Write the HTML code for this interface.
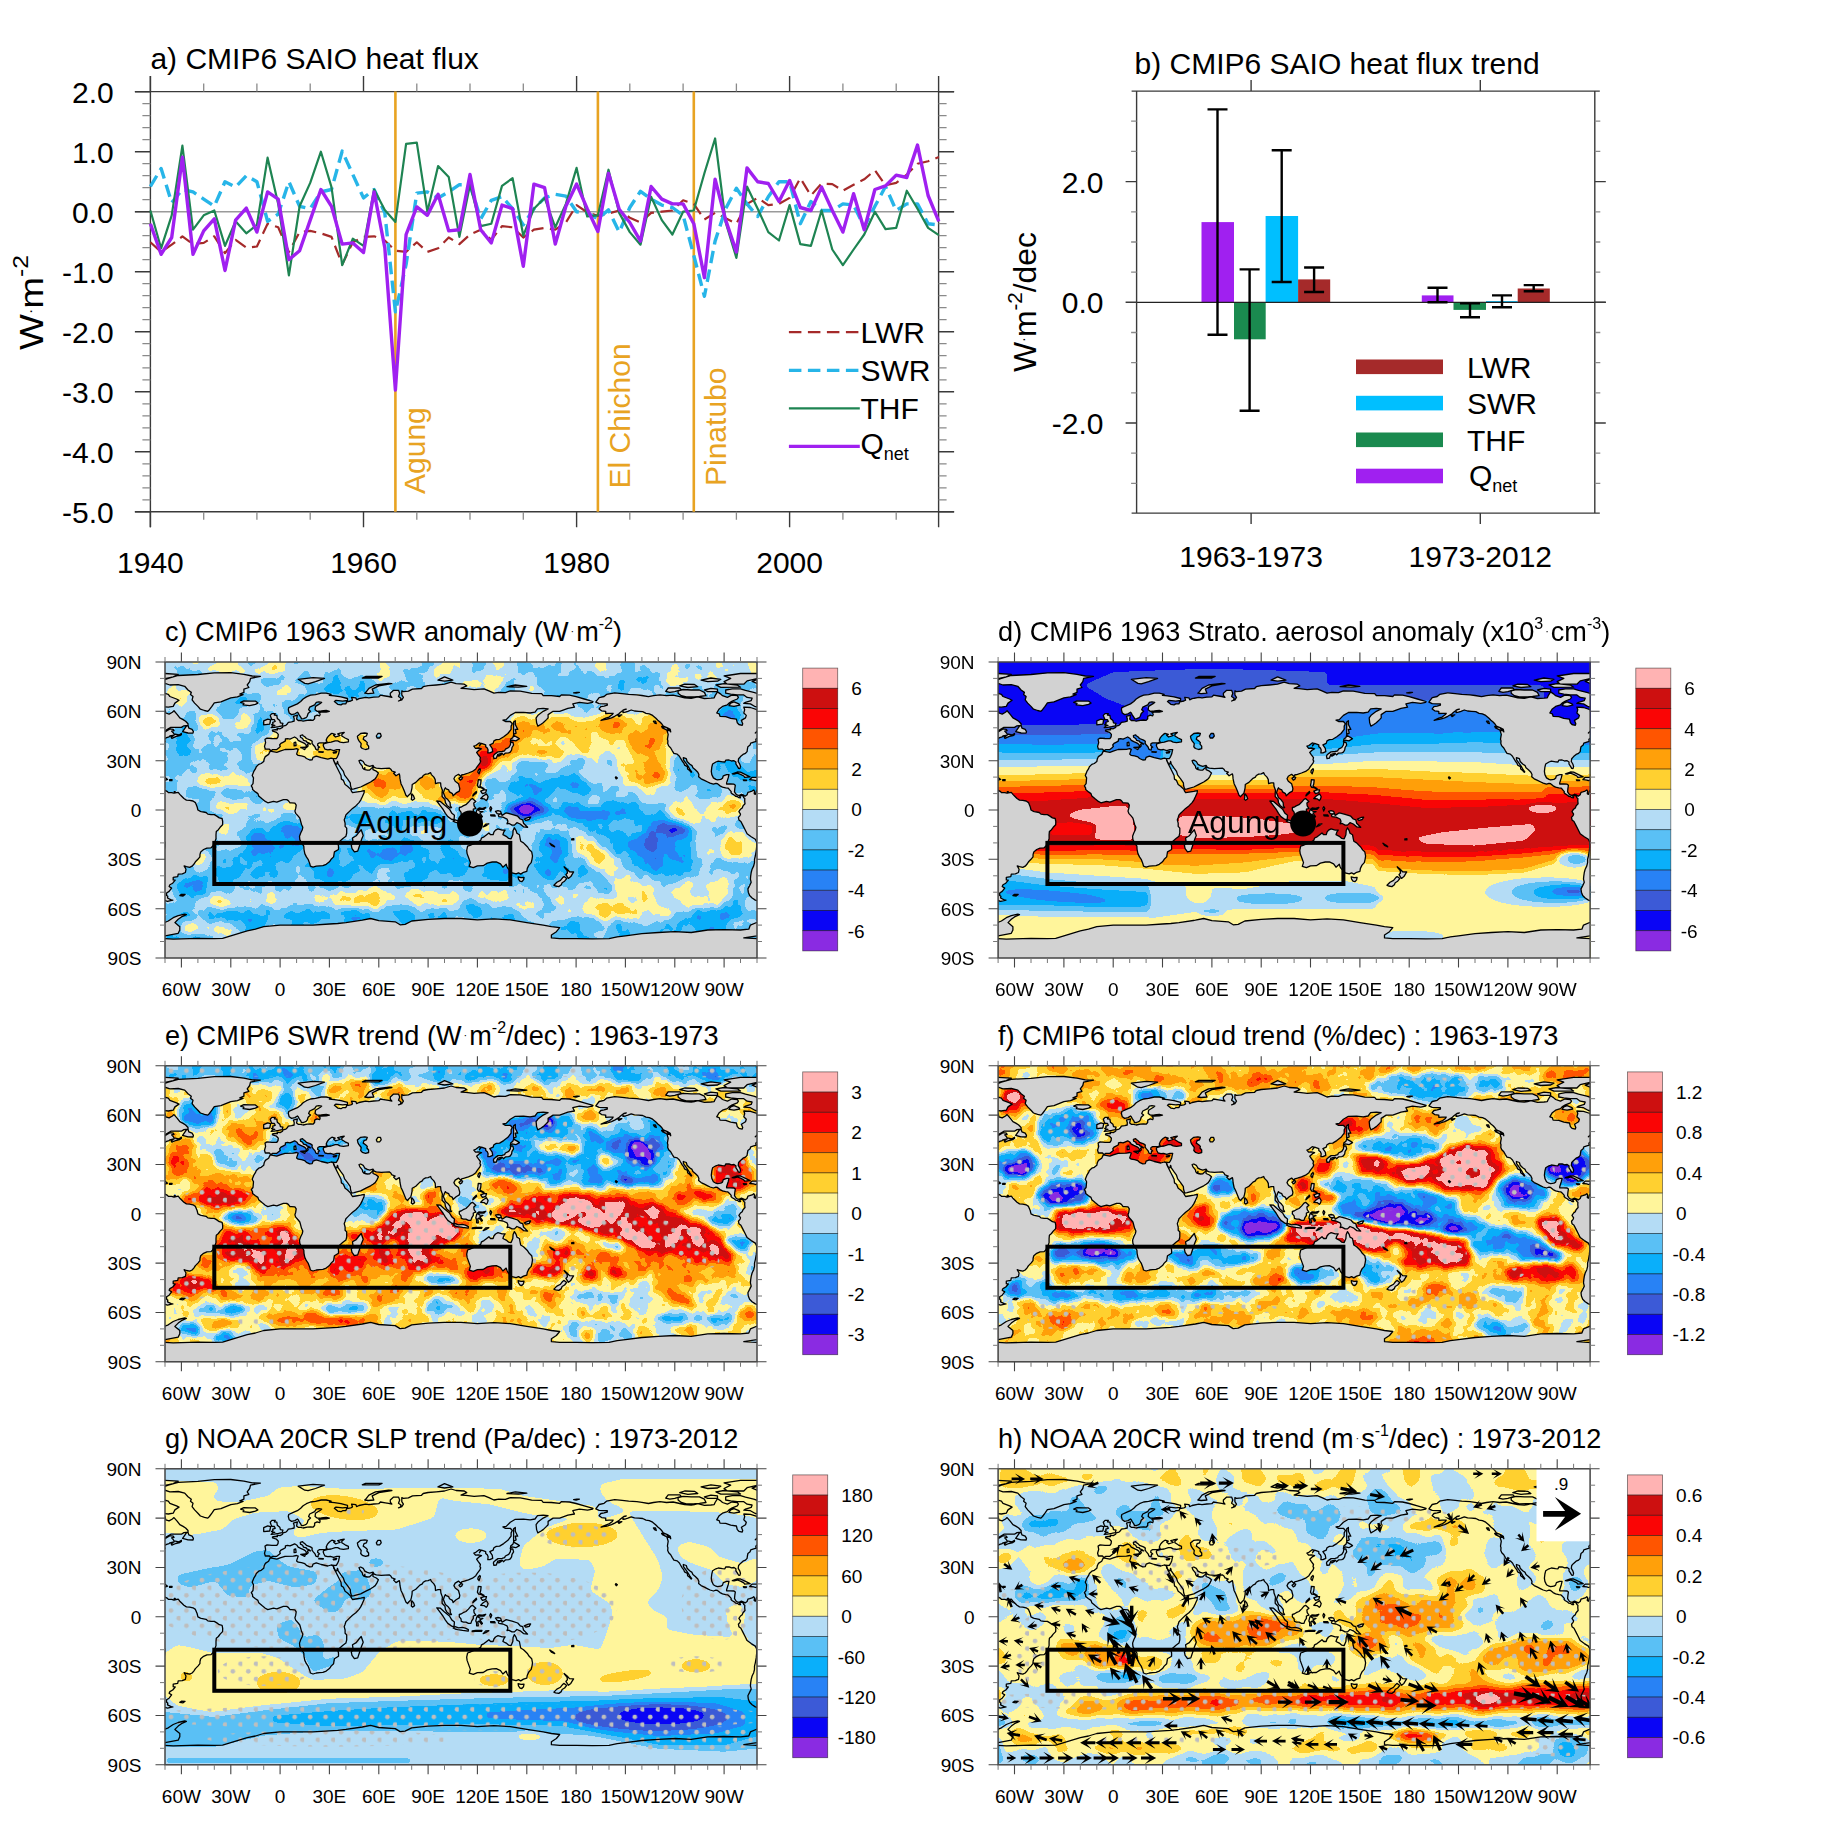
<!DOCTYPE html><html><head><meta charset="utf-8"><title>Figure</title><style>html,body{margin:0;padding:0;background:#fff}svg{display:block}svg text{font-family:"Liberation Sans",sans-serif}</style></head><body>
<svg width="1833" height="1833" viewBox="0 0 1833 1833">
<rect width="1833" height="1833" fill="#fff"/>
<defs><clipPath id="mc"><rect x="0" y="0" width="592.0" height="296.0"/></clipPath><g id="land"><path fill-rule="evenodd" d="M105.9 88.8L104.4 87.2L102.8 87.2L100.3 87.2L99.5 84.4L100.6 80.6L100.0 77.3L102.0 76.1L106.9 76.5L111.8 76.6L113.0 74.8L113.3 72.4L111.5 70.4L107.7 69.2L107.4 68.2L110.2 67.7L112.5 67.9L112.1 66.3L115.1 66.8L117.6 65.4L117.9 64.1L120.9 63.3L122.5 61.7L123.3 60.3L126.6 59.9L129.1 59.2L129.2 56.7L128.4 54.3L132.4 53.1L132.0 55.1L131.6 57.1L133.2 58.5L135.7 58.5L138.1 59.2L142.2 58.4L145.5 58.0L148.0 58.4L149.6 56.7L149.6 54.3L152.1 53.1L154.6 53.9L155.2 52.1L153.8 50.6L156.2 50.2L161.2 50.0L164.4 49.3L161.2 48.5L156.2 49.0L152.1 49.3L150.1 47.7L150.5 44.4L155.4 41.4L156.7 40.3L153.8 39.8L151.3 40.3L149.6 42.8L144.7 45.2L143.6 47.7L145.5 49.3L143.1 51.5L142.2 54.3L141.1 55.6L138.6 56.7L136.5 56.9L136.0 55.6L134.0 52.6L133.2 51.0L132.4 50.2L129.9 51.8L126.6 52.6L124.2 51.0L123.3 47.7L123.7 45.7L128.3 43.6L132.4 41.9L135.7 39.5L138.1 37.0L141.4 34.9L145.5 33.2L150.5 32.6L156.2 31.2L161.2 31.2L166.1 32.4L164.4 33.4L169.4 33.9L176.0 34.9L182.5 36.5L182.5 38.5L177.6 39.1L171.0 38.3L169.4 39.5L172.7 42.3L176.0 42.9L177.6 41.9L180.9 41.8L181.7 39.8L185.8 39.0L187.5 38.2L186.6 35.4L190.8 35.8L191.6 37.8L194.0 36.7L200.6 35.4L203.9 35.8L208.8 35.2L213.8 34.9L215.4 33.2L220.3 34.0L223.6 34.5L226.9 35.4L225.3 33.4L225.3 31.2L228.6 28.3L233.5 28.3L234.7 31.2L233.5 34.5L236.0 36.2L235.5 38.2L233.5 39.0L236.8 37.8L238.4 35.4L236.8 32.9L236.8 28.8L238.4 29.6L243.4 29.1L247.5 27.1L256.5 26.5L258.2 24.7L263.1 23.7L271.3 23.0L279.5 22.2L286.1 20.2L291.1 21.7L299.3 22.2L301.7 23.8L296.0 26.3L300.9 26.6L309.1 27.6L319.0 26.8L323.9 28.8L328.9 31.2L333.8 30.4L340.4 30.6L345.3 28.8L355.2 29.1L361.8 30.4L366.7 31.4L376.6 31.6L378.2 33.5L386.4 33.7L394.7 34.5L396.3 32.9L404.5 33.2L411.1 34.7L419.3 37.0L428.0 39.5L427.5 40.3L422.6 41.4L414.4 40.3L407.8 41.9L409.5 45.2L402.9 46.4L394.7 49.3L388.1 49.3L383.1 52.6L383.1 55.9L381.5 57.6L378.2 60.8L375.7 62.5L372.8 64.1L371.6 60.8L371.1 55.9L373.3 52.9L378.2 49.3L383.1 46.9L378.2 46.4L372.5 46.9L370.0 50.2L365.1 51.0L358.5 50.3L350.3 50.5L345.3 53.4L341.2 57.6L337.9 58.2L340.4 59.5L345.3 59.5L347.3 61.7L346.1 64.1L346.1 67.4L342.9 71.5L338.7 74.8L334.6 77.3L331.3 77.6L328.9 78.9L328.1 81.4L324.8 82.9L327.2 86.3L327.7 89.6L324.8 90.9L322.8 90.9L323.1 88.0L322.3 86.0L320.7 84.7L320.7 82.9L316.5 81.4L314.4 83.9L315.7 81.4L314.1 80.9L310.8 83.5L308.8 84.2L310.5 86.3L313.3 86.0L316.5 86.8L314.1 88.1L311.6 90.4L313.3 92.9L315.4 95.7L314.9 97.8L315.7 99.0L314.9 101.1L312.4 104.4L310.8 106.9L307.5 109.4L303.4 111.0L299.3 112.3L296.6 113.0L296.0 114.6L293.5 112.3L290.2 114.3L288.9 116.8L290.2 119.2L293.5 121.7L294.8 126.6L294.3 129.1L291.1 130.9L288.1 133.7L287.4 131.6L284.5 129.9L283.7 127.9L281.2 126.9L280.4 125.8L279.5 127.4L278.4 130.7L279.2 132.7L280.4 135.7L282.8 137.6L285.1 140.6L285.3 143.9L286.5 145.7L285.3 145.9L282.0 143.4L280.4 140.6L280.0 137.6L277.1 134.5L277.1 130.7L277.4 128.3L275.9 124.2L275.6 120.9L273.0 120.9L270.5 121.7L270.2 117.6L268.9 115.1L266.4 112.6L265.6 110.7L263.1 111.8L260.6 112.1L258.2 113.5L257.3 115.1L254.9 116.3L250.8 120.4L247.2 122.5L247.0 125.8L246.3 129.1L245.8 131.1L243.7 133.2L242.5 134.7L240.9 133.2L239.3 129.1L237.6 125.0L236.0 121.7L235.0 116.9L234.7 113.5L234.3 111.8L231.0 113.8L228.6 111.3L230.2 110.2L226.9 109.0L225.8 107.2L224.5 106.2L220.3 106.4L216.2 106.6L211.3 106.1L209.2 105.4L208.0 103.4L204.7 104.3L202.3 103.6L199.8 102.3L198.2 99.5L195.7 98.2L194.0 98.7L194.9 101.1L197.3 104.1L197.7 106.1L199.0 107.4L199.8 105.6L200.0 107.7L202.3 108.2L204.7 108.0L207.2 105.6L207.9 104.7L208.0 107.7L211.3 109.2L213.4 111.0L211.8 114.3L210.2 116.8L208.0 118.4L205.6 120.0L200.9 122.3L195.7 125.0L189.1 126.9L186.6 127.3L185.5 123.7L185.3 120.9L182.5 116.8L179.6 113.1L178.4 109.4L176.0 106.1L173.2 102.0L172.5 99.5L171.8 102.0L170.5 102.0L168.7 98.8L168.2 96.7L171.3 96.5L172.5 94.6L173.6 92.1L174.1 89.6L174.6 87.6L171.8 87.6L168.6 88.6L165.4 87.5L162.8 87.8L160.0 87.2L158.7 84.7L158.2 83.0L158.7 81.9L160.3 81.4L162.8 80.6L166.1 80.2L170.2 78.9L172.7 78.9L175.1 80.1L178.4 80.6L183.4 79.8L183.4 77.6L180.1 76.0L176.8 74.0L176.8 72.4L179.2 70.4L175.1 71.2L172.7 71.9L175.1 73.5L173.2 74.2L170.5 75.0L168.6 73.2L170.2 72.4L166.9 71.4L165.3 72.4L163.9 73.7L162.3 75.6L161.2 78.1L162.0 79.8L160.3 80.6L157.9 80.9L154.6 80.9L152.9 81.7L152.6 83.4L154.6 85.2L153.3 85.7L153.1 88.0L151.6 87.6L150.8 87.2L150.0 85.0L148.3 83.0L147.0 81.4L147.2 79.3L145.5 78.1L141.4 76.5L139.8 74.8L138.1 73.7L137.6 72.8L135.3 73.5L135.5 75.3L137.6 76.5L138.5 78.3L141.4 79.1L141.4 79.9L144.7 81.4L145.5 82.1L143.1 81.6L142.4 82.9L143.2 83.9L141.6 85.5L140.9 85.5L141.4 83.9L140.6 82.2L139.0 81.1L135.7 79.6L133.2 78.3L132.0 76.5L129.6 75.0L127.4 76.0L125.0 77.1L122.5 76.6L120.4 77.0L120.4 78.9L118.4 80.1L115.9 81.4L114.6 83.0L115.3 84.4L114.0 85.8L111.8 87.5L107.7 87.6ZM192.4 74.3L195.7 71.5L199.8 71.0L202.3 71.5L201.4 74.0L199.0 74.8L198.2 77.3L200.6 78.9L202.3 80.6L201.9 82.2L203.6 84.2L203.6 86.7L200.6 87.5L197.3 86.5L195.7 84.7L196.2 81.7L194.0 78.9L192.9 76.8ZM211.3 74.0L212.9 71.5L215.4 71.5L216.2 74.0L214.6 76.0L212.1 76.0Z"/><path d="M105.2 89.1L111.8 90.3L115.1 89.1L120.0 87.5L128.3 87.3L131.6 86.7L133.2 87.3L132.4 89.6L131.6 92.1L133.2 93.4L136.5 93.9L139.8 94.9L141.4 96.5L144.7 98.0L147.2 97.8L148.0 95.4L151.3 94.1L156.2 95.7L162.8 97.2L166.1 96.2L168.2 96.7L168.7 98.8L170.2 102.0L173.5 108.5L176.0 113.5L176.4 117.1L178.4 118.4L180.1 122.5L182.5 124.2L185.8 127.4L186.3 128.9L187.5 130.7L190.8 130.2L195.7 129.4L199.3 128.6L199.0 130.9L197.3 134.8L195.7 138.1L194.0 140.6L190.8 143.9L187.5 146.4L184.2 149.6L182.5 151.3L180.9 152.9L180.1 155.4L179.2 157.9L180.1 161.2L180.1 164.4L181.7 166.1L181.7 171.0L180.9 174.3L177.6 176.8L175.1 178.9L172.7 180.9L173.5 184.2L173.5 187.5L169.4 189.9L169.0 192.4L168.6 194.9L166.1 197.3L164.4 199.8L161.2 202.3L157.9 203.6L154.6 203.9L151.3 204.2L148.0 205.2L145.4 204.2L144.7 201.4L143.1 197.3L141.4 194.9L139.8 191.6L139.0 187.5L138.8 184.2L136.5 180.9L134.8 177.6L134.5 174.3L135.7 171.0L137.3 167.7L137.8 165.3L136.5 162.5L135.3 157.9L134.8 156.2L133.2 154.2L130.7 151.3L129.9 149.1L130.7 146.4L131.2 143.1L129.9 141.1L126.6 140.8L125.0 140.9L123.3 138.6L121.7 137.6L118.4 137.6L115.1 138.8L111.8 140.1L108.5 139.4L102.8 140.8L100.3 139.4L97.0 136.8L93.7 134.0L92.9 131.6L90.4 129.9L87.6 127.6L87.5 125.8L86.3 123.8L88.0 121.7L88.3 118.4L88.5 115.9L87.2 113.5L88.8 109.4L90.4 106.9L91.3 104.7L93.7 102.4L96.2 101.5L98.7 99.5L99.2 97.0L100.3 94.6L103.6 92.4ZM-161.2 40.1L-157.9 35.7L-152.9 34.5L-150.5 32.4L-142.2 30.8L-134.8 31.6L-128.3 32.4L-120.0 32.9L-115.1 33.5L-108.5 34.7L-103.6 33.7L-97.0 32.9L-90.4 33.7L-83.9 33.2L-77.3 34.7L-72.4 35.8L-65.8 36.3L-62.5 35.7L-59.2 34.9L-52.6 36.5L-46.0 36.2L-42.8 35.8L-41.9 33.7L-39.5 29.9L-36.2 32.1L-34.5 33.7L-29.6 35.4L-26.3 33.7L-24.7 33.2L-19.7 33.7L-18.6 35.4L-19.7 37.0L-24.7 39.0L-28.0 41.1L-29.6 42.8L-34.5 44.4L-37.8 46.9L-40.3 51.0L-37.8 51.8L-37.0 54.3L-31.2 54.6L-26.3 56.4L-20.6 57.2L-19.7 60.8L-18.1 62.5L-14.8 63.3L-14.3 61.7L-15.6 58.4L-11.5 55.9L-10.7 53.4L-13.2 51.0L-12.3 47.7L-13.2 45.2L-6.6 45.5L0.0 47.7L0.8 51.0L4.1 52.1L7.4 50.2L9.0 48.8L12.3 52.6L14.8 55.9L18.1 57.6L20.6 59.2L23.0 61.7L23.0 63.3L18.9 63.8L16.4 65.4L9.9 65.4L5.8 65.4L1.6 67.9L-1.6 71.0L0.8 69.4L4.9 66.9L8.2 67.4L9.0 68.6L6.6 69.1L8.2 70.7L9.0 72.0L14.0 73.0L16.4 71.5L16.4 72.7L14.8 73.7L10.7 74.7L6.9 76.3L6.2 75.1L9.0 73.2L4.9 74.0L4.1 74.8L1.6 75.6L-0.8 76.8L-1.3 78.1L0.0 79.4L-2.5 79.9L-6.2 81.1L-6.9 83.0L-9.0 84.7L-9.5 87.2L-9.9 89.6L-11.5 91.3L-14.0 92.4L-16.4 94.6L-18.4 96.7L-18.7 99.5L-17.3 102.0L-16.4 104.4L-17.1 106.6L-18.4 106.4L-19.7 104.1L-21.0 102.0L-21.0 100.0L-23.0 98.7L-25.5 99.0L-28.0 98.0L-31.2 98.2L-32.1 100.0L-34.5 99.8L-38.6 99.2L-41.1 100.0L-44.4 102.0L-45.2 105.2L-45.7 109.4L-45.2 112.6L-43.6 115.9L-41.1 117.4L-39.5 117.9L-36.2 117.4L-34.5 116.3L-33.7 113.8L-30.4 112.6L-28.0 112.6L-28.8 115.9L-29.6 118.4L-30.4 120.9L-30.4 122.0L-26.3 122.0L-23.0 122.2L-21.7 123.3L-22.2 126.6L-22.5 129.9L-20.6 132.7L-18.1 133.5L-15.6 132.4L-13.2 133.2L-12.0 134.3L-9.9 132.7L-9.0 130.4L-7.4 129.9L-4.9 129.1L-3.3 127.9L-2.5 129.1L-2.8 131.6L-1.6 132.4L-0.8 129.6L0.0 128.3L2.5 129.6L3.3 130.6L6.6 130.6L9.0 131.2L13.2 130.4L14.8 132.4L16.4 134.0L18.9 136.5L21.4 138.1L24.7 138.3L28.0 139.0L30.4 140.6L32.1 144.7L32.9 148.0L35.4 149.3L36.2 149.6L41.1 150.5L42.8 152.1L46.0 152.6L49.3 152.6L51.8 154.1L54.3 155.9L57.1 156.5L57.7 159.5L57.6 162.8L55.1 165.3L53.4 167.7L51.3 169.4L51.0 172.7L51.0 176.8L49.8 180.1L47.7 184.2L46.0 185.8L41.9 186.1L38.6 187.5L35.7 189.9L35.0 192.4L34.9 194.9L32.9 197.3L30.4 199.8L28.8 202.3L27.1 204.2L24.7 205.4L21.4 204.7L19.1 203.9L21.0 207.2L20.4 210.5L17.3 211.8L13.2 212.1L12.7 214.6L8.2 215.4L8.2 217.9L10.2 218.2L7.7 221.2L4.9 222.8L4.1 224.5L6.6 226.1L4.1 229.4L1.6 231.0L1.6 233.5L2.8 234.3L2.5 236.0L6.6 238.1L7.9 238.1L2.5 239.3L-1.6 238.1L-4.9 236.0L-7.4 233.5L-8.7 230.2L-9.0 226.9L-7.4 223.6L-5.8 220.3L-6.6 217.1L-6.2 213.8L-5.8 210.5L-4.9 207.2L-3.3 203.9L-2.5 200.6L-2.5 197.3L-1.6 194.0L-0.8 189.1L-0.3 184.2L-0.3 180.1L-1.6 177.3L-5.8 174.8L-9.9 171.8L-11.8 167.7L-14.0 163.6L-16.1 159.5L-18.1 157.9L-18.6 155.4L-16.9 153.6L-16.4 152.1L-18.1 149.6L-16.4 147.2L-14.8 145.9L-14.0 143.9L-12.0 141.7L-12.3 139.0L-12.2 136.5L-13.2 135.7L-14.0 134.0L-15.6 133.4L-17.3 134.5L-16.4 135.8L-18.1 135.7L-19.7 134.5L-21.4 134.3L-22.5 133.2L-24.7 131.9L-26.0 130.7L-25.8 129.6L-28.0 127.1L-29.1 126.1L-31.2 125.8L-34.5 125.1L-37.0 123.8L-39.5 121.7L-41.1 121.4L-43.6 122.2L-46.9 121.2L-49.3 120.0L-52.6 118.4L-55.9 116.8L-58.4 114.8L-58.0 112.6L-59.2 110.2L-61.7 107.7L-64.1 105.7L-65.0 103.6L-67.4 102.0L-69.9 99.5L-70.7 96.7L-73.7 95.7L-73.5 97.8L-71.5 100.6L-69.9 102.8L-68.2 105.2L-66.9 107.7L-65.3 109.8L-65.8 110.3L-67.4 108.5L-69.4 106.9L-69.6 104.7L-72.4 103.1L-73.2 101.1L-74.8 99.0L-76.5 96.2L-77.6 94.2L-79.8 92.1L-83.0 91.3L-84.7 88.8L-86.3 86.0L-88.3 83.9L-89.3 81.6L-89.1 78.9L-89.6 77.3L-88.8 72.4L-89.9 68.6L-87.2 68.6L-86.3 69.9L-86.8 67.4L-89.6 65.8L-93.7 64.1L-95.0 62.0L-97.0 60.0L-99.2 58.2L-101.1 56.2L-104.4 53.4L-107.7 51.8L-111.0 51.3L-114.3 49.7L-118.4 49.3L-122.5 49.0L-125.8 48.0L-129.1 49.3L-131.6 50.2L-134.0 50.6L-134.0 48.2L-130.7 47.2L-133.2 47.7L-136.5 50.2L-138.1 51.8L-142.2 54.3L-145.5 55.9L-149.6 57.2L-153.8 57.9L-155.9 58.4L-151.3 56.2L-148.0 55.1L-144.7 52.6L-143.9 51.3L-148.0 51.3L-151.3 51.5L-151.3 49.3L-155.4 48.8L-157.9 46.9L-156.2 44.7L-152.9 44.1L-149.6 43.2L-149.6 41.9L-152.9 41.9L-157.9 41.6ZM430.8 40.1L434.1 35.7L439.1 34.5L441.5 32.4L449.7 30.8L457.1 31.6L463.7 32.4L471.9 32.9L476.9 33.5L483.5 34.7L488.4 33.7L495.0 32.9L501.5 33.7L508.1 33.2L514.7 34.7L519.6 35.8L526.2 36.3L529.5 35.7L532.8 34.9L539.4 36.5L545.9 36.2L549.2 35.8L550.1 33.7L552.5 29.9L555.8 32.1L557.5 33.7L562.4 35.4L565.7 33.7L567.3 33.2L572.3 33.7L573.4 35.4L572.3 37.0L567.3 39.0L564.0 41.1L562.4 42.8L557.5 44.4L554.2 46.9L551.7 51.0L554.2 51.8L555.0 54.3L560.7 54.6L565.7 56.4L571.4 57.2L572.3 60.8L573.9 62.5L577.2 63.3L577.7 61.7L576.4 58.4L580.5 55.9L581.3 53.4L578.8 51.0L579.7 47.7L578.8 45.2L585.4 45.5L592.0 47.7L592.8 51.0L596.1 52.1L599.4 50.2L601.0 48.8L604.3 52.6L606.8 55.9L610.1 57.6L612.5 59.2L615.0 61.7L615.0 63.3L610.9 63.8L608.4 65.4L601.9 65.4L597.7 65.4L593.6 67.9L590.3 71.0L592.8 69.4L596.9 66.9L600.2 67.4L601.0 68.6L598.6 69.1L600.2 70.7L601.0 72.0L606.0 73.0L608.4 71.5L608.4 72.7L606.8 73.7L602.7 74.7L598.9 76.3L598.2 75.1L601.0 73.2L596.9 74.0L596.1 74.8L593.6 75.6L591.2 76.8L590.7 78.1L592.0 79.4L589.5 79.9L585.7 81.1L585.1 83.0L582.9 84.7L582.4 87.2L582.1 89.6L580.5 91.3L578.0 92.4L575.5 94.6L573.6 96.7L573.2 99.5L574.7 102.0L575.5 104.4L574.9 106.6L573.6 106.4L572.3 104.1L570.9 102.0L570.9 100.0L569.0 98.7L566.5 99.0L564.0 98.0L560.7 98.2L559.9 100.0L557.5 99.8L553.3 99.2L550.9 100.0L547.6 102.0L546.8 105.2L546.3 109.4L546.8 112.6L548.4 115.9L550.9 117.4L552.5 117.9L555.8 117.4L557.5 116.3L558.3 113.8L561.6 112.6L564.0 112.6L563.2 115.9L562.4 118.4L561.6 120.9L561.6 122.0L565.7 122.0L569.0 122.2L570.3 123.3L569.8 126.6L569.5 129.9L571.4 132.7L573.9 133.5L576.4 132.4L578.8 133.2L580.0 134.3L582.1 132.7L582.9 130.4L584.6 129.9L587.1 129.1L588.7 127.9L589.5 129.1L589.2 131.6L590.3 132.4L591.2 129.6L592.0 128.3L594.5 129.6L595.3 130.6L598.6 130.6L601.0 131.2L605.1 130.4L606.8 132.4L608.4 134.0L610.9 136.5L613.4 138.1L616.6 138.3L619.9 139.0L622.4 140.6L624.0 144.7L624.9 148.0L627.3 149.3L628.2 149.6L633.1 150.5L634.7 152.1L638.0 152.6L641.3 152.6L643.8 154.1L646.2 155.9L649.0 156.5L649.7 159.5L649.5 162.8L647.1 165.3L645.4 167.7L643.3 169.4L643.0 172.7L643.0 176.8L641.8 180.1L639.7 184.2L638.0 185.8L633.9 186.1L630.6 187.5L627.7 189.9L627.0 192.4L626.8 194.9L624.9 197.3L622.4 199.8L620.8 202.3L619.1 204.2L616.6 205.4L613.4 204.7L611.1 203.9L613.0 207.2L612.4 210.5L609.3 211.8L605.1 212.1L604.6 214.6L600.2 215.4L600.2 217.9L602.2 218.2L599.7 221.2L596.9 222.8L596.1 224.5L598.6 226.1L596.1 229.4L593.6 231.0L593.6 233.5L594.8 234.3L594.5 236.0L598.6 238.1L599.9 238.1L594.5 239.3L590.3 238.1L587.1 236.0L584.6 233.5L583.3 230.2L582.9 226.9L584.6 223.6L586.2 220.3L585.4 217.1L585.7 213.8L586.2 210.5L587.1 207.2L588.7 203.9L589.5 200.6L589.5 197.3L590.3 194.0L591.2 189.1L591.7 184.2L591.7 180.1L590.3 177.3L586.2 174.8L582.1 171.8L580.1 167.7L578.0 163.6L575.9 159.5L573.9 157.9L573.4 155.4L575.0 153.6L575.5 152.1L573.9 149.6L575.5 147.2L577.2 145.9L578.0 143.9L580.0 141.7L579.7 139.0L579.8 136.5L578.8 135.7L578.0 134.0L576.4 133.4L574.7 134.5L575.5 135.8L573.9 135.7L572.3 134.5L570.6 134.3L569.5 133.2L567.3 131.9L566.0 130.7L566.2 129.6L564.0 127.1L562.9 126.1L560.7 125.8L557.5 125.1L555.0 123.8L552.5 121.7L550.9 121.4L548.4 122.2L545.1 121.2L542.7 120.0L539.4 118.4L536.1 116.8L533.6 114.8L533.9 112.6L532.8 110.2L530.3 107.7L527.9 105.7L527.0 103.6L524.6 102.0L522.1 99.5L521.3 96.7L518.3 95.7L518.5 97.8L520.5 100.6L522.1 102.8L523.7 105.2L525.1 107.7L526.7 109.8L526.2 110.3L524.6 108.5L522.6 106.9L522.4 104.7L519.6 103.1L518.8 101.1L517.2 99.0L515.5 96.2L514.4 94.2L512.2 92.1L508.9 91.3L507.3 88.8L505.7 86.0L503.7 83.9L502.7 81.6L502.9 78.9L502.4 77.3L503.2 72.4L502.0 68.6L504.8 68.6L505.7 69.9L505.2 67.4L502.4 65.8L498.3 64.1L496.9 62.0L495.0 60.0L492.8 58.2L490.9 56.2L487.6 53.4L484.3 51.8L481.0 51.3L477.7 49.7L473.6 49.3L469.5 49.0L466.2 48.0L462.9 49.3L460.4 50.2L458.0 50.6L458.0 48.2L461.3 47.2L458.8 47.7L455.5 50.2L453.9 51.8L449.7 54.3L446.5 55.9L442.3 57.2L438.2 57.9L436.1 58.4L440.7 56.2L444.0 55.1L447.3 52.6L448.1 51.3L444.0 51.3L440.7 51.5L440.7 49.3L436.6 48.8L434.1 46.9L435.8 44.7L439.1 44.1L442.3 43.2L442.3 41.9L439.1 41.9L434.1 41.6ZM-4.9 19.4L3.3 16.4L13.2 13.5L32.9 12.5L49.3 10.9L65.8 10.7L78.9 12.3L87.2 14.0L95.4 14.3L85.5 16.4L84.7 19.7L82.2 23.0L83.9 25.5L78.9 27.1L78.9 30.4L74.8 32.1L78.1 32.6L72.4 34.9L65.8 35.8L60.8 37.8L55.9 39.8L49.3 40.8L46.9 44.4L44.4 47.7L42.8 49.3L39.5 48.5L35.4 47.2L32.9 44.4L29.6 41.1L27.1 37.8L28.0 34.5L25.5 32.4L26.3 30.4L23.0 28.0L19.7 24.3L13.2 22.7L4.9 23.0L0.0 21.4ZM587.1 19.4L595.3 16.4L605.1 13.5L624.9 12.5L641.3 10.9L657.8 10.7L670.9 12.3L679.1 14.0L687.4 14.3L677.5 16.4L676.7 19.7L674.2 23.0L675.8 25.5L670.9 27.1L670.9 30.4L666.8 32.1L670.1 32.6L664.3 34.9L657.8 35.8L652.8 37.8L647.9 39.8L641.3 40.8L638.8 44.4L636.4 47.7L634.7 49.3L631.4 48.5L627.3 47.2L624.9 44.4L621.6 41.1L619.1 37.8L619.9 34.5L617.5 32.4L618.3 30.4L615.0 28.0L611.7 24.3L605.1 22.7L596.9 23.0L592.0 21.4ZM14.0 38.3L9.9 41.1L8.2 44.4L3.3 45.2L-1.6 44.7L-6.6 41.9L-13.2 41.4L-11.5 40.3L-5.8 38.6L-4.9 36.2L-9.9 35.4L-13.2 32.9L-19.7 32.9L-26.3 32.1L-31.2 31.2L-31.2 28.0L-24.7 26.8L-16.4 26.8L-11.5 28.4L-3.3 30.4L3.3 32.4L4.9 34.5L11.5 37.0ZM606.0 38.3L601.9 41.1L600.2 44.4L595.3 45.2L590.3 44.7L585.4 41.9L578.8 41.4L580.5 40.3L586.2 38.6L587.1 36.2L582.1 35.4L578.8 32.9L572.3 32.9L565.7 32.1L560.7 31.2L560.7 28.0L567.3 26.8L575.5 26.8L580.5 28.4L588.7 30.4L595.3 32.4L596.9 34.5L603.5 37.0ZM-13.2 22.2L-29.6 22.2L-32.9 19.7L-26.3 16.4L-32.9 14.0L-16.4 11.5L0.0 11.5L13.2 12.3L8.2 14.8L-3.3 17.3L-9.9 18.9ZM578.8 22.2L562.4 22.2L559.1 19.7L565.7 16.4L559.1 14.0L575.5 11.5L592.0 11.5L605.1 12.3L600.2 14.8L588.7 17.3L582.1 18.9ZM534.4 34.5L541.0 33.7L539.4 30.4L534.4 28.0L526.2 28.0L518.0 27.5L513.1 28.8L513.1 31.2L516.3 33.7L521.3 35.0L529.5 34.9ZM504.8 30.4L500.7 29.3L503.2 26.0L514.7 26.0L516.3 27.6L509.8 29.6ZM575.5 25.2L555.8 25.3L550.9 23.0L559.1 21.7L572.3 23.0ZM532.8 24.7L522.9 25.5L514.7 23.8L519.6 22.2L529.5 22.5ZM552.5 29.6L542.7 29.6L539.4 28.0L545.9 26.3L552.5 27.1ZM552.5 19.2L542.7 19.7L536.1 18.1L545.9 16.0L555.8 17.3ZM574.7 43.2L569.0 44.4L564.0 43.6L565.7 41.1L569.0 39.8L573.9 41.9ZM17.6 69.6L23.0 71.0L28.0 71.2L28.4 69.6L27.1 67.4L23.8 66.1L23.0 63.3L21.4 64.1L19.7 66.6ZM567.3 111.8L572.3 110.0L575.5 110.2L580.5 112.6L585.1 114.8L579.7 115.3L578.8 114.0L575.5 112.3L572.3 111.2L569.0 112.1ZM-7.2 117.7L-4.9 115.3L0.0 115.4L2.6 117.4L-1.6 118.7L-3.3 118.1ZM584.7 117.7L587.1 115.3L592.0 115.4L594.6 117.4L590.3 118.7L588.7 118.1ZM578.3 117.9L581.6 118.1L581.3 118.7L578.8 118.7ZM4.6 117.7L7.1 117.7L6.9 118.6L4.6 118.6ZM75.6 40.3L78.9 38.8L85.5 39.1L90.4 39.1L92.9 41.1L90.4 42.3L84.7 43.7L78.1 42.9L78.9 41.4ZM106.1 65.6L109.4 65.3L113.5 64.6L117.2 63.8L117.9 61.3L115.4 60.8L114.8 58.4L112.3 56.4L111.8 53.4L109.4 53.1L110.2 51.6L106.9 51.6L105.2 53.4L106.1 55.9L106.9 57.6L109.4 57.7L110.2 59.5L107.7 60.3L108.0 61.7L106.6 62.8L109.8 63.5L107.7 64.1ZM98.7 62.8L104.7 62.2L105.2 60.0L105.6 57.9L102.8 57.1L98.7 58.9ZM133.2 17.3L139.8 21.4L143.1 21.9L150.5 19.7L159.5 16.4L148.0 15.6ZM199.8 31.2L203.1 31.7L208.8 31.2L207.2 27.1L213.8 23.8L226.9 21.7L223.6 21.4L210.5 23.0L203.9 26.3L201.4 29.6ZM273.0 18.1L279.5 19.2L287.8 18.1L279.5 14.8ZM342.0 24.7L353.5 25.2L361.8 24.3L350.3 23.0ZM197.3 16.0L213.8 16.0L217.1 14.5L200.6 14.5ZM411.1 31.2L414.4 30.4L411.9 30.3L408.6 30.9ZM328.9 96.5L331.3 96.2L332.2 93.7L333.8 92.1L337.1 91.3L338.4 92.9L340.4 91.1L343.7 90.8L345.3 90.1L346.6 88.0L347.0 85.5L348.6 83.0L347.8 80.1L345.7 80.6L345.3 83.0L343.7 85.5L340.4 87.2L339.6 88.8L337.1 89.5L333.0 89.8L330.5 91.6L328.9 92.9L328.4 94.2ZM332.7 92.3L336.3 91.8L336.3 92.6L333.8 94.1L332.5 93.4ZM345.3 79.8L347.0 78.1L350.8 78.9L354.4 76.8L352.7 75.6L348.6 73.3L347.8 75.6L345.8 77.0ZM348.6 72.4L351.1 71.2L350.3 67.4L352.7 67.4L350.3 62.5L350.3 58.7L348.6 60.0L348.6 65.8ZM312.8 110.2L314.1 111.8L315.4 107.7L314.9 106.6L313.3 108.2ZM293.9 116.4L295.2 118.1L296.8 117.1L297.6 115.4L296.0 114.9ZM246.3 132.2L246.7 134.8L246.3 137.3L247.5 138.3L249.6 136.8L248.6 134.0L247.0 132.0ZM313.3 117.6L316.1 117.9L315.7 121.7L314.9 124.2L319.0 126.6L319.0 127.4L315.7 125.5L313.6 125.3L312.4 123.3L312.9 120.9ZM315.7 136.5L318.2 134.0L321.5 131.9L323.1 134.8L322.3 137.3L321.2 138.5L319.0 136.8ZM315.7 129.1L317.4 131.6L320.7 130.7L321.5 127.8L319.0 127.8ZM307.8 134.0L311.6 130.7L311.3 129.4L308.3 132.4ZM271.8 139.0L275.4 139.4L279.5 143.1L284.5 147.2L286.9 151.3L289.4 153.3L289.1 157.5L286.9 157.5L282.8 154.6L280.4 151.3L277.9 147.2L275.4 143.9ZM288.1 159.2L290.2 157.9L293.5 159.0L297.3 158.5L300.4 159.3L303.4 160.8L303.2 162.3L297.6 161.6L292.7 160.8L290.1 160.2ZM294.3 145.5L296.0 145.2L298.1 143.9L300.9 142.7L303.4 140.3L305.9 137.3L307.5 136.5L310.8 139.4L308.8 141.1L309.1 143.9L310.8 146.4L308.3 147.2L308.3 149.6L306.7 152.1L305.9 154.6L303.4 154.6L300.9 153.3L298.5 153.4L296.3 152.6L296.0 150.1L294.3 148.0ZM311.6 157.0L313.3 157.0L312.9 152.9L314.1 152.4L316.5 155.4L317.4 154.6L314.9 151.0L317.9 149.6L314.9 149.3L312.8 148.0L314.1 147.2L319.0 147.3L320.7 145.5L317.4 146.4L314.1 146.0L312.4 147.2L311.6 148.8L310.8 152.1L311.6 153.8ZM330.5 149.3L333.0 148.7L335.5 149.3L337.1 153.4L341.2 150.8L347.0 152.3L352.7 154.2L355.2 157.0L357.7 157.9L358.5 161.2L362.6 165.3L358.5 164.8L355.2 162.0L351.9 160.7L349.4 163.1L347.0 163.1L343.7 161.3L342.0 161.8L342.9 159.2L342.0 157.0L337.9 155.2L333.8 154.6L333.3 152.9L335.5 151.8L332.2 151.6ZM318.2 164.9L320.7 162.1L323.9 161.8L320.7 163.9ZM307.2 162.0L310.8 161.6L317.0 161.5L316.5 162.6L310.8 162.6L307.2 162.8ZM324.8 146.4L325.6 144.7L326.7 146.4L325.6 149.1ZM325.6 152.9L329.7 152.9L330.2 154.1L325.9 153.9ZM359.3 157.0L363.4 155.4L365.6 155.1L364.2 157.5L360.9 158.4ZM302.6 184.2L301.7 188.3L302.1 191.6L304.2 197.3L305.4 200.6L304.2 204.4L308.3 205.6L312.4 203.9L318.2 203.7L322.3 201.1L327.2 200.0L331.3 199.8L335.5 201.8L337.9 205.2L341.2 202.3L342.0 204.7L342.9 206.4L345.0 208.5L347.0 210.8L351.1 211.8L353.5 210.8L355.7 212.1L358.5 210.3L361.8 209.3L362.3 206.4L363.9 203.1L366.2 200.6L367.0 197.3L367.5 194.0L366.7 189.9L364.2 187.5L362.6 185.0L360.1 182.5L358.5 180.9L355.7 179.2L355.2 176.8L354.4 172.7L351.9 171.3L351.1 168.6L349.4 165.8L348.1 168.6L347.8 172.7L346.1 176.8L343.7 176.4L341.2 174.3L337.9 172.7L338.7 170.2L340.1 168.1L337.1 168.1L333.0 166.9L330.5 168.2L328.9 170.2L328.1 172.7L325.6 172.7L323.9 171.0L320.7 173.5L319.0 174.8L316.5 176.0L315.7 178.4L312.4 180.6L308.3 181.9L305.0 183.4ZM353.1 214.9L356.0 215.6L359.0 215.3L358.5 217.9L356.8 219.7L354.9 219.2L353.5 217.1ZM399.1 204.7L402.1 207.2L404.5 209.8L408.6 210.0L407.0 212.6L405.8 214.6L403.4 216.4L402.5 215.1L400.9 212.6L402.4 211.0L402.1 208.5L399.6 205.6ZM399.1 214.6L401.7 216.6L399.6 219.2L397.1 220.7L396.3 222.8L393.8 224.6L390.5 224.0L388.9 223.3L391.9 220.3L395.5 218.4L397.9 215.4ZM196.2 167.7L198.2 173.5L196.5 177.6L194.9 182.5L192.7 189.1L189.4 189.9L187.0 186.6L186.3 183.4L188.1 180.6L187.5 176.0L191.2 173.8L194.0 170.2ZM384.8 181.2L388.9 183.8L389.7 184.8L386.4 183.4ZM406.7 176.8L408.8 176.6L408.8 177.9L406.7 177.9ZM450.9 114.8L452.4 115.9L451.2 116.9L450.4 115.6ZM16.4 232.4L20.1 232.5L18.1 234.0L14.8 233.5ZM129.1 80.6L130.7 80.2L131.1 83.5L129.1 83.9ZM135.7 85.5L140.6 85.2L139.8 87.6ZM153.8 89.6L158.4 89.9L157.9 90.4L153.8 90.1ZM168.2 90.4L171.8 89.5L171.0 90.9L168.6 91.1ZM9.9 130.1L10.2 129.7L9.2 129.7ZM496.6 64.5L501.5 65.4L504.0 68.2L501.5 67.9L497.4 65.8ZM488.4 59.2L490.5 59.2L491.3 61.7L489.5 60.8ZM455.5 53.6L456.8 52.8L453.0 53.4L453.9 54.6ZM-82.2 269.7L-65.8 270.5L-49.3 268.0L-32.9 267.7L-16.4 268.0L-8.2 267.2L-6.6 263.1L3.3 259.0L8.2 255.7L13.2 253.7L19.7 252.1L21.4 252.6L16.4 254.9L13.2 257.3L9.9 260.6L14.8 264.7L14.8 268.0L13.2 271.3L0.0 273.8L-13.2 275.9L8.2 277.1L32.9 276.3L49.3 276.6L57.6 276.3L65.8 273.8L74.0 271.3L82.2 268.9L90.4 267.2L98.7 264.7L115.1 263.1L131.6 263.1L148.0 263.1L164.4 262.0L172.7 261.5L180.9 260.6L197.3 258.2L205.6 256.5L213.8 258.7L230.2 259.8L235.1 262.8L240.1 262.3L246.7 259.0L263.1 257.3L279.5 256.5L296.0 256.5L312.4 257.8L328.9 256.9L345.3 257.8L361.8 260.6L378.2 263.1L386.4 264.7L394.7 265.7L391.4 269.7L386.4 273.0L386.4 275.9L394.7 276.6L411.1 276.6L427.5 276.9L444.0 276.6L452.2 274.9L460.4 273.8L476.9 271.7L493.3 270.5L509.8 269.7L526.2 270.5L542.7 268.0L559.1 267.7L575.5 268.0L583.8 267.2L585.4 263.1L595.3 259.0L600.2 255.7L605.1 253.7L611.7 252.1L613.4 252.6L608.4 254.9L605.1 257.3L601.9 260.6L606.8 264.7L606.8 268.0L605.1 271.3L592.0 273.8L578.8 275.9L600.2 277.1L624.9 276.3L641.3 276.6L649.5 276.3L657.8 273.8L666.0 271.3L674.2 268.9L674.2 304.2L-82.2 304.2Z"/></g>
<filter id="fd" filterUnits="userSpaceOnUse" x="-50" y="-50" width="692.0" height="396.0" color-interpolation-filters="sRGB"><feGaussianBlur in="SourceGraphic" stdDeviation="2.2" result="b"/><feComponentTransfer in="b"><feFuncR type="discrete" tableValues="0.541 0.039 0.235 0.157 0.039 0.353 0.706 1.000 1.000 1.000 1.000 0.980 0.804 1.000"/><feFuncG type="discrete" tableValues="0.169 0.020 0.353 0.510 0.686 0.753 0.863 0.961 0.816 0.627 0.333 0.020 0.063 0.702"/><feFuncB type="discrete" tableValues="0.886 0.961 0.843 0.961 0.980 0.961 0.961 0.608 0.188 0.039 0.000 0.020 0.063 0.702"/></feComponentTransfer></filter><filter id="fe" filterUnits="userSpaceOnUse" x="-50" y="-50" width="692.0" height="396.0" color-interpolation-filters="sRGB"><feGaussianBlur in="SourceGraphic" stdDeviation="3.5" result="b"/><feTurbulence type="fractalNoise" baseFrequency="0.045" numOctaves="3" seed="7" result="n"/><feColorMatrix in="n" type="matrix" values="1 0 0 0 0 1 0 0 0 0 1 0 0 0 0 0 0 0 0 1" result="ng"/><feComposite in="b" in2="ng" operator="arithmetic" k1="0" k2="1" k3="0.45" k4="-0.225" result="f"/><feComponentTransfer in="f"><feFuncR type="discrete" tableValues="0.541 0.039 0.235 0.157 0.039 0.353 0.706 1.000 1.000 1.000 1.000 0.980 0.804 1.000"/><feFuncG type="discrete" tableValues="0.169 0.020 0.353 0.510 0.686 0.753 0.863 0.961 0.816 0.627 0.333 0.020 0.063 0.702"/><feFuncB type="discrete" tableValues="0.886 0.961 0.843 0.961 0.980 0.961 0.961 0.608 0.188 0.039 0.000 0.020 0.063 0.702"/></feComponentTransfer></filter><filter id="ff" filterUnits="userSpaceOnUse" x="-50" y="-50" width="692.0" height="396.0" color-interpolation-filters="sRGB"><feGaussianBlur in="SourceGraphic" stdDeviation="3.5" result="b"/><feTurbulence type="fractalNoise" baseFrequency="0.045" numOctaves="3" seed="11" result="n"/><feColorMatrix in="n" type="matrix" values="1 0 0 0 0 1 0 0 0 0 1 0 0 0 0 0 0 0 0 1" result="ng"/><feComposite in="b" in2="ng" operator="arithmetic" k1="0" k2="1" k3="0.42" k4="-0.21" result="f"/><feComponentTransfer in="f"><feFuncR type="discrete" tableValues="0.541 0.039 0.235 0.157 0.039 0.353 0.706 1.000 1.000 1.000 1.000 0.980 0.804 1.000"/><feFuncG type="discrete" tableValues="0.169 0.020 0.353 0.510 0.686 0.753 0.863 0.961 0.816 0.627 0.333 0.020 0.063 0.702"/><feFuncB type="discrete" tableValues="0.886 0.961 0.843 0.961 0.980 0.961 0.961 0.608 0.188 0.039 0.000 0.020 0.063 0.702"/></feComponentTransfer></filter><filter id="fg" filterUnits="userSpaceOnUse" x="-50" y="-50" width="692.0" height="396.0" color-interpolation-filters="sRGB"><feGaussianBlur in="SourceGraphic" stdDeviation="2.5" result="b"/><feComponentTransfer in="b"><feFuncR type="discrete" tableValues="0.541 0.039 0.235 0.157 0.039 0.353 0.706 1.000 1.000 1.000 1.000 0.980 0.804 1.000"/><feFuncG type="discrete" tableValues="0.169 0.020 0.353 0.510 0.686 0.753 0.863 0.961 0.816 0.627 0.333 0.020 0.063 0.702"/><feFuncB type="discrete" tableValues="0.886 0.961 0.843 0.961 0.980 0.961 0.961 0.608 0.188 0.039 0.000 0.020 0.063 0.702"/></feComponentTransfer></filter><filter id="fh" filterUnits="userSpaceOnUse" x="-50" y="-50" width="692.0" height="396.0" color-interpolation-filters="sRGB"><feGaussianBlur in="SourceGraphic" stdDeviation="3.5" result="b"/><feTurbulence type="fractalNoise" baseFrequency="0.03" numOctaves="2" seed="5" result="n"/><feColorMatrix in="n" type="matrix" values="1 0 0 0 0 1 0 0 0 0 1 0 0 0 0 0 0 0 0 1" result="ng"/><feComposite in="b" in2="ng" operator="arithmetic" k1="0" k2="1" k3="0.26" k4="-0.13" result="f"/><feComponentTransfer in="f"><feFuncR type="discrete" tableValues="0.541 0.039 0.235 0.157 0.039 0.353 0.706 1.000 1.000 1.000 1.000 0.980 0.804 1.000"/><feFuncG type="discrete" tableValues="0.169 0.020 0.353 0.510 0.686 0.753 0.863 0.961 0.816 0.627 0.333 0.020 0.063 0.702"/><feFuncB type="discrete" tableValues="0.886 0.961 0.843 0.961 0.980 0.961 0.961 0.608 0.188 0.039 0.000 0.020 0.063 0.702"/></feComponentTransfer></filter><filter id="fc" filterUnits="userSpaceOnUse" x="-50" y="-50" width="692.0" height="396.0" color-interpolation-filters="sRGB"><feGaussianBlur in="SourceGraphic" stdDeviation="4" result="b"/><feTurbulence type="fractalNoise" baseFrequency="0.04" numOctaves="3" seed="3" result="n"/><feColorMatrix in="n" type="matrix" values="1 0 0 0 0 1 0 0 0 0 1 0 0 0 0 0 0 0 0 1" result="ng"/><feComposite in="b" in2="ng" operator="arithmetic" k1="0" k2="1" k3="0.3" k4="-0.15" result="f"/><feComponentTransfer in="f"><feFuncR type="discrete" tableValues="0.541 0.039 0.235 0.157 0.039 0.353 0.706 1.000 1.000 1.000 1.000 0.980 0.804 1.000"/><feFuncG type="discrete" tableValues="0.169 0.020 0.353 0.510 0.686 0.753 0.863 0.961 0.816 0.627 0.333 0.020 0.063 0.702"/><feFuncB type="discrete" tableValues="0.886 0.961 0.843 0.961 0.980 0.961 0.961 0.608 0.188 0.039 0.000 0.020 0.063 0.702"/></feComponentTransfer></filter><pattern id="dots" patternUnits="userSpaceOnUse" width="15.46" height="15.2"><circle cx="6" cy="5" r="2.35" fill="#BEBEBE"/><circle cx="13.73" cy="12.6" r="2.35" fill="#BEBEBE"/></pattern><clipPath id="ste"><ellipse cx="52.6" cy="132.4" rx="36.2" ry="9.9"/><ellipse cx="95.4" cy="182.5" rx="44.4" ry="21.4"/><ellipse cx="28.0" cy="222.0" rx="21.4" ry="11.5"/><ellipse cx="619.9" cy="222.0" rx="21.4" ry="11.5"/><ellipse cx="246.7" cy="167.7" rx="52.6" ry="23.0"/><ellipse cx="238.4" cy="194.0" rx="36.2" ry="13.2"/><ellipse cx="180.9" cy="200.6" rx="16.4" ry="13.2"/><ellipse cx="427.5" cy="152.9" rx="98.7" ry="14.8" transform="rotate(12 427.5 152.9)"/><ellipse cx="518.0" cy="177.6" rx="41.1" ry="14.8" transform="rotate(30 518.0 177.6)"/><ellipse cx="478.5" cy="87.2" rx="21.4" ry="16.4"/><ellipse cx="356.8" cy="102.0" rx="29.6" ry="9.9"/><ellipse cx="386.4" cy="62.5" rx="23.0" ry="13.2"/><ellipse cx="82.2" cy="3.3" rx="115.1" ry="7.4"/><ellipse cx="674.2" cy="3.3" rx="115.1" ry="7.4"/><ellipse cx="361.8" cy="6.6" rx="98.7" ry="4.9"/><ellipse cx="-46.0" cy="6.6" rx="65.8" ry="4.9"/><ellipse cx="545.9" cy="6.6" rx="65.8" ry="4.9"/><ellipse cx="-24.7" cy="108.5" rx="19.7" ry="18.1"/><ellipse cx="567.3" cy="108.5" rx="19.7" ry="18.1"/><ellipse cx="394.7" cy="197.3" rx="36.2" ry="14.8"/><ellipse cx="98.7" cy="256.5" rx="32.9" ry="4.9"/><ellipse cx="164.4" cy="225.3" rx="98.7" ry="4.9"/></clipPath><clipPath id="stf"><ellipse cx="70.7" cy="62.5" rx="26.3" ry="14.8"/><ellipse cx="19.7" cy="102.0" rx="19.7" ry="8.2"/><ellipse cx="611.7" cy="102.0" rx="19.7" ry="8.2"/><ellipse cx="65.8" cy="126.6" rx="24.7" ry="9.9" transform="rotate(-22 65.8 126.6)"/><ellipse cx="95.4" cy="155.4" rx="39.5" ry="9.0"/><ellipse cx="100.3" cy="186.6" rx="13.2" ry="4.9"/><ellipse cx="118.4" cy="39.5" rx="9.9" ry="6.6"/><ellipse cx="200.6" cy="149.6" rx="6.6" ry="6.6"/><ellipse cx="399.6" cy="152.1" rx="32.9" ry="8.2"/><ellipse cx="521.3" cy="125.0" rx="14.8" ry="8.2"/><ellipse cx="545.9" cy="185.8" rx="14.8" ry="6.6" transform="rotate(22 545.9 185.8)"/><ellipse cx="467.0" cy="100.3" rx="26.3" ry="21.4"/><ellipse cx="419.3" cy="108.5" rx="13.2" ry="4.9"/><ellipse cx="320.7" cy="166.1" rx="28.0" ry="9.9"/><ellipse cx="373.3" cy="174.3" rx="19.7" ry="9.9"/><ellipse cx="440.7" cy="187.5" rx="28.0" ry="11.5"/><ellipse cx="559.1" cy="166.1" rx="16.4" ry="14.8" transform="rotate(40 559.1 166.1)"/><ellipse cx="-19.7" cy="100.3" rx="18.1" ry="14.8"/><ellipse cx="572.3" cy="100.3" rx="18.1" ry="14.8"/><ellipse cx="419.3" cy="276.3" rx="32.9" ry="8.2"/><ellipse cx="444.0" cy="233.5" rx="49.3" ry="11.5"/><ellipse cx="57.6" cy="249.9" rx="29.6" ry="13.2"/><ellipse cx="230.2" cy="243.4" rx="57.6" ry="4.9"/><ellipse cx="435.8" cy="16.4" rx="41.1" ry="4.9"/><ellipse cx="518.0" cy="207.2" rx="8.2" ry="4.9"/><ellipse cx="263.1" cy="213.8" rx="9.9" ry="4.9"/><ellipse cx="164.4" cy="23.0" rx="6.6" ry="3.3"/></clipPath><clipPath id="stg"><ellipse cx="164.4" cy="138.1" rx="177.6" ry="44.4"/><ellipse cx="756.4" cy="138.1" rx="177.6" ry="44.4"/><ellipse cx="361.8" cy="139.8" rx="90.4" ry="36.2"/><ellipse cx="-36.2" cy="134.8" rx="39.5" ry="36.2"/><ellipse cx="555.8" cy="134.8" rx="39.5" ry="36.2"/><ellipse cx="-296.0" cy="248.3" rx="328.9" ry="13.2"/><ellipse cx="296.0" cy="248.3" rx="328.9" ry="13.2"/><ellipse cx="888.0" cy="248.3" rx="328.9" ry="13.2"/><ellipse cx="98.7" cy="202.3" rx="46.0" ry="14.8"/><ellipse cx="411.1" cy="67.4" rx="36.2" ry="11.5"/><ellipse cx="328.9" cy="210.5" rx="19.7" ry="8.2"/><ellipse cx="378.2" cy="203.9" rx="16.4" ry="11.5"/><ellipse cx="531.1" cy="195.7" rx="32.9" ry="8.2"/><ellipse cx="189.1" cy="42.8" rx="9.9" ry="4.9"/><ellipse cx="164.4" cy="269.7" rx="123.3" ry="8.2"/><ellipse cx="-65.8" cy="269.7" rx="74.0" ry="13.2"/><ellipse cx="526.2" cy="269.7" rx="74.0" ry="13.2"/></clipPath><clipPath id="sth"><ellipse cx="254.9" cy="161.2" rx="52.6" ry="16.4"/><ellipse cx="407.8" cy="146.4" rx="59.2" ry="21.4"/><ellipse cx="-52.6" cy="187.5" rx="52.6" ry="18.1"/><ellipse cx="539.4" cy="187.5" rx="52.6" ry="18.1"/><ellipse cx="-296.0" cy="231.9" rx="345.3" ry="10.7"/><ellipse cx="296.0" cy="231.9" rx="345.3" ry="10.7"/><ellipse cx="888.0" cy="231.9" rx="345.3" ry="10.7"/><ellipse cx="370.0" cy="176.0" rx="21.4" ry="11.5"/><ellipse cx="106.9" cy="187.5" rx="29.6" ry="11.5"/><ellipse cx="381.5" cy="83.9" rx="29.6" ry="13.2"/><ellipse cx="172.7" cy="102.0" rx="49.3" ry="23.0"/><ellipse cx="74.0" cy="95.4" rx="19.7" ry="9.9"/><ellipse cx="41.1" cy="126.6" rx="41.1" ry="8.2"/><ellipse cx="633.1" cy="126.6" rx="41.1" ry="8.2"/><ellipse cx="32.9" cy="180.9" rx="16.4" ry="32.9"/><ellipse cx="624.9" cy="180.9" rx="16.4" ry="32.9"/><ellipse cx="148.0" cy="62.5" rx="24.7" ry="13.2"/><ellipse cx="421.0" cy="268.0" rx="26.3" ry="4.9"/><ellipse cx="361.8" cy="46.0" rx="90.4" ry="8.2"/><ellipse cx="444.0" cy="57.6" rx="23.0" ry="4.9"/><ellipse cx="-32.9" cy="276.3" rx="32.9" ry="11.5"/><ellipse cx="559.1" cy="276.3" rx="32.9" ry="11.5"/><ellipse cx="238.4" cy="88.8" rx="49.3" ry="9.9"/><ellipse cx="164.4" cy="271.3" rx="65.8" ry="4.9"/></clipPath>
</defs>
<text x="150.4" y="68.8" font-size="30" font-family="Liberation Sans, sans-serif">a) CMIP6 SAIO heat flux</text>
<line x1="134.9" y1="211.7" x2="954.1" y2="211.7" stroke="#9a9a9a" stroke-width="1.6"/>
<path d="M134.9 91.6H954.1M134.9 511.7H954.1M150.4 76.1V527.2M938.6 76.1V527.2" stroke="#3a3a3a" stroke-width="1.4" fill="none"/>
<text x="113.8" y="102.6" font-size="30" text-anchor="end" font-family="Liberation Sans, sans-serif">2.0</text>
<text x="113.8" y="162.6" font-size="30" text-anchor="end" font-family="Liberation Sans, sans-serif">1.0</text>
<text x="113.8" y="222.6" font-size="30" text-anchor="end" font-family="Liberation Sans, sans-serif">0.0</text>
<text x="113.8" y="282.6" font-size="30" text-anchor="end" font-family="Liberation Sans, sans-serif">-1.0</text>
<text x="113.8" y="342.6" font-size="30" text-anchor="end" font-family="Liberation Sans, sans-serif">-2.0</text>
<text x="113.8" y="402.7" font-size="30" text-anchor="end" font-family="Liberation Sans, sans-serif">-3.0</text>
<text x="113.8" y="462.7" font-size="30" text-anchor="end" font-family="Liberation Sans, sans-serif">-4.0</text>
<text x="113.8" y="522.7" font-size="30" text-anchor="end" font-family="Liberation Sans, sans-serif">-5.0</text>
<text x="150.4" y="573" font-size="30" text-anchor="middle" font-family="Liberation Sans, sans-serif">1940</text>
<text x="363.5" y="573" font-size="30" text-anchor="middle" font-family="Liberation Sans, sans-serif">1960</text>
<text x="576.6" y="573" font-size="30" text-anchor="middle" font-family="Liberation Sans, sans-serif">1980</text>
<text x="789.6" y="573" font-size="30" text-anchor="middle" font-family="Liberation Sans, sans-serif">2000</text>
<path d="M134.9 91.7H150.4M938.6 91.7H954.1M134.9 151.7H150.4M938.6 151.7H954.1M134.9 211.7H150.4M938.6 211.7H954.1M134.9 271.7H150.4M938.6 271.7H954.1M134.9 331.7H150.4M938.6 331.7H954.1M134.9 391.8H150.4M938.6 391.8H954.1M134.9 451.8H150.4M938.6 451.8H954.1M134.9 511.8H150.4M938.6 511.8H954.1M150.4 76.1V91.6M150.4 511.7V527.2M363.5 76.1V91.6M363.5 511.7V527.2M576.6 76.1V91.6M576.6 511.7V527.2M789.6 76.1V91.6M789.6 511.7V527.2" stroke="#3a3a3a" stroke-width="1.4" fill="none"/>
<path d="M142.4 103.7H150.4M938.6 103.7H946.6M142.4 115.7H150.4M938.6 115.7H946.6M142.4 127.7H150.4M938.6 127.7H946.6M142.4 139.7H150.4M938.6 139.7H946.6M142.4 163.7H150.4M938.6 163.7H946.6M142.4 175.7H150.4M938.6 175.7H946.6M142.4 187.7H150.4M938.6 187.7H946.6M142.4 199.7H150.4M938.6 199.7H946.6M142.4 223.7H150.4M938.6 223.7H946.6M142.4 235.7H150.4M938.6 235.7H946.6M142.4 247.7H150.4M938.6 247.7H946.6M142.4 259.7H150.4M938.6 259.7H946.6M142.4 283.7H150.4M938.6 283.7H946.6M142.4 295.7H150.4M938.6 295.7H946.6M142.4 307.7H150.4M938.6 307.7H946.6M142.4 319.7H150.4M938.6 319.7H946.6M142.4 343.7H150.4M938.6 343.7H946.6M142.4 355.7H150.4M938.6 355.7H946.6M142.4 367.8H150.4M938.6 367.8H946.6M142.4 379.8H150.4M938.6 379.8H946.6M142.4 403.8H150.4M938.6 403.8H946.6M142.4 415.8H150.4M938.6 415.8H946.6M142.4 427.8H150.4M938.6 427.8H946.6M142.4 439.8H150.4M938.6 439.8H946.6M142.4 463.8H150.4M938.6 463.8H946.6M142.4 475.8H150.4M938.6 475.8H946.6M142.4 487.8H150.4M938.6 487.8H946.6M142.4 499.8H150.4M938.6 499.8H946.6M203.7 83.6V91.6M203.7 511.7V519.7M256.9 83.6V91.6M256.9 511.7V519.7M310.2 83.6V91.6M310.2 511.7V519.7M416.8 83.6V91.6M416.8 511.7V519.7M470.0 83.6V91.6M470.0 511.7V519.7M523.3 83.6V91.6M523.3 511.7V519.7M629.8 83.6V91.6M629.8 511.7V519.7M683.1 83.6V91.6M683.1 511.7V519.7M736.4 83.6V91.6M736.4 511.7V519.7M842.9 83.6V91.6M842.9 511.7V519.7M896.2 83.6V91.6M896.2 511.7V519.7" stroke="#8a8a8a" stroke-width="1.3" fill="none"/>
<text transform="translate(42.5,350) rotate(-90)" font-size="34" font-family="Liberation Sans, sans-serif" textLength="95" lengthAdjust="spacingAndGlyphs">W<tspan font-size="14" dy="-8">·</tspan><tspan dy="8">m</tspan><tspan font-size="22" dy="-15">-2</tspan></text>
<line x1="395.4" y1="91.6" x2="395.4" y2="511.7" stroke="#E8A322" stroke-width="2.6"/>
<text transform="translate(424.5,494) rotate(-90)" font-size="30" fill="#E8A322" font-family="Liberation Sans, sans-serif">Agung</text>
<line x1="597.9" y1="91.6" x2="597.9" y2="511.7" stroke="#E8A322" stroke-width="2.6"/>
<text transform="translate(630,488.5) rotate(-90)" font-size="30" fill="#E8A322" font-family="Liberation Sans, sans-serif">El Chichon</text>
<line x1="693.8" y1="91.6" x2="693.8" y2="511.7" stroke="#E8A322" stroke-width="2.6"/>
<text transform="translate(725.6,486) rotate(-90)" font-size="30" fill="#E8A322" font-family="Liberation Sans, sans-serif">Pinatubo</text>
<path d="M150.4 242.3L161.1 251.9L171.7 244.7L182.4 236.3L193.0 244.1L203.7 242.9L214.3 236.3L225.0 253.1L235.6 239.9L246.3 247.7L256.9 246.5L267.6 223.7L278.2 227.3L288.9 251.9L299.6 232.1L310.2 230.9L320.9 233.3L331.5 236.9L342.2 264.5L352.8 242.3L363.5 236.9L374.1 236.3L384.8 240.5L395.4 250.7L406.1 251.9L416.8 242.3L427.4 251.9L438.1 248.3L448.7 237.5L459.4 244.1L470.0 234.5L480.7 229.7L491.3 239.9L502.0 226.1L512.6 227.3L523.3 237.5L533.9 229.7L544.6 227.9L555.3 229.7L565.9 222.5L576.6 205.1L587.2 212.3L597.9 215.9L608.5 213.5L619.2 210.5L629.8 217.7L640.5 222.5L651.1 212.9L661.8 211.7L672.4 210.5L683.1 200.3L693.8 203.9L704.4 219.5L715.1 212.9L725.7 218.3L736.4 223.7L747.0 203.9L757.7 197.9L768.3 205.1L779.0 203.9L789.6 197.9L800.3 178.1L810.9 195.5L821.6 183.5L832.3 184.1L842.9 190.7L853.6 184.7L864.2 179.3L874.9 170.3L885.5 185.3L896.2 182.9L906.8 174.5L917.5 163.7L928.1 161.3L938.8 157.1" stroke="#A52A2A" stroke-width="2.2" fill="none" stroke-dasharray="12.5 6.5" stroke-linejoin="round"/>
<path d="M150.4 186.5L161.1 168.5L171.7 202.7L182.4 189.5L193.0 191.9L203.7 199.1L214.3 206.3L225.0 181.7L235.6 187.1L246.3 175.7L256.9 181.7L267.6 221.3L278.2 214.1L288.9 181.7L299.6 206.3L310.2 208.7L320.9 191.9L331.5 189.5L342.2 151.1L352.8 174.5L363.5 197.9L374.1 189.5L384.8 212.9L395.4 311.9L406.1 264.5L416.8 193.1L427.4 191.9L438.1 197.9L448.7 191.9L459.4 184.7L470.0 184.7L480.7 218.9L491.3 200.3L502.0 196.7L512.6 208.7L523.3 224.9L533.9 208.7L544.6 197.9L555.3 194.3L565.9 196.1L576.6 211.7L587.2 212.9L597.9 218.9L608.5 209.9L619.2 232.1L629.8 207.5L640.5 191.3L651.1 199.1L661.8 205.1L672.4 207.5L683.1 215.3L693.8 255.5L704.4 296.3L715.1 241.1L725.7 208.7L736.4 188.3L747.0 203.9L757.7 216.5L768.3 196.7L779.0 181.7L789.6 181.7L800.3 223.7L810.9 201.5L821.6 210.5L832.3 210.5L842.9 203.9L853.6 205.1L864.2 226.7L874.9 206.3L885.5 186.5L896.2 210.5L906.8 203.9L917.5 203.9L928.1 223.7L938.8 224.9" stroke="#27B5E8" stroke-width="3.4" fill="none" stroke-dasharray="12.5 6.5" stroke-linejoin="round"/>
<path d="M150.4 210.5L161.1 248.3L171.7 215.3L182.4 145.7L193.0 229.7L203.7 215.3L214.3 210.5L225.0 245.9L235.6 221.3L246.3 233.3L256.9 224.9L267.6 157.7L278.2 203.9L288.9 275.3L299.6 206.3L310.2 182.9L320.9 151.7L331.5 187.1L342.2 265.1L352.8 238.7L363.5 245.9L374.1 189.5L384.8 209.9L395.4 221.9L406.1 143.9L416.8 142.7L427.4 211.7L438.1 166.1L448.7 176.9L459.4 236.9L470.0 184.7L480.7 226.1L491.3 223.7L502.0 185.9L512.6 178.1L523.3 235.7L533.9 208.7L544.6 197.9L555.3 227.3L565.9 203.9L576.6 167.9L587.2 216.5L597.9 215.3L608.5 169.7L619.2 212.9L629.8 232.1L640.5 244.7L651.1 196.7L661.8 220.1L672.4 234.5L683.1 211.7L693.8 210.5L704.4 173.3L715.1 138.5L725.7 222.5L736.4 257.9L747.0 186.5L757.7 208.7L768.3 232.1L779.0 240.5L789.6 205.1L800.3 244.1L810.9 245.9L821.6 210.5L832.3 249.5L842.9 265.1L853.6 249.5L864.2 234.5L874.9 211.7L885.5 229.1L896.2 227.9L906.8 190.7L917.5 208.7L928.1 227.9L938.8 235.1" stroke="#1E8452" stroke-width="2.2" fill="none" stroke-linejoin="round"/>
<path d="M150.4 223.7L161.1 254.3L171.7 237.5L182.4 157.1L193.0 254.3L203.7 230.9L214.3 218.9L225.0 270.5L235.6 220.1L246.3 208.1L256.9 232.1L267.6 191.9L278.2 199.1L288.9 259.7L299.6 250.7L310.2 220.1L320.9 189.5L331.5 206.3L342.2 244.1L352.8 242.9L363.5 252.5L374.1 191.9L384.8 247.7L395.4 390.0L406.1 234.5L416.8 206.9L427.4 215.3L438.1 194.3L448.7 230.9L459.4 229.7L470.0 174.5L480.7 229.7L491.3 242.9L502.0 205.1L512.6 208.7L523.3 266.3L533.9 184.1L544.6 187.7L555.3 244.1L565.9 206.3L576.6 184.1L587.2 208.7L597.9 231.5L608.5 173.3L619.2 209.3L629.8 222.5L640.5 241.1L651.1 186.5L661.8 199.1L672.4 203.9L683.1 203.9L693.8 223.7L704.4 277.7L715.1 179.3L725.7 220.1L736.4 251.9L747.0 167.9L757.7 181.7L768.3 183.5L779.0 201.5L789.6 180.5L800.3 207.5L810.9 210.5L821.6 187.1L832.3 210.5L842.9 232.1L853.6 193.7L864.2 229.7L874.9 189.5L885.5 185.9L896.2 175.1L906.8 177.5L917.5 145.1L928.1 195.5L938.8 221.3" stroke="#A020F0" stroke-width="3.4" fill="none" stroke-linejoin="round"/>
<line x1="788.9" y1="332.2" x2="859.8" y2="332.2" stroke="#A52A2A" stroke-width="2.2" stroke-dasharray="12.5 6.5"/>
<line x1="788.9" y1="370.4" x2="859.8" y2="370.4" stroke="#27B5E8" stroke-width="3.4" stroke-dasharray="12.5 6.5"/>
<line x1="788.9" y1="408.3" x2="859.8" y2="408.3" stroke="#1E8452" stroke-width="2.2"/>
<line x1="788.9" y1="446.4" x2="859.8" y2="446.4" stroke="#A020F0" stroke-width="3.4"/>
<text x="860.5" y="343.1" font-size="30" font-family="Liberation Sans, sans-serif">LWR</text>
<text x="860.5" y="381.1" font-size="30" font-family="Liberation Sans, sans-serif">SWR</text>
<text x="860.5" y="419" font-size="30" font-family="Liberation Sans, sans-serif">THF</text>
<text x="860.5" y="454.4" font-size="30" font-family="Liberation Sans, sans-serif">Q<tspan font-size="18" dy="6">net</tspan></text>
<text x="1134.5" y="73.5" font-size="30" font-family="Liberation Sans, sans-serif">b) CMIP6 SAIO heat flux trend</text>
<rect x="1201.5" y="222.1" width="32.5" height="80.2" fill="#A020F0"/>
<rect x="1234.0" y="302.3" width="31.7" height="37.0" fill="#1A8A4F"/>
<rect x="1265.6" y="216.0" width="32.5" height="86.3" fill="#00BFFF"/>
<rect x="1298.1" y="279.4" width="32.1" height="22.9" fill="#A52A2A"/>
<rect x="1421.8" y="295.4" width="31.7" height="6.9" fill="#A020F0"/>
<rect x="1453.5" y="302.3" width="32.5" height="7.6" fill="#1A8A4F"/>
<rect x="1486.0" y="301.1" width="31.7" height="1.2" fill="#00BFFF"/>
<rect x="1517.7" y="288.5" width="32.1" height="13.8" fill="#A52A2A"/>
<line x1="1136.6" y1="302.3" x2="1605.8" y2="302.3" stroke="#222" stroke-width="1.2"/>
<path d="M1217.5 109.4V334.7M1207.5 109.4H1227.5M1207.5 334.7H1227.5M1249.6 269.4V410.7M1239.6 269.4H1259.6M1239.6 410.7H1259.6M1281.7 150.3V282.0M1271.7 150.3H1291.7M1271.7 282.0H1291.7M1314.1 267.5V292.0M1304.1 267.5H1324.1M1304.1 292.0H1324.1M1437.5 287.8V302.3M1427.5 287.8H1447.5M1427.5 302.3H1447.5M1470.0 303.4V317.2M1460.0 303.4H1480.0M1460.0 317.2H1480.0M1502.0 295.4V307.2M1492.0 295.4H1512.0M1492.0 307.2H1512.0M1533.7 285.1V291.2M1523.7 285.1H1543.7M1523.7 291.2H1543.7" stroke="#000" stroke-width="2.4" fill="none"/>
<path d="M1131.6 91.1H1599.8M1131.6 513.1H1599.8M1136.6 91.1V513.1M1594.8 91.1V513.1" stroke="#3a3a3a" stroke-width="1.4" fill="none"/>
<text x="1103.5" y="433.9" font-size="30" text-anchor="end" font-family="Liberation Sans, sans-serif">-2.0</text>
<text x="1103.5" y="313.2" font-size="30" text-anchor="end" font-family="Liberation Sans, sans-serif">0.0</text>
<text x="1103.5" y="192.5" font-size="30" text-anchor="end" font-family="Liberation Sans, sans-serif">2.0</text>
<text x="1251.1" y="566.5" font-size="30" text-anchor="middle" font-family="Liberation Sans, sans-serif">1963-1973</text>
<text x="1480.3" y="566.5" font-size="30" text-anchor="middle" font-family="Liberation Sans, sans-serif">1973-2012</text>
<path d="M1125.6 423.0H1136.6M1594.8 423.0H1605.8M1125.6 302.3H1136.6M1594.8 302.3H1605.8M1125.6 181.6H1136.6M1594.8 181.6H1605.8M1251.1 80.1V91.1M1251.1 513.1V524.1M1480.3 80.1V91.1M1480.3 513.1V524.1" stroke="#3a3a3a" stroke-width="1.4" fill="none"/>
<path d="M1131.1 483.4H1136.6M1594.8 483.4H1600.3M1131.1 453.2H1136.6M1594.8 453.2H1600.3M1131.1 392.8H1136.6M1594.8 392.8H1600.3M1131.1 362.7H1136.6M1594.8 362.7H1600.3M1131.1 332.5H1136.6M1594.8 332.5H1600.3M1131.1 272.1H1136.6M1594.8 272.1H1600.3M1131.1 242.0H1136.6M1594.8 242.0H1600.3M1131.1 211.8H1136.6M1594.8 211.8H1600.3M1131.1 151.4H1136.6M1594.8 151.4H1600.3M1131.1 121.2H1136.6M1594.8 121.2H1600.3" stroke="#8a8a8a" stroke-width="1.3" fill="none"/>
<text transform="translate(1036,372) rotate(-90)" font-size="31" font-family="Liberation Sans, sans-serif" textLength="140" lengthAdjust="spacingAndGlyphs">W<tspan font-size="14" dy="-8">·</tspan><tspan dy="8">m</tspan><tspan font-size="20" dy="-14">-2</tspan><tspan dy="14">/dec</tspan></text>
<rect x="1356" y="359.5" width="87" height="14.6" fill="#A52A2A"/>
<text x="1467" y="377.8" font-size="30" font-family="Liberation Sans, sans-serif">LWR</text>
<rect x="1356" y="395.8" width="87" height="14.6" fill="#00BFFF"/>
<text x="1467" y="414.1" font-size="30" font-family="Liberation Sans, sans-serif">SWR</text>
<rect x="1356" y="432.5" width="87" height="14.6" fill="#1A8A4F"/>
<text x="1467" y="450.8" font-size="30" font-family="Liberation Sans, sans-serif">THF</text>
<rect x="1356" y="468.7" width="87" height="14.6" fill="#A020F0"/>
<text x="1469" y="485.5" font-size="30" font-family="Liberation Sans, sans-serif">Q<tspan font-size="18" dy="6">net</tspan></text>
<g transform="translate(165.0,662.0)" clip-path="url(#mc)"><g filter="url(#fc)"><rect x="-60" y="-60" width="712.0" height="416.0" fill="#6d6d6d"/><rect x="-65.8" y="-65.8" width="723.5" height="78.9" fill="#767676"/><ellipse cx="82.2" cy="7.4" rx="46.0" ry="4.1" fill="#898989"/><ellipse cx="8.2" cy="34.5" rx="6.6" ry="4.9" fill="#898989"/><ellipse cx="600.2" cy="34.5" rx="6.6" ry="4.9" fill="#898989"/><ellipse cx="42.8" cy="58.4" rx="9.9" ry="6.6" fill="#8e8e8e"/><ellipse cx="42.8" cy="58.4" rx="4.1" ry="2.5" fill="#9d9d9d"/><ellipse cx="80.6" cy="58.4" rx="9.9" ry="5.8" fill="#8a8a8a"/><ellipse cx="123.3" cy="28.8" rx="21.4" ry="5.8" fill="#8a8a8a"/><ellipse cx="16.4" cy="78.9" rx="16.4" ry="9.9" fill="#5b5b5b"/><ellipse cx="608.4" cy="78.9" rx="16.4" ry="9.9" fill="#5b5b5b"/><ellipse cx="41.1" cy="93.7" rx="19.7" ry="6.6" fill="#5d5d5d"/><ellipse cx="85.5" cy="36.2" rx="13.2" ry="8.2" fill="#525252"/><ellipse cx="78.9" cy="38.6" rx="4.9" ry="3.3" fill="#373737"/><ellipse cx="180.9" cy="24.7" rx="32.9" ry="8.2" fill="#575757"/><ellipse cx="123.3" cy="42.8" rx="13.2" ry="6.6" fill="#5f5f5f"/><ellipse cx="97.0" cy="90.4" rx="6.6" ry="11.5" fill="#898989"/><ellipse cx="57.6" cy="119.2" rx="29.6" ry="7.4" fill="#8c8c8c"/><ellipse cx="49.3" cy="120.0" rx="6.6" ry="2.5" fill="#9d9d9d"/><ellipse cx="88.8" cy="143.9" rx="41.1" ry="5.8" fill="#8c8c8c"/><ellipse cx="74.0" cy="142.2" rx="8.2" ry="2.0" fill="#9d9d9d"/><ellipse cx="95.4" cy="145.5" rx="8.2" ry="2.0" fill="#9d9d9d"/><ellipse cx="128.3" cy="143.1" rx="6.6" ry="3.3" fill="#9d9d9d"/><path d="M106.9 98.7L174.3 98.7L174.3 72.4L106.9 72.4Z" fill="#8e8e8e"/><path d="M159.5 81.4L184.2 81.4L184.2 70.7L159.5 70.7Z" fill="#9d9d9d"/><path d="M190.8 88.8L205.6 88.8L205.6 70.7L190.8 70.7Z" fill="#a2a2a2"/><path d="M167.7 98.7L172.7 98.7L187.5 128.3L182.5 128.3Z" fill="#a8a8a8"/><ellipse cx="200.6" cy="103.6" rx="6.6" ry="4.9" fill="#9b9b9b"/><ellipse cx="217.1" cy="131.6" rx="29.6" ry="8.2" fill="#979797"/><ellipse cx="218.7" cy="116.8" rx="26.3" ry="11.5" fill="#afafaf"/><ellipse cx="223.6" cy="109.4" rx="6.6" ry="3.3" fill="#d1d1d1"/><ellipse cx="263.1" cy="133.2" rx="14.8" ry="6.6" fill="#9b9b9b"/><ellipse cx="261.5" cy="120.0" rx="13.2" ry="9.9" fill="#b3b3b3"/><ellipse cx="263.1" cy="113.5" rx="6.6" ry="3.3" fill="#d1d1d1"/><ellipse cx="281.2" cy="133.2" rx="6.6" ry="8.2" fill="#adadad"/><ellipse cx="299.3" cy="126.6" rx="13.2" ry="14.8" fill="#bfbfbf"/><ellipse cx="305.9" cy="116.8" rx="9.9" ry="6.6" fill="#d1d1d1"/><path d="M345.3 52.6L444.0 49.3L506.5 55.9L509.8 92.1L506.5 121.7L463.7 125.0L452.2 98.7L411.1 95.4L361.8 93.7L337.1 98.7Z" fill="#999999"/><ellipse cx="419.3" cy="51.0" rx="23.0" ry="6.6" fill="#717171"/><ellipse cx="361.8" cy="65.8" rx="21.4" ry="9.9" fill="#afafaf"/><ellipse cx="452.2" cy="65.8" rx="21.4" ry="6.6" fill="#adadad"/><ellipse cx="481.8" cy="78.9" rx="18.1" ry="14.8" fill="#adadad"/><ellipse cx="481.8" cy="117.6" rx="19.7" ry="5.8" fill="#adadad"/><ellipse cx="370.0" cy="88.0" rx="11.5" ry="3.3" fill="#adadad"/><ellipse cx="440.7" cy="102.0" rx="11.5" ry="13.2" fill="#6a6a6a"/><ellipse cx="381.5" cy="82.2" rx="23.0" ry="4.9" fill="#757575"/><path d="M307.5 111.8L320.7 111.8L337.1 93.7L348.6 82.2L345.3 72.4L325.6 78.9L309.1 82.2L305.9 98.7Z" fill="#d7d7d7"/><ellipse cx="317.4" cy="93.7" rx="6.6" ry="11.5" fill="#e4e4e4"/><ellipse cx="348.6" cy="90.4" rx="13.2" ry="6.6" fill="#bababa"/><ellipse cx="378.2" cy="125.8" rx="54.3" ry="7.4" fill="#505050"/><ellipse cx="361.8" cy="126.6" rx="24.7" ry="3.3" fill="#404040"/><ellipse cx="419.3" cy="151.3" rx="82.2" ry="8.2" fill="#4c4c4c"/><ellipse cx="440.7" cy="152.9" rx="59.2" ry="5.8" fill="#404040"/><ellipse cx="361.8" cy="148.0" rx="21.4" ry="7.4" fill="#2e2e2e"/><ellipse cx="361.8" cy="147.5" rx="16.4" ry="5.4" fill="#090909"/><ellipse cx="490.0" cy="180.9" rx="52.6" ry="31.2" fill="#525252" transform="rotate(20 490.0 180.9)"/><ellipse cx="480.2" cy="184.2" rx="19.7" ry="11.5" fill="#404040"/><ellipse cx="496.6" cy="197.3" rx="19.7" ry="8.2" fill="#4c4c4c"/><ellipse cx="504.8" cy="167.7" rx="18.1" ry="8.2" fill="#2e2e2e"/><ellipse cx="507.3" cy="166.9" rx="8.2" ry="3.3" fill="#1b1b1b"/><ellipse cx="539.4" cy="149.6" rx="37.8" ry="13.2" fill="#898989"/><ellipse cx="559.1" cy="143.9" rx="18.1" ry="4.9" fill="#9b9b9b"/><ellipse cx="570.6" cy="144.7" rx="6.6" ry="4.1" fill="#b3b3b3"/><ellipse cx="570.6" cy="180.9" rx="14.8" ry="16.4" fill="#898989"/><ellipse cx="-21.4" cy="180.9" rx="14.8" ry="16.4" fill="#898989"/><ellipse cx="567.3" cy="176.0" rx="4.9" ry="4.9" fill="#9b9b9b"/><ellipse cx="394.7" cy="194.0" rx="29.6" ry="23.0" fill="#5b5b5b"/><ellipse cx="450.6" cy="212.1" rx="54.3" ry="10.7" fill="#8c8c8c" transform="rotate(39 450.6 212.1)"/><ellipse cx="452.2" cy="248.3" rx="59.2" ry="9.0" fill="#8a8a8a"/><ellipse cx="448.9" cy="252.4" rx="23.0" ry="4.1" fill="#9d9d9d"/><ellipse cx="536.1" cy="231.9" rx="28.0" ry="14.8" fill="#8a8a8a"/><ellipse cx="559.1" cy="251.6" rx="32.9" ry="4.9" fill="#454545"/><ellipse cx="-32.9" cy="251.6" rx="32.9" ry="4.9" fill="#454545"/><rect x="-65.8" y="256.5" width="723.5" height="105.2" fill="#5f5f5f"/><ellipse cx="233.5" cy="140.6" rx="49.3" ry="4.6" fill="#898989"/><ellipse cx="230.2" cy="156.2" rx="52.6" ry="9.0" fill="#525252"/><ellipse cx="197.3" cy="200.6" rx="156.2" ry="19.7" fill="#5b5b5b"/><ellipse cx="218.7" cy="192.4" rx="31.2" ry="9.0" fill="#454545"/><ellipse cx="115.1" cy="177.6" rx="32.9" ry="18.1" fill="#4c4c4c"/><ellipse cx="111.8" cy="176.0" rx="13.2" ry="8.2" fill="#3e3e3e"/><ellipse cx="320.7" cy="210.5" rx="29.6" ry="9.9" fill="#505050"/><ellipse cx="36.2" cy="200.6" rx="9.9" ry="9.9" fill="#898989"/><ellipse cx="28.0" cy="225.3" rx="19.7" ry="8.2" fill="#454545"/><ellipse cx="223.6" cy="236.8" rx="82.2" ry="9.9" fill="#8a8a8a"/><ellipse cx="180.9" cy="240.1" rx="16.4" ry="4.1" fill="#9d9d9d"/><ellipse cx="230.2" cy="238.4" rx="9.9" ry="3.3" fill="#9d9d9d"/><ellipse cx="284.5" cy="238.4" rx="9.9" ry="3.3" fill="#9d9d9d"/><ellipse cx="325.6" cy="233.5" rx="23.0" ry="6.6" fill="#8a8a8a"/><ellipse cx="57.6" cy="240.1" rx="11.5" ry="4.9" fill="#898989"/><ellipse cx="180.9" cy="251.6" rx="180.9" ry="5.8" fill="#575757"/><ellipse cx="772.9" cy="251.6" rx="180.9" ry="5.8" fill="#575757"/><ellipse cx="49.3" cy="266.4" rx="32.9" ry="6.6" fill="#8e8e8e"/><ellipse cx="57.6" cy="268.9" rx="13.2" ry="2.5" fill="#9d9d9d"/><ellipse cx="562.4" cy="111.8" rx="23.0" ry="14.8" fill="#5b5b5b"/><ellipse cx="-29.6" cy="111.8" rx="23.0" ry="14.8" fill="#5b5b5b"/><ellipse cx="567.3" cy="51.0" rx="13.2" ry="8.2" fill="#575757"/><ellipse cx="312.4" cy="19.7" rx="26.3" ry="8.2" fill="#898989"/><ellipse cx="435.8" cy="24.7" rx="49.3" ry="6.6" fill="#626262"/><ellipse cx="518.0" cy="16.4" rx="23.0" ry="6.6" fill="#898989"/></g></g>
<g transform="translate(165.0,662.0)" clip-path="url(#mc)"><use href="#land" fill="#D2D2D2" stroke="#000" stroke-width="1.3" stroke-linejoin="round"/></g>
<rect x="165.0" y="662.0" width="592.0" height="296.0" fill="none" stroke="#444" stroke-width="1.5"/>
<path d="M181.4 652.5V662.0M181.4 958.0V967.5M230.8 652.5V662.0M230.8 958.0V967.5M280.1 652.5V662.0M280.1 958.0V967.5M329.4 652.5V662.0M329.4 958.0V967.5M378.8 652.5V662.0M378.8 958.0V967.5M428.1 652.5V662.0M428.1 958.0V967.5M477.4 652.5V662.0M477.4 958.0V967.5M526.8 652.5V662.0M526.8 958.0V967.5M576.1 652.5V662.0M576.1 958.0V967.5M625.4 652.5V662.0M625.4 958.0V967.5M674.8 652.5V662.0M674.8 958.0V967.5M724.1 652.5V662.0M724.1 958.0V967.5M155.5 958.0H165.0M757.0 958.0H766.5M155.5 908.7H165.0M757.0 908.7H766.5M155.5 859.3H165.0M757.0 859.3H766.5M155.5 810.0H165.0M757.0 810.0H766.5M155.5 760.7H165.0M757.0 760.7H766.5M155.5 711.3H165.0M757.0 711.3H766.5M155.5 662.0H165.0M757.0 662.0H766.5" stroke="#444" stroke-width="1.1" fill="none"/>
<path d="M165.0 657.0V662.0M165.0 958.0V963.0M197.9 657.0V662.0M197.9 958.0V963.0M214.3 657.0V662.0M214.3 958.0V963.0M247.2 657.0V662.0M247.2 958.0V963.0M263.7 657.0V662.0M263.7 958.0V963.0M296.6 657.0V662.0M296.6 958.0V963.0M313.0 657.0V662.0M313.0 958.0V963.0M345.9 657.0V662.0M345.9 958.0V963.0M362.3 657.0V662.0M362.3 958.0V963.0M395.2 657.0V662.0M395.2 958.0V963.0M411.7 657.0V662.0M411.7 958.0V963.0M444.5 657.0V662.0M444.5 958.0V963.0M461.0 657.0V662.0M461.0 958.0V963.0M493.9 657.0V662.0M493.9 958.0V963.0M510.3 657.0V662.0M510.3 958.0V963.0M543.2 657.0V662.0M543.2 958.0V963.0M559.7 657.0V662.0M559.7 958.0V963.0M592.5 657.0V662.0M592.5 958.0V963.0M609.0 657.0V662.0M609.0 958.0V963.0M641.9 657.0V662.0M641.9 958.0V963.0M658.3 657.0V662.0M658.3 958.0V963.0M691.2 657.0V662.0M691.2 958.0V963.0M707.7 657.0V662.0M707.7 958.0V963.0M740.5 657.0V662.0M740.5 958.0V963.0M757.0 657.0V662.0M757.0 958.0V963.0M160.0 941.5H165.0M757.0 941.5H762.0M160.0 925.1H165.0M757.0 925.1H762.0M160.0 892.2H165.0M757.0 892.2H762.0M160.0 875.8H165.0M757.0 875.8H762.0M160.0 842.9H165.0M757.0 842.9H762.0M160.0 826.4H165.0M757.0 826.4H762.0M160.0 793.6H165.0M757.0 793.6H762.0M160.0 777.1H165.0M757.0 777.1H762.0M160.0 744.2H165.0M757.0 744.2H762.0M160.0 727.8H165.0M757.0 727.8H762.0M160.0 694.9H165.0M757.0 694.9H762.0M160.0 678.4H165.0M757.0 678.4H762.0" stroke="#777" stroke-width="1" fill="none"/>
<text x="181.4" y="995.8" font-size="19" text-anchor="middle" font-family="Liberation Sans, sans-serif">60W</text>
<text x="230.8" y="995.8" font-size="19" text-anchor="middle" font-family="Liberation Sans, sans-serif">30W</text>
<text x="280.1" y="995.8" font-size="19" text-anchor="middle" font-family="Liberation Sans, sans-serif">0</text>
<text x="329.4" y="995.8" font-size="19" text-anchor="middle" font-family="Liberation Sans, sans-serif">30E</text>
<text x="378.8" y="995.8" font-size="19" text-anchor="middle" font-family="Liberation Sans, sans-serif">60E</text>
<text x="428.1" y="995.8" font-size="19" text-anchor="middle" font-family="Liberation Sans, sans-serif">90E</text>
<text x="477.4" y="995.8" font-size="19" text-anchor="middle" font-family="Liberation Sans, sans-serif">120E</text>
<text x="526.8" y="995.8" font-size="19" text-anchor="middle" font-family="Liberation Sans, sans-serif">150E</text>
<text x="576.1" y="995.8" font-size="19" text-anchor="middle" font-family="Liberation Sans, sans-serif">180</text>
<text x="625.4" y="995.8" font-size="19" text-anchor="middle" font-family="Liberation Sans, sans-serif">150W</text>
<text x="674.8" y="995.8" font-size="19" text-anchor="middle" font-family="Liberation Sans, sans-serif">120W</text>
<text x="724.1" y="995.8" font-size="19" text-anchor="middle" font-family="Liberation Sans, sans-serif">90W</text>
<text x="141.4" y="668.8" font-size="19" text-anchor="end" font-family="Liberation Sans, sans-serif">90N</text>
<text x="141.4" y="718.1" font-size="19" text-anchor="end" font-family="Liberation Sans, sans-serif">60N</text>
<text x="141.4" y="767.5" font-size="19" text-anchor="end" font-family="Liberation Sans, sans-serif">30N</text>
<text x="141.4" y="816.8" font-size="19" text-anchor="end" font-family="Liberation Sans, sans-serif">0</text>
<text x="141.4" y="866.1" font-size="19" text-anchor="end" font-family="Liberation Sans, sans-serif">30S</text>
<text x="141.4" y="915.5" font-size="19" text-anchor="end" font-family="Liberation Sans, sans-serif">60S</text>
<text x="141.4" y="964.8" font-size="19" text-anchor="end" font-family="Liberation Sans, sans-serif">90S</text>
<text x="165.0" y="640.8" font-size="27.1" font-family="Liberation Sans, sans-serif">c) CMIP6 1963 SWR anomaly (W<tspan font-size="11" dy="-6" dx="2">·</tspan><tspan dy="6" dx="2">m</tspan><tspan font-size="16" dy="-12">-2</tspan><tspan dy="12">)</tspan></text>
<rect x="802.7" y="668.10" width="35" height="20.20" fill="#FFB3B3" stroke="#000" stroke-opacity="0.55" stroke-width="0.8"/>
<rect x="802.7" y="688.30" width="35" height="20.20" fill="#CD1010" stroke="#000" stroke-opacity="0.55" stroke-width="0.8"/>
<rect x="802.7" y="708.50" width="35" height="20.20" fill="#FA0505" stroke="#000" stroke-opacity="0.55" stroke-width="0.8"/>
<rect x="802.7" y="728.70" width="35" height="20.20" fill="#FF5500" stroke="#000" stroke-opacity="0.55" stroke-width="0.8"/>
<rect x="802.7" y="748.90" width="35" height="20.20" fill="#FFA00A" stroke="#000" stroke-opacity="0.55" stroke-width="0.8"/>
<rect x="802.7" y="769.10" width="35" height="20.20" fill="#FFD030" stroke="#000" stroke-opacity="0.55" stroke-width="0.8"/>
<rect x="802.7" y="789.30" width="35" height="20.20" fill="#FFF59B" stroke="#000" stroke-opacity="0.55" stroke-width="0.8"/>
<rect x="802.7" y="809.50" width="35" height="20.20" fill="#B4DCF5" stroke="#000" stroke-opacity="0.55" stroke-width="0.8"/>
<rect x="802.7" y="829.70" width="35" height="20.20" fill="#5AC0F5" stroke="#000" stroke-opacity="0.55" stroke-width="0.8"/>
<rect x="802.7" y="849.90" width="35" height="20.20" fill="#0AAFFA" stroke="#000" stroke-opacity="0.55" stroke-width="0.8"/>
<rect x="802.7" y="870.10" width="35" height="20.20" fill="#2882F5" stroke="#000" stroke-opacity="0.55" stroke-width="0.8"/>
<rect x="802.7" y="890.30" width="35" height="20.20" fill="#3C5AD7" stroke="#000" stroke-opacity="0.55" stroke-width="0.8"/>
<rect x="802.7" y="910.50" width="35" height="20.20" fill="#0A05F5" stroke="#000" stroke-opacity="0.55" stroke-width="0.8"/>
<rect x="802.7" y="930.70" width="35" height="20.20" fill="#8A2BE2" stroke="#000" stroke-opacity="0.55" stroke-width="0.8"/>
<text x="851.2" y="695.1" font-size="19" font-family="Liberation Sans, sans-serif">6</text>
<text x="851.2" y="735.5" font-size="19" font-family="Liberation Sans, sans-serif">4</text>
<text x="851.2" y="775.9" font-size="19" font-family="Liberation Sans, sans-serif">2</text>
<text x="851.2" y="816.3" font-size="19" font-family="Liberation Sans, sans-serif">0</text>
<text x="847.7" y="856.7" font-size="19" font-family="Liberation Sans, sans-serif">-2</text>
<text x="847.7" y="897.1" font-size="19" font-family="Liberation Sans, sans-serif">-4</text>
<text x="847.7" y="937.5" font-size="19" font-family="Liberation Sans, sans-serif">-6</text>
<rect x="214.3" y="842.9" width="296.0" height="41.1" fill="none" stroke="#000" stroke-width="4"/>
<circle cx="470.0" cy="823.6" r="13" fill="#000"/>
<text x="354.8" y="832.6" font-size="32" font-family="Liberation Sans, sans-serif">Agung</text>
<g transform="translate(998.1,662.0)" clip-path="url(#mc)"><g filter="url(#fd)"><rect x="-60" y="-60" width="712.0" height="416.0" fill="#898989"/><path d="M-65.8 -65.8L279.5 -65.8L328.9 -65.8L378.2 -65.8L427.5 -65.8L476.9 -65.8L526.2 -65.8L575.5 -65.8L657.8 -65.8L657.8 23.0L575.5 23.0L526.2 23.0L476.9 23.0L427.5 23.0L378.2 23.0L328.9 23.0L279.5 23.0L-65.8 23.0Z" fill="#1b1b1b"/><path d="M-65.8 23.0L279.5 23.0L328.9 23.0L378.2 23.0L427.5 23.0L476.9 23.0L526.2 23.0L575.5 23.0L657.8 23.0L657.8 39.5L575.5 39.5L526.2 39.5L476.9 39.5L427.5 39.5L378.2 39.5L328.9 39.5L279.5 39.5L-65.8 39.5Z" fill="#2e2e2e"/><path d="M-65.8 39.5L279.5 39.5L328.9 39.5L378.2 39.5L427.5 39.5L476.9 39.5L526.2 39.5L575.5 39.5L657.8 39.5L657.8 70.7L575.5 70.7L526.2 70.7L476.9 70.7L427.5 72.4L378.2 72.4L328.9 78.9L279.5 78.9L-65.8 78.9Z" fill="#404040"/><path d="M-65.8 78.9L279.5 78.9L328.9 78.9L378.2 72.4L427.5 72.4L476.9 70.7L526.2 70.7L575.5 70.7L657.8 70.7L657.8 82.2L575.5 82.2L526.2 82.2L476.9 80.6L427.5 82.2L378.2 82.2L328.9 87.2L279.5 87.2L-65.8 87.2Z" fill="#525252"/><path d="M-65.8 87.2L279.5 87.2L328.9 87.2L378.2 82.2L427.5 82.2L476.9 80.6L526.2 82.2L575.5 82.2L657.8 82.2L657.8 93.7L575.5 93.7L526.2 92.1L476.9 90.4L427.5 90.4L378.2 90.4L328.9 93.7L279.5 93.7L-65.8 93.7Z" fill="#646464"/><path d="M-65.8 93.7L279.5 93.7L328.9 93.7L378.2 90.4L427.5 90.4L476.9 90.4L526.2 92.1L575.5 93.7L657.8 93.7L657.8 105.2L575.5 105.2L526.2 103.6L476.9 100.3L427.5 99.5L378.2 98.7L328.9 102.0L279.5 102.0L-65.8 102.0Z" fill="#767676"/><path d="M-65.8 102.0L279.5 102.0L328.9 102.0L378.2 98.7L427.5 99.5L476.9 100.3L526.2 103.6L575.5 105.2L657.8 105.2L657.8 115.1L575.5 115.1L526.2 113.5L476.9 111.0L427.5 109.4L378.2 106.9L328.9 108.5L279.5 108.5L-65.8 108.5Z" fill="#898989"/><path d="M-65.8 108.5L279.5 108.5L328.9 108.5L378.2 106.9L427.5 109.4L476.9 111.0L526.2 113.5L575.5 115.1L657.8 115.1L657.8 123.3L575.5 123.3L526.2 121.7L476.9 120.0L427.5 117.6L378.2 115.1L328.9 115.1L279.5 115.1L-65.8 115.1Z" fill="#9b9b9b"/><path d="M-65.8 115.1L279.5 115.1L328.9 115.1L378.2 115.1L427.5 117.6L476.9 120.0L526.2 121.7L575.5 123.3L657.8 123.3L657.8 129.9L575.5 129.9L526.2 129.9L476.9 129.9L427.5 129.1L378.2 125.0L328.9 123.3L279.5 123.3L-65.8 123.3Z" fill="#adadad"/><path d="M-65.8 123.3L279.5 123.3L328.9 123.3L378.2 125.0L427.5 129.1L476.9 129.9L526.2 129.9L575.5 129.9L657.8 129.9L657.8 134.8L575.5 134.8L526.2 136.5L476.9 137.3L427.5 137.3L378.2 132.4L328.9 129.9L279.5 129.9L-65.8 129.9Z" fill="#bfbfbf"/><path d="M-65.8 129.9L279.5 129.9L328.9 129.9L378.2 132.4L427.5 137.3L476.9 137.3L526.2 136.5L575.5 134.8L657.8 134.8L657.8 139.8L575.5 139.8L526.2 142.2L476.9 144.7L427.5 145.5L378.2 140.6L328.9 136.5L279.5 136.5L-65.8 136.5Z" fill="#d1d1d1"/><path d="M-65.8 136.5L279.5 136.5L328.9 136.5L378.2 140.6L427.5 145.5L476.9 144.7L526.2 142.2L575.5 139.8L657.8 139.8L657.8 184.2L575.5 184.2L526.2 187.5L476.9 190.8L427.5 190.8L378.2 189.1L328.9 184.2L279.5 184.2L-65.8 184.2Z" fill="#e4e4e4"/><path d="M-65.8 184.2L279.5 184.2L328.9 184.2L378.2 189.1L427.5 190.8L476.9 190.8L526.2 187.5L575.5 184.2L657.8 184.2L657.8 187.5L575.5 187.5L526.2 192.4L476.9 195.7L427.5 195.7L378.2 194.0L328.9 189.1L279.5 189.1L-65.8 189.1Z" fill="#d1d1d1"/><path d="M-65.8 189.1L279.5 189.1L328.9 189.1L378.2 194.0L427.5 195.7L476.9 195.7L526.2 192.4L575.5 187.5L657.8 187.5L657.8 189.9L575.5 189.9L526.2 195.7L476.9 199.8L427.5 200.6L378.2 199.0L328.9 193.2L279.5 193.2L-65.8 193.2Z" fill="#bfbfbf"/><path d="M-65.8 193.2L279.5 193.2L328.9 193.2L378.2 199.0L427.5 200.6L476.9 199.8L526.2 195.7L575.5 189.9L657.8 189.9L657.8 192.4L575.5 192.4L526.2 207.2L476.9 209.7L427.5 208.8L378.2 205.6L328.9 197.3L279.5 197.3L-65.8 197.3Z" fill="#adadad"/><path d="M-65.8 197.3L279.5 197.3L328.9 197.3L378.2 205.6L427.5 208.8L476.9 209.7L526.2 207.2L575.5 192.4L657.8 192.4L657.8 195.7L575.5 195.7L526.2 210.5L476.9 212.9L427.5 212.1L378.2 208.8L328.9 202.3L279.5 202.3L-65.8 202.3Z" fill="#9b9b9b"/><path d="M-65.8 202.3L279.5 202.3L328.9 202.3L378.2 208.8L427.5 212.1L476.9 212.9L526.2 210.5L575.5 195.7L657.8 195.7L657.8 361.8L575.5 361.8L526.2 361.8L476.9 361.8L427.5 361.8L378.2 361.8L328.9 361.8L279.5 361.8L-65.8 361.8Z" fill="#898989"/><ellipse cx="545.9" cy="230.2" rx="59.2" ry="14.8" fill="#767676"/><ellipse cx="-46.0" cy="230.2" rx="59.2" ry="14.8" fill="#767676"/><ellipse cx="555.8" cy="230.2" rx="42.8" ry="10.7" fill="#646464"/><ellipse cx="-36.2" cy="230.2" rx="42.8" ry="10.7" fill="#646464"/><ellipse cx="565.7" cy="230.2" rx="31.2" ry="7.4" fill="#525252"/><ellipse cx="-26.3" cy="230.2" rx="31.2" ry="7.4" fill="#525252"/><ellipse cx="572.3" cy="229.4" rx="19.7" ry="4.9" fill="#404040"/><ellipse cx="-19.7" cy="229.4" rx="19.7" ry="4.9" fill="#404040"/><ellipse cx="575.5" cy="229.4" rx="9.9" ry="2.6" fill="#2e2e2e"/><ellipse cx="575.5" cy="197.3" rx="16.4" ry="8.2" fill="#767676"/><ellipse cx="-16.4" cy="197.3" rx="16.4" ry="8.2" fill="#767676"/><ellipse cx="578.8" cy="197.3" rx="9.9" ry="4.9" fill="#646464"/><ellipse cx="-13.2" cy="197.3" rx="9.9" ry="4.9" fill="#646464"/><path d="M545.9 -65.8L567.3 -65.8L592.0 -65.8L624.9 -65.8L657.8 -65.8L657.8 62.5L624.9 62.5L592.0 63.3L567.3 62.5L545.9 62.5Z" fill="#1b1b1b"/><path d="M545.9 62.5L567.3 62.5L592.0 63.3L624.9 62.5L657.8 62.5L657.8 72.4L624.9 72.4L592.0 73.2L567.3 73.2L545.9 73.2Z" fill="#2e2e2e"/><path d="M545.9 73.2L567.3 73.2L592.0 73.2L624.9 72.4L657.8 72.4L657.8 82.2L624.9 82.2L592.0 83.0L567.3 82.2L545.9 82.2Z" fill="#404040"/><path d="M545.9 82.2L567.3 82.2L592.0 83.0L624.9 82.2L657.8 82.2L657.8 90.4L624.9 90.4L592.0 91.3L567.3 90.4L545.9 90.4Z" fill="#525252"/><path d="M545.9 90.4L567.3 90.4L592.0 91.3L624.9 90.4L657.8 90.4L657.8 97.0L624.9 97.0L592.0 97.8L567.3 97.8L545.9 97.8Z" fill="#646464"/><path d="M545.9 97.8L567.3 97.8L592.0 97.8L624.9 97.0L657.8 97.0L657.8 103.6L624.9 103.6L592.0 104.4L567.3 105.2L545.9 105.2Z" fill="#767676"/><path d="M545.9 105.2L567.3 105.2L592.0 104.4L624.9 103.6L657.8 103.6L657.8 111.0L624.9 111.0L592.0 112.6L567.3 113.5L545.9 113.5Z" fill="#898989"/><path d="M545.9 113.5L567.3 113.5L592.0 112.6L624.9 111.0L657.8 111.0L657.8 116.8L624.9 116.8L592.0 118.4L567.3 119.2L545.9 119.2Z" fill="#9b9b9b"/><path d="M545.9 119.2L567.3 119.2L592.0 118.4L624.9 116.8L657.8 116.8L657.8 121.7L624.9 121.7L592.0 124.0L567.3 125.0L545.9 125.0Z" fill="#adadad"/><path d="M545.9 125.0L567.3 125.0L592.0 124.0L624.9 121.7L657.8 121.7L657.8 128.3L624.9 128.3L592.0 130.6L567.3 131.6L545.9 131.6Z" fill="#bfbfbf"/><path d="M545.9 131.6L567.3 131.6L592.0 130.6L624.9 128.3L657.8 128.3L657.8 134.8L624.9 134.8L592.0 134.8L567.3 134.8L545.9 134.8Z" fill="#d1d1d1"/><path d="M-49.3 -65.8L0.0 -65.8L49.3 -65.8L98.7 -65.8L151.3 -65.8L151.3 62.5L98.7 62.5L49.3 63.3L0.0 62.5L-49.3 62.5Z" fill="#1b1b1b"/><path d="M-49.3 62.5L0.0 62.5L49.3 63.3L98.7 62.5L151.3 62.5L151.3 72.4L98.7 72.4L49.3 73.2L0.0 73.2L-49.3 73.2Z" fill="#2e2e2e"/><path d="M-49.3 73.2L0.0 73.2L49.3 73.2L98.7 72.4L151.3 72.4L151.3 82.2L98.7 82.2L49.3 83.0L0.0 82.2L-49.3 82.2Z" fill="#404040"/><path d="M-49.3 82.2L0.0 82.2L49.3 83.0L98.7 82.2L151.3 82.2L151.3 90.4L98.7 90.4L49.3 91.3L0.0 90.4L-49.3 90.4Z" fill="#525252"/><path d="M-49.3 90.4L0.0 90.4L49.3 91.3L98.7 90.4L151.3 90.4L151.3 97.0L98.7 97.0L49.3 97.8L0.0 97.8L-49.3 97.8Z" fill="#646464"/><path d="M-49.3 97.8L0.0 97.8L49.3 97.8L98.7 97.0L151.3 97.0L151.3 103.6L98.7 103.6L49.3 104.4L0.0 105.2L-49.3 105.2Z" fill="#767676"/><path d="M-49.3 105.2L0.0 105.2L49.3 104.4L98.7 103.6L151.3 103.6L151.3 111.0L98.7 111.0L49.3 112.6L0.0 113.5L-49.3 113.5Z" fill="#898989"/><path d="M-49.3 113.5L0.0 113.5L49.3 112.6L98.7 111.0L151.3 111.0L151.3 116.8L98.7 116.8L49.3 118.4L0.0 119.2L-49.3 119.2Z" fill="#9b9b9b"/><path d="M-49.3 119.2L0.0 119.2L49.3 118.4L98.7 116.8L151.3 116.8L151.3 121.7L98.7 121.7L49.3 124.0L0.0 125.0L-49.3 125.0Z" fill="#adadad"/><path d="M-49.3 125.0L0.0 125.0L49.3 124.0L98.7 121.7L151.3 121.7L151.3 128.3L98.7 128.3L49.3 130.6L0.0 131.6L-49.3 131.6Z" fill="#bfbfbf"/><path d="M-49.3 131.6L0.0 131.6L49.3 130.6L98.7 128.3L151.3 128.3L151.3 134.8L98.7 134.8L49.3 138.8L0.0 139.8L-49.3 139.8Z" fill="#d1d1d1"/><path d="M-49.3 139.8L0.0 139.8L49.3 138.8L98.7 134.8L151.3 134.8L151.3 183.4L98.7 183.4L49.3 184.7L0.0 182.5L-49.3 182.5Z" fill="#e4e4e4"/><path d="M-49.3 182.5L0.0 182.5L49.3 184.7L98.7 183.4L151.3 183.4L151.3 189.1L98.7 188.3L49.3 189.6L0.0 187.5L-49.3 187.5Z" fill="#d1d1d1"/><path d="M-49.3 187.5L0.0 187.5L49.3 189.6L98.7 188.3L151.3 189.1L151.3 194.0L98.7 192.4L49.3 192.9L0.0 190.8L-49.3 190.8Z" fill="#bfbfbf"/><path d="M-49.3 190.8L0.0 190.8L49.3 192.9L98.7 192.4L151.3 194.0L151.3 200.6L98.7 197.3L49.3 196.8L0.0 194.0L-49.3 194.0Z" fill="#adadad"/><path d="M-49.3 194.0L0.0 194.0L49.3 196.8L98.7 197.3L151.3 200.6L151.3 207.2L98.7 203.1L49.3 202.3L0.0 197.3L-49.3 197.3Z" fill="#9b9b9b"/><path d="M-49.3 197.3L0.0 197.3L49.3 202.3L98.7 203.1L151.3 207.2L151.3 217.1L98.7 213.8L49.3 210.5L0.0 203.9L-49.3 203.9Z" fill="#898989"/><path d="M-49.3 203.9L0.0 203.9L49.3 210.5L98.7 213.8L151.3 217.1L151.3 223.6L98.7 221.2L49.3 217.1L0.0 210.5L-49.3 210.5Z" fill="#767676"/><path d="M-49.3 210.5L0.0 210.5L49.3 217.1L98.7 221.2L151.3 223.6L151.3 230.2L98.7 226.9L49.3 223.6L0.0 217.1L-49.3 217.1Z" fill="#646464"/><path d="M-49.3 217.1L0.0 217.1L49.3 223.6L98.7 226.9L151.3 230.2L151.3 245.0L98.7 245.0L49.3 243.4L0.0 243.4L-49.3 243.4Z" fill="#525252"/><path d="M-49.3 243.4L0.0 243.4L49.3 243.4L98.7 245.0L151.3 245.0L151.3 249.9L98.7 249.9L49.3 249.1L0.0 248.3L-49.3 248.3Z" fill="#646464"/><path d="M-49.3 248.3L0.0 248.3L49.3 249.1L98.7 249.9L151.3 249.9L151.3 254.9L98.7 254.9L49.3 254.9L0.0 253.2L-49.3 253.2Z" fill="#767676"/><path d="M-49.3 253.2L0.0 253.2L49.3 254.9L98.7 254.9L151.3 254.9L151.3 361.8L98.7 361.8L49.3 361.8L0.0 361.8L-49.3 361.8Z" fill="#898989"/><ellipse cx="57.6" cy="234.3" rx="52.6" ry="5.4" fill="#404040" transform="rotate(5 57.6 234.3)"/><ellipse cx="649.5" cy="234.3" rx="52.6" ry="5.4" fill="#404040" transform="rotate(5 649.5 234.3)"/><ellipse cx="164.4" cy="240.1" rx="23.0" ry="6.9" fill="#646464"/><ellipse cx="154.6" cy="239.3" rx="13.2" ry="4.3" fill="#525252"/><path d="M52.6 161.2L74.0 160.3L95.4 162.8L93.7 173.5L52.6 173.5Z" fill="#d1d1d1"/><path d="M67.4 153.4L82.2 147.8L111.8 144.5L128.3 143.7L134.3 155.1L136.0 168.2L134.3 178.1L95.4 177.3L98.7 163.3L78.9 157.5Z" fill="#f6f6f6"/><path d="M85.5 23.0L115.1 9.9L213.8 6.6L328.9 9.9L328.9 39.5L164.4 42.8L131.6 46.0L106.9 36.2Z" fill="#2e2e2e"/><path d="M110.2 98.7L180.9 98.7L180.9 81.4L164.4 80.6L161.2 70.7L110.2 70.7Z" fill="#404040"/><path d="M159.5 81.4L207.2 88.8L207.2 69.1L159.5 69.1Z" fill="#525252"/><path d="M164.4 82.2L197.3 82.2L246.7 82.2L279.5 82.2L279.5 108.5L246.7 108.5L197.3 108.5L164.4 108.5Z" fill="#6a6a6a"/><path d="M164.4 108.5L197.3 108.5L246.7 108.5L279.5 108.5L279.5 113.5L246.7 113.5L197.3 113.5L164.4 113.5Z" fill="#767676"/><path d="M164.4 113.5L197.3 113.5L246.7 113.5L279.5 113.5L279.5 118.4L246.7 118.4L197.3 118.4L164.4 118.4Z" fill="#898989"/><path d="M164.4 118.4L197.3 118.4L246.7 118.4L279.5 118.4L279.5 123.3L246.7 123.3L197.3 123.3L164.4 123.3Z" fill="#9b9b9b"/><path d="M164.4 123.3L197.3 123.3L246.7 123.3L279.5 123.3L279.5 127.4L246.7 127.4L197.3 127.4L164.4 127.4Z" fill="#adadad"/><path d="M164.4 127.4L197.3 127.4L246.7 127.4L279.5 127.4L279.5 130.7L246.7 130.7L197.3 130.7L164.4 130.7Z" fill="#bfbfbf"/><path d="M164.4 130.7L197.3 130.7L246.7 130.7L279.5 130.7L279.5 136.5L246.7 136.5L197.3 136.5L164.4 136.5Z" fill="#d1d1d1"/><path d="M164.4 136.5L197.3 136.5L246.7 136.5L279.5 136.5L279.5 148.0L246.7 148.0L197.3 148.0L164.4 148.0Z" fill="#e4e4e4"/><path d="M151.3 148.0L197.3 148.0L246.7 148.0L296.0 148.0L345.3 148.0L378.2 148.0L378.2 184.2L345.3 180.9L296.0 180.9L246.7 182.5L197.3 182.5L151.3 182.5Z" fill="#e4e4e4"/><path d="M151.3 182.5L197.3 182.5L246.7 182.5L296.0 180.9L345.3 180.9L378.2 184.2L378.2 189.1L345.3 185.8L296.0 185.8L246.7 188.3L197.3 187.5L151.3 187.5Z" fill="#d1d1d1"/><path d="M151.3 187.5L197.3 187.5L246.7 188.3L296.0 185.8L345.3 185.8L378.2 189.1L378.2 193.2L345.3 189.1L296.0 189.9L246.7 191.6L197.3 191.6L151.3 192.4Z" fill="#bfbfbf"/><path d="M151.3 192.4L197.3 191.6L246.7 191.6L296.0 189.9L345.3 189.1L378.2 193.2L378.2 197.3L345.3 194.0L296.0 194.0L246.7 200.6L197.3 203.9L151.3 202.3Z" fill="#adadad"/><path d="M151.3 202.3L197.3 203.9L246.7 200.6L296.0 194.0L345.3 194.0L378.2 197.3L378.2 202.3L345.3 199.0L296.0 199.0L246.7 210.5L197.3 212.1L151.3 207.2Z" fill="#9b9b9b"/><path d="M151.3 207.2L197.3 212.1L246.7 210.5L296.0 199.0L345.3 199.0L378.2 202.3L378.2 225.3L345.3 218.7L296.0 218.7L246.7 226.9L197.3 225.3L151.3 218.7Z" fill="#898989"/><path d="M151.3 218.7L197.3 225.3L246.7 226.9L296.0 218.7L345.3 218.7L378.2 225.3L378.2 246.7L345.3 246.7L296.0 246.7L246.7 246.7L197.3 249.9L151.3 256.5Z" fill="#767676"/><path d="M151.3 256.5L197.3 249.9L246.7 246.7L296.0 246.7L345.3 246.7L378.2 246.7L378.2 361.8L345.3 361.8L296.0 361.8L246.7 361.8L197.3 361.8L151.3 361.8Z" fill="#898989"/><ellipse cx="200.6" cy="230.2" rx="13.2" ry="11.5" fill="#898989"/><ellipse cx="271.3" cy="236.8" rx="34.5" ry="5.3" fill="#646464"/><ellipse cx="355.2" cy="236.0" rx="29.6" ry="5.3" fill="#646464"/><ellipse cx="213.8" cy="249.9" rx="13.2" ry="2.5" fill="#646464"/><path d="M180.9 154.6L213.8 153.8L254.9 156.2L299.3 162.8L299.3 170.2L279.5 172.7L246.7 175.1L197.3 176.0L179.2 172.7Z" fill="#f6f6f6"/><path d="M416.0 176.0L444.0 170.2L493.3 165.3L534.4 162.0L537.7 168.6L526.2 178.4L476.9 183.4L427.5 181.7Z" fill="#f6f6f6"/><ellipse cx="544.3" cy="146.2" rx="14.8" ry="4.9" fill="#f6f6f6"/><ellipse cx="411.1" cy="274.6" rx="36.2" ry="5.8" fill="#767676"/></g></g>
<g transform="translate(998.1,662.0)" clip-path="url(#mc)"><use href="#land" fill="#D2D2D2" stroke="#000" stroke-width="1.3" stroke-linejoin="round"/></g>
<rect x="998.1" y="662.0" width="592.0" height="296.0" fill="none" stroke="#444" stroke-width="1.5"/>
<path d="M1014.5 652.5V662.0M1014.5 958.0V967.5M1063.9 652.5V662.0M1063.9 958.0V967.5M1113.2 652.5V662.0M1113.2 958.0V967.5M1162.5 652.5V662.0M1162.5 958.0V967.5M1211.9 652.5V662.0M1211.9 958.0V967.5M1261.2 652.5V662.0M1261.2 958.0V967.5M1310.5 652.5V662.0M1310.5 958.0V967.5M1359.9 652.5V662.0M1359.9 958.0V967.5M1409.2 652.5V662.0M1409.2 958.0V967.5M1458.5 652.5V662.0M1458.5 958.0V967.5M1507.9 652.5V662.0M1507.9 958.0V967.5M1557.2 652.5V662.0M1557.2 958.0V967.5M988.6 958.0H998.1M1590.1 958.0H1599.6M988.6 908.7H998.1M1590.1 908.7H1599.6M988.6 859.3H998.1M1590.1 859.3H1599.6M988.6 810.0H998.1M1590.1 810.0H1599.6M988.6 760.7H998.1M1590.1 760.7H1599.6M988.6 711.3H998.1M1590.1 711.3H1599.6M988.6 662.0H998.1M1590.1 662.0H1599.6" stroke="#444" stroke-width="1.1" fill="none"/>
<path d="M998.1 657.0V662.0M998.1 958.0V963.0M1031.0 657.0V662.0M1031.0 958.0V963.0M1047.4 657.0V662.0M1047.4 958.0V963.0M1080.3 657.0V662.0M1080.3 958.0V963.0M1096.8 657.0V662.0M1096.8 958.0V963.0M1129.7 657.0V662.0M1129.7 958.0V963.0M1146.1 657.0V662.0M1146.1 958.0V963.0M1179.0 657.0V662.0M1179.0 958.0V963.0M1195.4 657.0V662.0M1195.4 958.0V963.0M1228.3 657.0V662.0M1228.3 958.0V963.0M1244.8 657.0V662.0M1244.8 958.0V963.0M1277.6 657.0V662.0M1277.6 958.0V963.0M1294.1 657.0V662.0M1294.1 958.0V963.0M1327.0 657.0V662.0M1327.0 958.0V963.0M1343.4 657.0V662.0M1343.4 958.0V963.0M1376.3 657.0V662.0M1376.3 958.0V963.0M1392.8 657.0V662.0M1392.8 958.0V963.0M1425.6 657.0V662.0M1425.6 958.0V963.0M1442.1 657.0V662.0M1442.1 958.0V963.0M1475.0 657.0V662.0M1475.0 958.0V963.0M1491.4 657.0V662.0M1491.4 958.0V963.0M1524.3 657.0V662.0M1524.3 958.0V963.0M1540.8 657.0V662.0M1540.8 958.0V963.0M1573.6 657.0V662.0M1573.6 958.0V963.0M1590.1 657.0V662.0M1590.1 958.0V963.0M993.1 941.5H998.1M1590.1 941.5H1595.1M993.1 925.1H998.1M1590.1 925.1H1595.1M993.1 892.2H998.1M1590.1 892.2H1595.1M993.1 875.8H998.1M1590.1 875.8H1595.1M993.1 842.9H998.1M1590.1 842.9H1595.1M993.1 826.4H998.1M1590.1 826.4H1595.1M993.1 793.6H998.1M1590.1 793.6H1595.1M993.1 777.1H998.1M1590.1 777.1H1595.1M993.1 744.2H998.1M1590.1 744.2H1595.1M993.1 727.8H998.1M1590.1 727.8H1595.1M993.1 694.9H998.1M1590.1 694.9H1595.1M993.1 678.4H998.1M1590.1 678.4H1595.1" stroke="#777" stroke-width="1" fill="none"/>
<text x="1014.5" y="995.8" font-size="19" text-anchor="middle" font-family="Liberation Sans, sans-serif">60W</text>
<text x="1063.9" y="995.8" font-size="19" text-anchor="middle" font-family="Liberation Sans, sans-serif">30W</text>
<text x="1113.2" y="995.8" font-size="19" text-anchor="middle" font-family="Liberation Sans, sans-serif">0</text>
<text x="1162.5" y="995.8" font-size="19" text-anchor="middle" font-family="Liberation Sans, sans-serif">30E</text>
<text x="1211.9" y="995.8" font-size="19" text-anchor="middle" font-family="Liberation Sans, sans-serif">60E</text>
<text x="1261.2" y="995.8" font-size="19" text-anchor="middle" font-family="Liberation Sans, sans-serif">90E</text>
<text x="1310.5" y="995.8" font-size="19" text-anchor="middle" font-family="Liberation Sans, sans-serif">120E</text>
<text x="1359.9" y="995.8" font-size="19" text-anchor="middle" font-family="Liberation Sans, sans-serif">150E</text>
<text x="1409.2" y="995.8" font-size="19" text-anchor="middle" font-family="Liberation Sans, sans-serif">180</text>
<text x="1458.5" y="995.8" font-size="19" text-anchor="middle" font-family="Liberation Sans, sans-serif">150W</text>
<text x="1507.9" y="995.8" font-size="19" text-anchor="middle" font-family="Liberation Sans, sans-serif">120W</text>
<text x="1557.2" y="995.8" font-size="19" text-anchor="middle" font-family="Liberation Sans, sans-serif">90W</text>
<text x="974.5" y="668.8" font-size="19" text-anchor="end" font-family="Liberation Sans, sans-serif">90N</text>
<text x="974.5" y="718.1" font-size="19" text-anchor="end" font-family="Liberation Sans, sans-serif">60N</text>
<text x="974.5" y="767.5" font-size="19" text-anchor="end" font-family="Liberation Sans, sans-serif">30N</text>
<text x="974.5" y="816.8" font-size="19" text-anchor="end" font-family="Liberation Sans, sans-serif">0</text>
<text x="974.5" y="866.1" font-size="19" text-anchor="end" font-family="Liberation Sans, sans-serif">30S</text>
<text x="974.5" y="915.5" font-size="19" text-anchor="end" font-family="Liberation Sans, sans-serif">60S</text>
<text x="974.5" y="964.8" font-size="19" text-anchor="end" font-family="Liberation Sans, sans-serif">90S</text>
<text x="998.1" y="640.8" font-size="27.1" font-family="Liberation Sans, sans-serif">d) CMIP6 1963 Strato. aerosol anomaly (x10<tspan font-size="16" dy="-12">3</tspan><tspan font-size="11" dy="6" dx="2">·</tspan><tspan dy="6" dx="2">cm</tspan><tspan font-size="16" dy="-12">-3</tspan><tspan dy="12">)</tspan></text>
<rect x="1635.8" y="668.10" width="35" height="20.20" fill="#FFB3B3" stroke="#000" stroke-opacity="0.55" stroke-width="0.8"/>
<rect x="1635.8" y="688.30" width="35" height="20.20" fill="#CD1010" stroke="#000" stroke-opacity="0.55" stroke-width="0.8"/>
<rect x="1635.8" y="708.50" width="35" height="20.20" fill="#FA0505" stroke="#000" stroke-opacity="0.55" stroke-width="0.8"/>
<rect x="1635.8" y="728.70" width="35" height="20.20" fill="#FF5500" stroke="#000" stroke-opacity="0.55" stroke-width="0.8"/>
<rect x="1635.8" y="748.90" width="35" height="20.20" fill="#FFA00A" stroke="#000" stroke-opacity="0.55" stroke-width="0.8"/>
<rect x="1635.8" y="769.10" width="35" height="20.20" fill="#FFD030" stroke="#000" stroke-opacity="0.55" stroke-width="0.8"/>
<rect x="1635.8" y="789.30" width="35" height="20.20" fill="#FFF59B" stroke="#000" stroke-opacity="0.55" stroke-width="0.8"/>
<rect x="1635.8" y="809.50" width="35" height="20.20" fill="#B4DCF5" stroke="#000" stroke-opacity="0.55" stroke-width="0.8"/>
<rect x="1635.8" y="829.70" width="35" height="20.20" fill="#5AC0F5" stroke="#000" stroke-opacity="0.55" stroke-width="0.8"/>
<rect x="1635.8" y="849.90" width="35" height="20.20" fill="#0AAFFA" stroke="#000" stroke-opacity="0.55" stroke-width="0.8"/>
<rect x="1635.8" y="870.10" width="35" height="20.20" fill="#2882F5" stroke="#000" stroke-opacity="0.55" stroke-width="0.8"/>
<rect x="1635.8" y="890.30" width="35" height="20.20" fill="#3C5AD7" stroke="#000" stroke-opacity="0.55" stroke-width="0.8"/>
<rect x="1635.8" y="910.50" width="35" height="20.20" fill="#0A05F5" stroke="#000" stroke-opacity="0.55" stroke-width="0.8"/>
<rect x="1635.8" y="930.70" width="35" height="20.20" fill="#8A2BE2" stroke="#000" stroke-opacity="0.55" stroke-width="0.8"/>
<text x="1684.3" y="695.1" font-size="19" font-family="Liberation Sans, sans-serif">6</text>
<text x="1684.3" y="735.5" font-size="19" font-family="Liberation Sans, sans-serif">4</text>
<text x="1684.3" y="775.9" font-size="19" font-family="Liberation Sans, sans-serif">2</text>
<text x="1684.3" y="816.3" font-size="19" font-family="Liberation Sans, sans-serif">0</text>
<text x="1680.8" y="856.7" font-size="19" font-family="Liberation Sans, sans-serif">-2</text>
<text x="1680.8" y="897.1" font-size="19" font-family="Liberation Sans, sans-serif">-4</text>
<text x="1680.8" y="937.5" font-size="19" font-family="Liberation Sans, sans-serif">-6</text>
<rect x="1047.4" y="842.9" width="296.0" height="41.1" fill="none" stroke="#000" stroke-width="4"/>
<circle cx="1303.1" cy="823.6" r="13" fill="#000"/>
<text x="1187.9" y="832.6" font-size="32" font-family="Liberation Sans, sans-serif">Agung</text>
<g transform="translate(165.0,1065.8)" clip-path="url(#mc)"><g filter="url(#fe)"><rect x="-60" y="-60" width="712.0" height="416.0" fill="#8e8e8e"/><rect x="-65.8" y="-65.8" width="723.5" height="82.2" fill="#5f5f5f"/><ellipse cx="189.1" cy="199.0" rx="164.4" ry="21.4" fill="#ababab"/><ellipse cx="164.4" cy="197.3" rx="131.6" ry="14.8" fill="#bababa"/><ellipse cx="361.8" cy="9.9" rx="41.1" ry="5.8" fill="#525252"/><ellipse cx="534.4" cy="9.9" rx="46.0" ry="4.9" fill="#525252"/><ellipse cx="65.8" cy="6.6" rx="65.8" ry="4.9" fill="#565656"/><ellipse cx="657.8" cy="6.6" rx="65.8" ry="4.9" fill="#565656"/><ellipse cx="32.9" cy="44.4" rx="21.4" ry="16.4" fill="#525252"/><ellipse cx="624.9" cy="44.4" rx="21.4" ry="16.4" fill="#525252"/><ellipse cx="44.4" cy="55.9" rx="6.6" ry="4.9" fill="#282828"/><ellipse cx="80.6" cy="65.8" rx="19.7" ry="11.5" fill="#afafaf"/><ellipse cx="79.8" cy="67.4" rx="6.6" ry="4.9" fill="#c1c1c1"/><ellipse cx="121.7" cy="36.2" rx="8.2" ry="13.2" fill="#505050"/><ellipse cx="95.4" cy="31.2" rx="8.2" ry="4.9" fill="#a4a4a4"/><ellipse cx="189.1" cy="24.7" rx="24.7" ry="9.9" fill="#a4a4a4"/><ellipse cx="197.3" cy="15.6" rx="6.6" ry="2.5" fill="#c8c8c8"/><ellipse cx="148.0" cy="19.7" rx="14.8" ry="4.9" fill="#575757"/><ellipse cx="148.0" cy="53.4" rx="6.6" ry="6.6" fill="#adadad"/><path d="M106.9 98.7L174.3 98.7L174.3 72.4L106.9 72.4Z" fill="#424242"/><path d="M159.5 81.4L184.2 81.4L184.2 70.7L159.5 70.7Z" fill="#424242"/><path d="M190.8 88.8L205.6 88.8L205.6 70.7L190.8 70.7Z" fill="#575757"/><path d="M167.7 98.7L172.7 98.7L187.5 128.3L182.5 128.3Z" fill="#717171"/><ellipse cx="200.6" cy="103.6" rx="6.6" ry="4.9" fill="#6d6d6d"/><ellipse cx="64.1" cy="88.8" rx="13.2" ry="13.2" fill="#6f6f6f"/><ellipse cx="41.1" cy="106.9" rx="6.6" ry="4.9" fill="#6f6f6f"/><ellipse cx="93.7" cy="90.4" rx="4.9" ry="6.6" fill="#646464"/><ellipse cx="16.4" cy="93.7" rx="14.8" ry="16.4" fill="#b6b6b6"/><ellipse cx="608.4" cy="93.7" rx="14.8" ry="16.4" fill="#b6b6b6"/><ellipse cx="41.1" cy="111.8" rx="41.1" ry="9.9" fill="#a8a8a8"/><ellipse cx="633.1" cy="111.8" rx="41.1" ry="9.9" fill="#a8a8a8"/><ellipse cx="52.6" cy="132.4" rx="39.5" ry="11.5" fill="#bdbdbd"/><ellipse cx="52.6" cy="132.4" rx="32.9" ry="8.2" fill="#d3d3d3"/><ellipse cx="52.6" cy="132.4" rx="23.0" ry="5.3" fill="#e2e2e2"/><ellipse cx="57.6" cy="131.6" rx="8.2" ry="2.0" fill="#f4f4f4"/><ellipse cx="77.3" cy="152.9" rx="19.7" ry="7.4" fill="#575757"/><ellipse cx="75.6" cy="153.8" rx="9.9" ry="3.3" fill="#3e3e3e"/><ellipse cx="110.2" cy="149.6" rx="16.4" ry="6.6" fill="#858585"/><ellipse cx="95.4" cy="182.5" rx="47.7" ry="23.0" fill="#c5c5c5"/><ellipse cx="95.4" cy="182.5" rx="42.8" ry="19.7" fill="#d9d9d9"/><ellipse cx="98.7" cy="189.1" rx="11.5" ry="4.9" fill="#f4f4f4"/><ellipse cx="120.0" cy="167.7" rx="4.9" ry="3.3" fill="#f8f8f8"/><ellipse cx="74.0" cy="167.7" rx="16.4" ry="4.9" fill="#e2e2e2"/><ellipse cx="74.0" cy="203.9" rx="11.5" ry="7.4" fill="#7a7a7a"/><ellipse cx="36.2" cy="209.7" rx="4.1" ry="4.9" fill="#767676"/><ellipse cx="28.0" cy="222.0" rx="24.7" ry="13.2" fill="#c8c8c8"/><ellipse cx="619.9" cy="222.0" rx="24.7" ry="13.2" fill="#c8c8c8"/><ellipse cx="28.0" cy="222.0" rx="19.7" ry="9.9" fill="#dbdbdb"/><ellipse cx="619.9" cy="222.0" rx="19.7" ry="9.9" fill="#dbdbdb"/><ellipse cx="59.2" cy="244.2" rx="29.6" ry="5.8" fill="#525252"/><ellipse cx="67.4" cy="245.0" rx="9.9" ry="2.5" fill="#333333"/><ellipse cx="52.6" cy="258.2" rx="16.4" ry="4.9" fill="#adadad"/><ellipse cx="23.0" cy="264.7" rx="13.2" ry="7.4" fill="#575757"/><ellipse cx="65.8" cy="270.5" rx="23.0" ry="5.8" fill="#575757"/><ellipse cx="151.3" cy="253.2" rx="65.8" ry="6.6" fill="#bababa"/><ellipse cx="164.4" cy="254.9" rx="24.7" ry="2.5" fill="#d1d1d1"/><ellipse cx="213.8" cy="228.6" rx="180.9" ry="7.4" fill="#a4a4a4"/><ellipse cx="180.9" cy="244.2" rx="26.3" ry="5.8" fill="#5f5f5f"/><ellipse cx="274.6" cy="240.9" rx="16.4" ry="9.9" fill="#5f5f5f"/><ellipse cx="226.9" cy="243.4" rx="19.7" ry="4.9" fill="#858585"/><ellipse cx="238.4" cy="192.4" rx="31.2" ry="11.5" fill="#c8c8c8"/><ellipse cx="238.4" cy="192.4" rx="26.3" ry="8.2" fill="#dbdbdb"/><ellipse cx="180.9" cy="199.0" rx="18.1" ry="13.2" fill="#d1d1d1"/><ellipse cx="299.3" cy="200.6" rx="16.4" ry="9.9" fill="#c1c1c1"/><ellipse cx="273.0" cy="212.1" rx="24.7" ry="4.9" fill="#7a7a7a"/><ellipse cx="205.6" cy="169.4" rx="24.7" ry="8.2" fill="#d3d3d3"/><ellipse cx="254.9" cy="162.8" rx="41.1" ry="21.4" fill="#dedede"/><ellipse cx="259.8" cy="162.8" rx="32.9" ry="17.3" fill="#f8f8f8"/><ellipse cx="203.9" cy="141.4" rx="18.1" ry="13.2" fill="#626262"/><ellipse cx="194.0" cy="144.7" rx="8.2" ry="6.6" fill="#525252"/><ellipse cx="218.7" cy="120.0" rx="14.8" ry="9.9" fill="#a0a0a0"/><ellipse cx="261.5" cy="118.4" rx="9.9" ry="6.6" fill="#575757"/><ellipse cx="266.4" cy="133.2" rx="8.2" ry="8.2" fill="#bfbfbf"/><ellipse cx="271.3" cy="139.8" rx="4.9" ry="3.3" fill="#d7d7d7"/><ellipse cx="300.9" cy="125.0" rx="9.9" ry="11.5" fill="#717171"/><ellipse cx="296.0" cy="157.9" rx="13.2" ry="4.1" fill="#d3d3d3"/><path d="M325.6 49.3L444.0 46.0L509.8 52.6L509.8 98.7L496.6 118.4L444.0 123.3L378.2 115.1L320.7 111.8L312.4 90.4Z" fill="#545454"/><ellipse cx="328.9" cy="82.2" rx="16.4" ry="14.8" fill="#505050"/><ellipse cx="383.1" cy="55.1" rx="6.6" ry="6.6" fill="#1b1b1b"/><ellipse cx="361.8" cy="74.0" rx="16.4" ry="9.9" fill="#4c4c4c"/><ellipse cx="424.3" cy="51.0" rx="16.4" ry="4.9" fill="#a8a8a8"/><ellipse cx="448.9" cy="62.5" rx="21.4" ry="9.9" fill="#6a6a6a"/><ellipse cx="478.5" cy="87.2" rx="21.4" ry="16.4" fill="#373737"/><ellipse cx="478.5" cy="87.2" rx="16.4" ry="12.3" fill="#212121"/><ellipse cx="473.6" cy="84.7" rx="8.2" ry="5.8" fill="#070707"/><ellipse cx="458.8" cy="115.9" rx="13.2" ry="4.9" fill="#212121"/><ellipse cx="485.1" cy="111.8" rx="8.2" ry="3.3" fill="#2c2c2c"/><ellipse cx="356.8" cy="102.0" rx="28.0" ry="9.0" fill="#333333"/><ellipse cx="394.7" cy="80.6" rx="19.7" ry="6.6" fill="#959595"/><ellipse cx="407.8" cy="85.5" rx="8.2" ry="4.1" fill="#adadad"/><ellipse cx="442.3" cy="97.0" rx="9.9" ry="8.2" fill="#8a8a8a"/><ellipse cx="333.8" cy="118.4" rx="19.7" ry="8.2" fill="#adadad"/><ellipse cx="439.1" cy="26.3" rx="62.5" ry="7.4" fill="#a0a0a0"/><ellipse cx="411.1" cy="29.6" rx="13.2" ry="3.3" fill="#afafaf"/><ellipse cx="468.7" cy="131.6" rx="102.0" ry="11.5" fill="#ababab"/><ellipse cx="518.0" cy="129.9" rx="32.9" ry="6.6" fill="#c1c1c1"/><path d="M364.4 128.4L425.2 125.1L459.1 131.9L518.3 145.4L560.6 170.9L569.0 196.2L543.6 201.3L493.0 187.6L450.6 175.8L398.3 160.7L357.7 155.6L327.2 146.2Z" fill="#cccccc"/><path d="M370.0 131.6L425.2 129.1L459.1 135.7L514.7 148.8L555.8 172.7L562.4 194.0L544.3 197.3L493.3 184.2L450.6 172.7L398.3 158.7L357.7 153.8L330.5 146.2Z" fill="#e2e2e2"/><path d="M328.9 145.4L374.6 138.6L418.5 134.3L425.2 140.3L394.7 142.1L397.9 147.0L450.6 148.8L442.3 155.6L459.1 163.9L489.5 172.5L496.3 184.3L476.1 180.9L450.6 172.5L425.2 162.3L398.3 157.2L362.8 150.5Z" fill="#fafafa"/><ellipse cx="508.1" cy="171.8" rx="8.2" ry="5.8" fill="#fafafa"/><ellipse cx="540.2" cy="181.7" rx="13.2" ry="8.2" fill="#fafafa" transform="rotate(35 540.2 181.7)"/><ellipse cx="552.5" cy="153.8" rx="16.4" ry="8.2" fill="#545454"/><ellipse cx="573.1" cy="176.0" rx="13.2" ry="8.2" fill="#424242"/><ellipse cx="-18.9" cy="176.0" rx="13.2" ry="8.2" fill="#424242"/><ellipse cx="442.3" cy="183.4" rx="13.2" ry="5.8" fill="#494949"/><ellipse cx="381.5" cy="168.2" rx="9.9" ry="4.1" fill="#545454"/><ellipse cx="468.7" cy="199.0" rx="102.0" ry="13.2" fill="#adadad" transform="rotate(8 468.7 199.0)"/><ellipse cx="396.3" cy="188.3" rx="11.5" ry="7.4" fill="#e2e2e2"/><ellipse cx="381.5" cy="204.7" rx="16.4" ry="8.2" fill="#d7d7d7"/><ellipse cx="425.1" cy="207.2" rx="9.9" ry="5.8" fill="#d3d3d3"/><ellipse cx="452.2" cy="207.2" rx="9.9" ry="5.8" fill="#d7d7d7"/><ellipse cx="320.7" cy="208.8" rx="26.3" ry="8.2" fill="#cccccc"/><ellipse cx="485.1" cy="230.2" rx="82.2" ry="9.9" fill="#808080"/><ellipse cx="501.5" cy="222.0" rx="36.2" ry="7.4" fill="#afafaf" transform="rotate(35 501.5 222.0)"/><ellipse cx="531.1" cy="252.4" rx="46.0" ry="5.8" fill="#505050"/><ellipse cx="435.8" cy="263.1" rx="37.8" ry="9.9" fill="#6a6a6a"/><ellipse cx="421.0" cy="269.7" rx="9.0" ry="7.4" fill="#afafaf"/><ellipse cx="419.3" cy="281.2" rx="39.5" ry="4.9" fill="#898989"/><ellipse cx="578.8" cy="247.5" rx="9.9" ry="4.1" fill="#adadad"/><ellipse cx="-13.2" cy="247.5" rx="9.9" ry="4.1" fill="#adadad"/><ellipse cx="567.3" cy="108.5" rx="21.4" ry="19.7" fill="#cccccc"/><ellipse cx="-24.7" cy="108.5" rx="21.4" ry="19.7" fill="#cccccc"/><ellipse cx="555.8" cy="106.9" rx="8.2" ry="4.9" fill="#dedede"/><ellipse cx="567.3" cy="49.3" rx="11.5" ry="8.2" fill="#a0a0a0"/><ellipse cx="300.9" cy="189.1" rx="5.8" ry="13.2" fill="#bfbfbf"/></g><g clip-path="url(#ste)"><rect x="0" y="0" width="592.0" height="296.0" fill="url(#dots)"/></g></g>
<g transform="translate(165.0,1065.8)" clip-path="url(#mc)"><use href="#land" fill="#D2D2D2" stroke="#000" stroke-width="1.3" stroke-linejoin="round"/></g>
<rect x="165.0" y="1065.8" width="592.0" height="296.0" fill="none" stroke="#444" stroke-width="1.5"/>
<path d="M181.4 1056.3V1065.8M181.4 1361.8V1371.3M230.8 1056.3V1065.8M230.8 1361.8V1371.3M280.1 1056.3V1065.8M280.1 1361.8V1371.3M329.4 1056.3V1065.8M329.4 1361.8V1371.3M378.8 1056.3V1065.8M378.8 1361.8V1371.3M428.1 1056.3V1065.8M428.1 1361.8V1371.3M477.4 1056.3V1065.8M477.4 1361.8V1371.3M526.8 1056.3V1065.8M526.8 1361.8V1371.3M576.1 1056.3V1065.8M576.1 1361.8V1371.3M625.4 1056.3V1065.8M625.4 1361.8V1371.3M674.8 1056.3V1065.8M674.8 1361.8V1371.3M724.1 1056.3V1065.8M724.1 1361.8V1371.3M155.5 1361.8H165.0M757.0 1361.8H766.5M155.5 1312.5H165.0M757.0 1312.5H766.5M155.5 1263.1H165.0M757.0 1263.1H766.5M155.5 1213.8H165.0M757.0 1213.8H766.5M155.5 1164.5H165.0M757.0 1164.5H766.5M155.5 1115.1H165.0M757.0 1115.1H766.5M155.5 1065.8H165.0M757.0 1065.8H766.5" stroke="#444" stroke-width="1.1" fill="none"/>
<path d="M165.0 1060.8V1065.8M165.0 1361.8V1366.8M197.9 1060.8V1065.8M197.9 1361.8V1366.8M214.3 1060.8V1065.8M214.3 1361.8V1366.8M247.2 1060.8V1065.8M247.2 1361.8V1366.8M263.7 1060.8V1065.8M263.7 1361.8V1366.8M296.6 1060.8V1065.8M296.6 1361.8V1366.8M313.0 1060.8V1065.8M313.0 1361.8V1366.8M345.9 1060.8V1065.8M345.9 1361.8V1366.8M362.3 1060.8V1065.8M362.3 1361.8V1366.8M395.2 1060.8V1065.8M395.2 1361.8V1366.8M411.7 1060.8V1065.8M411.7 1361.8V1366.8M444.5 1060.8V1065.8M444.5 1361.8V1366.8M461.0 1060.8V1065.8M461.0 1361.8V1366.8M493.9 1060.8V1065.8M493.9 1361.8V1366.8M510.3 1060.8V1065.8M510.3 1361.8V1366.8M543.2 1060.8V1065.8M543.2 1361.8V1366.8M559.7 1060.8V1065.8M559.7 1361.8V1366.8M592.5 1060.8V1065.8M592.5 1361.8V1366.8M609.0 1060.8V1065.8M609.0 1361.8V1366.8M641.9 1060.8V1065.8M641.9 1361.8V1366.8M658.3 1060.8V1065.8M658.3 1361.8V1366.8M691.2 1060.8V1065.8M691.2 1361.8V1366.8M707.7 1060.8V1065.8M707.7 1361.8V1366.8M740.5 1060.8V1065.8M740.5 1361.8V1366.8M757.0 1060.8V1065.8M757.0 1361.8V1366.8M160.0 1345.3H165.0M757.0 1345.3H762.0M160.0 1328.9H165.0M757.0 1328.9H762.0M160.0 1296.0H165.0M757.0 1296.0H762.0M160.0 1279.6H165.0M757.0 1279.6H762.0M160.0 1246.7H165.0M757.0 1246.7H762.0M160.0 1230.2H165.0M757.0 1230.2H762.0M160.0 1197.4H165.0M757.0 1197.4H762.0M160.0 1180.9H165.0M757.0 1180.9H762.0M160.0 1148.0H165.0M757.0 1148.0H762.0M160.0 1131.6H165.0M757.0 1131.6H762.0M160.0 1098.7H165.0M757.0 1098.7H762.0M160.0 1082.2H165.0M757.0 1082.2H762.0" stroke="#777" stroke-width="1" fill="none"/>
<text x="181.4" y="1399.6" font-size="19" text-anchor="middle" font-family="Liberation Sans, sans-serif">60W</text>
<text x="230.8" y="1399.6" font-size="19" text-anchor="middle" font-family="Liberation Sans, sans-serif">30W</text>
<text x="280.1" y="1399.6" font-size="19" text-anchor="middle" font-family="Liberation Sans, sans-serif">0</text>
<text x="329.4" y="1399.6" font-size="19" text-anchor="middle" font-family="Liberation Sans, sans-serif">30E</text>
<text x="378.8" y="1399.6" font-size="19" text-anchor="middle" font-family="Liberation Sans, sans-serif">60E</text>
<text x="428.1" y="1399.6" font-size="19" text-anchor="middle" font-family="Liberation Sans, sans-serif">90E</text>
<text x="477.4" y="1399.6" font-size="19" text-anchor="middle" font-family="Liberation Sans, sans-serif">120E</text>
<text x="526.8" y="1399.6" font-size="19" text-anchor="middle" font-family="Liberation Sans, sans-serif">150E</text>
<text x="576.1" y="1399.6" font-size="19" text-anchor="middle" font-family="Liberation Sans, sans-serif">180</text>
<text x="625.4" y="1399.6" font-size="19" text-anchor="middle" font-family="Liberation Sans, sans-serif">150W</text>
<text x="674.8" y="1399.6" font-size="19" text-anchor="middle" font-family="Liberation Sans, sans-serif">120W</text>
<text x="724.1" y="1399.6" font-size="19" text-anchor="middle" font-family="Liberation Sans, sans-serif">90W</text>
<text x="141.4" y="1072.6" font-size="19" text-anchor="end" font-family="Liberation Sans, sans-serif">90N</text>
<text x="141.4" y="1121.9" font-size="19" text-anchor="end" font-family="Liberation Sans, sans-serif">60N</text>
<text x="141.4" y="1171.3" font-size="19" text-anchor="end" font-family="Liberation Sans, sans-serif">30N</text>
<text x="141.4" y="1220.6" font-size="19" text-anchor="end" font-family="Liberation Sans, sans-serif">0</text>
<text x="141.4" y="1269.9" font-size="19" text-anchor="end" font-family="Liberation Sans, sans-serif">30S</text>
<text x="141.4" y="1319.3" font-size="19" text-anchor="end" font-family="Liberation Sans, sans-serif">60S</text>
<text x="141.4" y="1368.6" font-size="19" text-anchor="end" font-family="Liberation Sans, sans-serif">90S</text>
<text x="165.0" y="1044.6" font-size="27.1" font-family="Liberation Sans, sans-serif">e) CMIP6 SWR trend (W<tspan font-size="11" dy="-6" dx="2">·</tspan><tspan dy="6" dx="2">m</tspan><tspan font-size="16" dy="-12">-2</tspan><tspan dy="12">/dec) : 1963-1973</tspan></text>
<rect x="802.7" y="1071.90" width="35" height="20.20" fill="#FFB3B3" stroke="#000" stroke-opacity="0.55" stroke-width="0.8"/>
<rect x="802.7" y="1092.10" width="35" height="20.20" fill="#CD1010" stroke="#000" stroke-opacity="0.55" stroke-width="0.8"/>
<rect x="802.7" y="1112.30" width="35" height="20.20" fill="#FA0505" stroke="#000" stroke-opacity="0.55" stroke-width="0.8"/>
<rect x="802.7" y="1132.50" width="35" height="20.20" fill="#FF5500" stroke="#000" stroke-opacity="0.55" stroke-width="0.8"/>
<rect x="802.7" y="1152.70" width="35" height="20.20" fill="#FFA00A" stroke="#000" stroke-opacity="0.55" stroke-width="0.8"/>
<rect x="802.7" y="1172.90" width="35" height="20.20" fill="#FFD030" stroke="#000" stroke-opacity="0.55" stroke-width="0.8"/>
<rect x="802.7" y="1193.10" width="35" height="20.20" fill="#FFF59B" stroke="#000" stroke-opacity="0.55" stroke-width="0.8"/>
<rect x="802.7" y="1213.30" width="35" height="20.20" fill="#B4DCF5" stroke="#000" stroke-opacity="0.55" stroke-width="0.8"/>
<rect x="802.7" y="1233.50" width="35" height="20.20" fill="#5AC0F5" stroke="#000" stroke-opacity="0.55" stroke-width="0.8"/>
<rect x="802.7" y="1253.70" width="35" height="20.20" fill="#0AAFFA" stroke="#000" stroke-opacity="0.55" stroke-width="0.8"/>
<rect x="802.7" y="1273.90" width="35" height="20.20" fill="#2882F5" stroke="#000" stroke-opacity="0.55" stroke-width="0.8"/>
<rect x="802.7" y="1294.10" width="35" height="20.20" fill="#3C5AD7" stroke="#000" stroke-opacity="0.55" stroke-width="0.8"/>
<rect x="802.7" y="1314.30" width="35" height="20.20" fill="#0A05F5" stroke="#000" stroke-opacity="0.55" stroke-width="0.8"/>
<rect x="802.7" y="1334.50" width="35" height="20.20" fill="#8A2BE2" stroke="#000" stroke-opacity="0.55" stroke-width="0.8"/>
<text x="851.2" y="1098.9" font-size="19" font-family="Liberation Sans, sans-serif">3</text>
<text x="851.2" y="1139.3" font-size="19" font-family="Liberation Sans, sans-serif">2</text>
<text x="851.2" y="1179.7" font-size="19" font-family="Liberation Sans, sans-serif">1</text>
<text x="851.2" y="1220.1" font-size="19" font-family="Liberation Sans, sans-serif">0</text>
<text x="847.7" y="1260.5" font-size="19" font-family="Liberation Sans, sans-serif">-1</text>
<text x="847.7" y="1300.9" font-size="19" font-family="Liberation Sans, sans-serif">-2</text>
<text x="847.7" y="1341.3" font-size="19" font-family="Liberation Sans, sans-serif">-3</text>
<rect x="214.3" y="1246.7" width="296.0" height="41.1" fill="none" stroke="#000" stroke-width="4"/>
<g transform="translate(998.1,1065.8)" clip-path="url(#mc)"><g filter="url(#ff)"><rect x="-60" y="-60" width="712.0" height="416.0" fill="#929292"/><rect x="-65.8" y="-65.8" width="723.5" height="77.3" fill="#a0a0a0"/><ellipse cx="230.2" cy="16.4" rx="82.2" ry="11.5" fill="#ababab"/><ellipse cx="435.8" cy="19.7" rx="69.1" ry="13.2" fill="#5b5b5b"/><ellipse cx="545.9" cy="6.6" rx="49.3" ry="6.6" fill="#a4a4a4"/><ellipse cx="-46.0" cy="6.6" rx="49.3" ry="6.6" fill="#a4a4a4"/><ellipse cx="337.1" cy="13.2" rx="41.1" ry="8.2" fill="#b3b3b3"/><ellipse cx="14.8" cy="36.2" rx="14.8" ry="14.8" fill="#bfbfbf"/><ellipse cx="606.8" cy="36.2" rx="14.8" ry="14.8" fill="#bfbfbf"/><ellipse cx="14.8" cy="29.6" rx="9.9" ry="7.4" fill="#e6e6e6"/><ellipse cx="606.8" cy="29.6" rx="9.9" ry="7.4" fill="#e6e6e6"/><ellipse cx="13.2" cy="28.0" rx="5.8" ry="4.1" fill="#f8f8f8"/><ellipse cx="118.4" cy="39.5" rx="14.8" ry="9.0" fill="#cccccc"/><ellipse cx="118.4" cy="39.5" rx="8.2" ry="4.9" fill="#dedede"/><ellipse cx="164.4" cy="29.6" rx="26.3" ry="8.2" fill="#545454"/><ellipse cx="92.1" cy="21.4" rx="8.2" ry="5.8" fill="#adadad"/><ellipse cx="70.7" cy="62.5" rx="32.9" ry="19.7" fill="#505050"/><ellipse cx="83.9" cy="65.8" rx="9.9" ry="9.0" fill="#2c2c2c"/><ellipse cx="82.2" cy="67.4" rx="4.9" ry="4.9" fill="#1a1a1a"/><ellipse cx="67.4" cy="88.0" rx="11.5" ry="6.6" fill="#a0a0a0"/><ellipse cx="14.8" cy="75.6" rx="14.8" ry="9.9" fill="#a0a0a0"/><ellipse cx="606.8" cy="75.6" rx="14.8" ry="9.9" fill="#a0a0a0"/><ellipse cx="49.3" cy="109.4" rx="13.2" ry="5.8" fill="#8e8e8e"/><ellipse cx="19.7" cy="98.7" rx="21.4" ry="14.8" fill="#3a3a3a"/><ellipse cx="611.7" cy="98.7" rx="21.4" ry="14.8" fill="#3a3a3a"/><ellipse cx="18.1" cy="103.1" rx="18.1" ry="6.9" fill="#070707"/><ellipse cx="610.1" cy="103.1" rx="18.1" ry="6.9" fill="#070707"/><ellipse cx="65.8" cy="127.4" rx="28.0" ry="13.2" fill="#333333"/><ellipse cx="65.8" cy="126.6" rx="23.0" ry="7.4" fill="#070707" transform="rotate(-22 65.8 126.6)"/><path d="M54.3 143.9L98.7 142.2L128.3 144.7L136.5 152.9L136.5 166.1L106.9 168.6L55.9 165.3Z" fill="#dbdbdb"/><path d="M57.6 146.4L98.7 145.0L131.6 148.0L133.2 162.0L106.9 164.1L59.2 161.2Z" fill="#fafafa"/><ellipse cx="95.4" cy="175.1" rx="41.1" ry="4.1" fill="#929292"/><ellipse cx="95.4" cy="187.5" rx="44.4" ry="13.2" fill="#494949"/><ellipse cx="100.3" cy="186.6" rx="19.7" ry="6.6" fill="#070707"/><ellipse cx="75.6" cy="204.7" rx="24.7" ry="9.0" fill="#a2a2a2"/><ellipse cx="34.5" cy="209.7" rx="8.2" ry="4.1" fill="#a8a8a8"/><ellipse cx="26.3" cy="221.2" rx="24.7" ry="9.9" fill="#505050"/><ellipse cx="618.3" cy="221.2" rx="24.7" ry="9.9" fill="#505050"/><ellipse cx="16.4" cy="222.0" rx="4.9" ry="4.9" fill="#333333"/><ellipse cx="148.0" cy="228.6" rx="123.3" ry="7.4" fill="#565656"/><ellipse cx="213.8" cy="246.7" rx="197.3" ry="11.5" fill="#9d9d9d"/><ellipse cx="75.6" cy="253.2" rx="21.4" ry="9.9" fill="#afafaf"/><ellipse cx="159.5" cy="256.5" rx="29.6" ry="4.9" fill="#5f5f5f"/><ellipse cx="24.7" cy="264.7" rx="26.3" ry="8.2" fill="#a4a4a4"/><ellipse cx="616.6" cy="264.7" rx="26.3" ry="8.2" fill="#a4a4a4"/><path d="M106.9 98.7L174.3 98.7L174.3 72.4L106.9 72.4Z" fill="#cccccc"/><ellipse cx="138.1" cy="82.2" rx="4.9" ry="3.3" fill="#f8f8f8"/><path d="M159.5 81.4L184.2 81.4L184.2 70.7L159.5 70.7Z" fill="#cccccc"/><path d="M190.8 88.8L205.6 88.8L205.6 70.7L190.8 70.7Z" fill="#cccccc"/><path d="M167.7 98.7L172.7 98.7L187.5 128.3L182.5 128.3Z" fill="#767676"/><ellipse cx="200.6" cy="103.6" rx="6.6" ry="4.9" fill="#898989"/><ellipse cx="225.3" cy="120.0" rx="14.8" ry="9.9" fill="#3e3e3e"/><ellipse cx="261.5" cy="120.0" rx="13.2" ry="8.2" fill="#959595"/><ellipse cx="253.2" cy="137.3" rx="6.6" ry="4.9" fill="#d3d3d3"/><ellipse cx="279.5" cy="131.6" rx="6.6" ry="8.2" fill="#898989"/><ellipse cx="202.3" cy="150.5" rx="18.1" ry="13.2" fill="#b6b6b6"/><ellipse cx="199.0" cy="149.6" rx="11.5" ry="9.0" fill="#dbdbdb"/><ellipse cx="199.8" cy="146.4" rx="4.1" ry="3.3" fill="#f8f8f8"/><ellipse cx="256.5" cy="158.7" rx="37.8" ry="14.8" fill="#3e3e3e"/><ellipse cx="264.7" cy="162.0" rx="21.4" ry="9.0" fill="#070707"/><ellipse cx="185.8" cy="176.0" rx="8.2" ry="9.9" fill="#cccccc"/><ellipse cx="217.1" cy="190.8" rx="49.3" ry="10.7" fill="#4b4b4b"/><ellipse cx="245.0" cy="189.9" rx="4.9" ry="3.3" fill="#212121"/><ellipse cx="254.9" cy="209.7" rx="52.6" ry="10.7" fill="#a4a4a4"/><ellipse cx="268.0" cy="213.8" rx="14.8" ry="6.6" fill="#c1c1c1"/><ellipse cx="297.6" cy="171.0" rx="11.5" ry="7.4" fill="#e2e2e2"/><ellipse cx="300.9" cy="171.0" rx="7.4" ry="5.8" fill="#fafafa"/><ellipse cx="304.2" cy="118.4" rx="9.9" ry="8.2" fill="#d7d7d7"/><ellipse cx="361.8" cy="60.8" rx="23.0" ry="10.7" fill="#cccccc"/><ellipse cx="419.3" cy="52.6" rx="36.2" ry="11.5" fill="#9d9d9d"/><ellipse cx="399.6" cy="81.4" rx="42.8" ry="14.0" fill="#575757"/><ellipse cx="404.5" cy="81.4" rx="13.2" ry="6.6" fill="#454545"/><ellipse cx="476.9" cy="65.8" rx="26.3" ry="13.2" fill="#808080"/><ellipse cx="490.0" cy="74.0" rx="9.9" ry="8.2" fill="#afafaf"/><path d="M355.2 88.8L386.4 88.8L411.1 97.0L444.0 85.5L463.7 75.6L496.6 78.9L506.5 98.7L496.6 125.0L452.2 128.3L430.8 121.7L402.9 116.8L378.2 111.8L356.8 108.5Z" fill="#cccccc"/><path d="M361.8 92.1L386.4 92.9L411.1 101.1L444.0 90.4L463.7 79.8L493.3 82.2L501.5 98.7L493.3 121.7L452.2 124.2L430.8 117.6L402.9 112.6L378.2 107.7L361.8 105.2Z" fill="#dedede"/><ellipse cx="419.3" cy="108.2" rx="15.6" ry="6.6" fill="#fafafa" transform="rotate(-12 419.3 108.2)"/><path d="M442.3 93.7L462.1 82.2L488.4 80.6L493.3 98.7L490.0 118.4L452.2 123.3L440.7 113.5L442.3 102.0Z" fill="#fafafa"/><ellipse cx="325.6" cy="100.3" rx="11.5" ry="9.0" fill="#d3d3d3"/><ellipse cx="325.6" cy="129.9" rx="14.0" ry="7.4" fill="#dbdbdb"/><ellipse cx="353.5" cy="120.0" rx="31.2" ry="9.9" fill="#545454"/><ellipse cx="399.6" cy="143.9" rx="62.5" ry="21.4" fill="#494949"/><ellipse cx="452.2" cy="161.2" rx="65.8" ry="16.4" fill="#494949" transform="rotate(18 452.2 161.2)"/><ellipse cx="526.2" cy="180.9" rx="32.9" ry="13.2" fill="#494949" transform="rotate(20 526.2 180.9)"/><ellipse cx="400.4" cy="152.1" rx="37.8" ry="10.2" fill="#070707"/><ellipse cx="457.1" cy="163.6" rx="11.5" ry="3.6" fill="#070707"/><ellipse cx="546.8" cy="186.6" rx="17.3" ry="6.9" fill="#070707" transform="rotate(22 546.8 186.6)"/><ellipse cx="521.3" cy="126.6" rx="29.6" ry="16.4" fill="#494949"/><ellipse cx="521.6" cy="125.0" rx="15.6" ry="8.6" fill="#070707"/><ellipse cx="487.6" cy="134.8" rx="15.6" ry="10.7" fill="#959595"/><path d="M534.4 149.6L562.4 149.6L585.4 179.2L582.1 187.5L552.5 179.2Z" fill="#dbdbdb"/><path d="M538.5 153.8L560.4 152.1L580.5 180.1L577.2 184.2L553.8 176.0Z" fill="#fafafa"/><path d="M289.4 154.6L348.6 154.6L397.9 161.2L470.3 172.7L473.6 202.3L411.1 202.3L388.1 190.8L345.3 179.2L289.4 179.2Z" fill="#dbdbdb"/><path d="M293.4 157.2L349.1 157.2L349.1 176.0L293.4 176.0Z" fill="#fafafa"/><path d="M352.6 163.9L394.7 167.7L394.7 187.5L361.8 184.2Z" fill="#fafafa"/><path d="M411.6 176.0L460.4 178.4L469.1 195.7L419.3 199.5Z" fill="#fafafa"/><ellipse cx="397.9" cy="184.2" rx="6.6" ry="7.4" fill="#929292"/><ellipse cx="315.7" cy="208.8" rx="29.6" ry="9.0" fill="#545454"/><ellipse cx="381.5" cy="207.2" rx="19.7" ry="11.5" fill="#545454"/><ellipse cx="365.1" cy="203.1" rx="3.3" ry="3.3" fill="#2c2c2c"/><ellipse cx="547.6" cy="207.2" rx="41.1" ry="13.2" fill="#b3b3b3"/><ellipse cx="-44.4" cy="207.2" rx="41.1" ry="13.2" fill="#b3b3b3"/><ellipse cx="547.6" cy="207.2" rx="36.2" ry="9.9" fill="#c8c8c8"/><ellipse cx="-44.4" cy="207.2" rx="36.2" ry="9.9" fill="#c8c8c8"/><ellipse cx="518.0" cy="206.4" rx="9.9" ry="4.9" fill="#e2e2e2"/><ellipse cx="506.5" cy="226.9" rx="23.0" ry="9.9" fill="#757575"/><ellipse cx="504.8" cy="261.5" rx="29.6" ry="8.2" fill="#575757"/><ellipse cx="440.7" cy="223.6" rx="11.5" ry="7.4" fill="#c1c1c1"/><ellipse cx="419.3" cy="274.6" rx="39.5" ry="11.5" fill="#afafaf"/><ellipse cx="432.5" cy="277.1" rx="11.5" ry="3.3" fill="#d3d3d3"/><ellipse cx="569.0" cy="100.3" rx="23.0" ry="21.4" fill="#373737"/><ellipse cx="-23.0" cy="100.3" rx="23.0" ry="21.4" fill="#373737"/><ellipse cx="572.3" cy="100.3" rx="18.1" ry="14.8" fill="#070707"/><ellipse cx="-19.7" cy="100.3" rx="18.1" ry="14.8" fill="#070707"/><ellipse cx="567.3" cy="49.3" rx="11.5" ry="8.2" fill="#a0a0a0"/><ellipse cx="578.8" cy="125.8" rx="13.2" ry="4.1" fill="#bababa"/><ellipse cx="-13.2" cy="125.8" rx="13.2" ry="4.1" fill="#bababa"/></g><g clip-path="url(#stf)"><rect x="0" y="0" width="592.0" height="296.0" fill="url(#dots)"/></g></g>
<g transform="translate(998.1,1065.8)" clip-path="url(#mc)"><use href="#land" fill="#D2D2D2" stroke="#000" stroke-width="1.3" stroke-linejoin="round"/></g>
<rect x="998.1" y="1065.8" width="592.0" height="296.0" fill="none" stroke="#444" stroke-width="1.5"/>
<path d="M1014.5 1056.3V1065.8M1014.5 1361.8V1371.3M1063.9 1056.3V1065.8M1063.9 1361.8V1371.3M1113.2 1056.3V1065.8M1113.2 1361.8V1371.3M1162.5 1056.3V1065.8M1162.5 1361.8V1371.3M1211.9 1056.3V1065.8M1211.9 1361.8V1371.3M1261.2 1056.3V1065.8M1261.2 1361.8V1371.3M1310.5 1056.3V1065.8M1310.5 1361.8V1371.3M1359.9 1056.3V1065.8M1359.9 1361.8V1371.3M1409.2 1056.3V1065.8M1409.2 1361.8V1371.3M1458.5 1056.3V1065.8M1458.5 1361.8V1371.3M1507.9 1056.3V1065.8M1507.9 1361.8V1371.3M1557.2 1056.3V1065.8M1557.2 1361.8V1371.3M988.6 1361.8H998.1M1590.1 1361.8H1599.6M988.6 1312.5H998.1M1590.1 1312.5H1599.6M988.6 1263.1H998.1M1590.1 1263.1H1599.6M988.6 1213.8H998.1M1590.1 1213.8H1599.6M988.6 1164.5H998.1M1590.1 1164.5H1599.6M988.6 1115.1H998.1M1590.1 1115.1H1599.6M988.6 1065.8H998.1M1590.1 1065.8H1599.6" stroke="#444" stroke-width="1.1" fill="none"/>
<path d="M998.1 1060.8V1065.8M998.1 1361.8V1366.8M1031.0 1060.8V1065.8M1031.0 1361.8V1366.8M1047.4 1060.8V1065.8M1047.4 1361.8V1366.8M1080.3 1060.8V1065.8M1080.3 1361.8V1366.8M1096.8 1060.8V1065.8M1096.8 1361.8V1366.8M1129.7 1060.8V1065.8M1129.7 1361.8V1366.8M1146.1 1060.8V1065.8M1146.1 1361.8V1366.8M1179.0 1060.8V1065.8M1179.0 1361.8V1366.8M1195.4 1060.8V1065.8M1195.4 1361.8V1366.8M1228.3 1060.8V1065.8M1228.3 1361.8V1366.8M1244.8 1060.8V1065.8M1244.8 1361.8V1366.8M1277.6 1060.8V1065.8M1277.6 1361.8V1366.8M1294.1 1060.8V1065.8M1294.1 1361.8V1366.8M1327.0 1060.8V1065.8M1327.0 1361.8V1366.8M1343.4 1060.8V1065.8M1343.4 1361.8V1366.8M1376.3 1060.8V1065.8M1376.3 1361.8V1366.8M1392.8 1060.8V1065.8M1392.8 1361.8V1366.8M1425.6 1060.8V1065.8M1425.6 1361.8V1366.8M1442.1 1060.8V1065.8M1442.1 1361.8V1366.8M1475.0 1060.8V1065.8M1475.0 1361.8V1366.8M1491.4 1060.8V1065.8M1491.4 1361.8V1366.8M1524.3 1060.8V1065.8M1524.3 1361.8V1366.8M1540.8 1060.8V1065.8M1540.8 1361.8V1366.8M1573.6 1060.8V1065.8M1573.6 1361.8V1366.8M1590.1 1060.8V1065.8M1590.1 1361.8V1366.8M993.1 1345.3H998.1M1590.1 1345.3H1595.1M993.1 1328.9H998.1M1590.1 1328.9H1595.1M993.1 1296.0H998.1M1590.1 1296.0H1595.1M993.1 1279.6H998.1M1590.1 1279.6H1595.1M993.1 1246.7H998.1M1590.1 1246.7H1595.1M993.1 1230.2H998.1M1590.1 1230.2H1595.1M993.1 1197.4H998.1M1590.1 1197.4H1595.1M993.1 1180.9H998.1M1590.1 1180.9H1595.1M993.1 1148.0H998.1M1590.1 1148.0H1595.1M993.1 1131.6H998.1M1590.1 1131.6H1595.1M993.1 1098.7H998.1M1590.1 1098.7H1595.1M993.1 1082.2H998.1M1590.1 1082.2H1595.1" stroke="#777" stroke-width="1" fill="none"/>
<text x="1014.5" y="1399.6" font-size="19" text-anchor="middle" font-family="Liberation Sans, sans-serif">60W</text>
<text x="1063.9" y="1399.6" font-size="19" text-anchor="middle" font-family="Liberation Sans, sans-serif">30W</text>
<text x="1113.2" y="1399.6" font-size="19" text-anchor="middle" font-family="Liberation Sans, sans-serif">0</text>
<text x="1162.5" y="1399.6" font-size="19" text-anchor="middle" font-family="Liberation Sans, sans-serif">30E</text>
<text x="1211.9" y="1399.6" font-size="19" text-anchor="middle" font-family="Liberation Sans, sans-serif">60E</text>
<text x="1261.2" y="1399.6" font-size="19" text-anchor="middle" font-family="Liberation Sans, sans-serif">90E</text>
<text x="1310.5" y="1399.6" font-size="19" text-anchor="middle" font-family="Liberation Sans, sans-serif">120E</text>
<text x="1359.9" y="1399.6" font-size="19" text-anchor="middle" font-family="Liberation Sans, sans-serif">150E</text>
<text x="1409.2" y="1399.6" font-size="19" text-anchor="middle" font-family="Liberation Sans, sans-serif">180</text>
<text x="1458.5" y="1399.6" font-size="19" text-anchor="middle" font-family="Liberation Sans, sans-serif">150W</text>
<text x="1507.9" y="1399.6" font-size="19" text-anchor="middle" font-family="Liberation Sans, sans-serif">120W</text>
<text x="1557.2" y="1399.6" font-size="19" text-anchor="middle" font-family="Liberation Sans, sans-serif">90W</text>
<text x="974.5" y="1072.6" font-size="19" text-anchor="end" font-family="Liberation Sans, sans-serif">90N</text>
<text x="974.5" y="1121.9" font-size="19" text-anchor="end" font-family="Liberation Sans, sans-serif">60N</text>
<text x="974.5" y="1171.3" font-size="19" text-anchor="end" font-family="Liberation Sans, sans-serif">30N</text>
<text x="974.5" y="1220.6" font-size="19" text-anchor="end" font-family="Liberation Sans, sans-serif">0</text>
<text x="974.5" y="1269.9" font-size="19" text-anchor="end" font-family="Liberation Sans, sans-serif">30S</text>
<text x="974.5" y="1319.3" font-size="19" text-anchor="end" font-family="Liberation Sans, sans-serif">60S</text>
<text x="974.5" y="1368.6" font-size="19" text-anchor="end" font-family="Liberation Sans, sans-serif">90S</text>
<text x="998.1" y="1044.6" font-size="27.1" font-family="Liberation Sans, sans-serif">f) CMIP6 total cloud trend (%/dec) : 1963-1973</text>
<rect x="1627.5" y="1071.90" width="35" height="20.20" fill="#FFB3B3" stroke="#000" stroke-opacity="0.55" stroke-width="0.8"/>
<rect x="1627.5" y="1092.10" width="35" height="20.20" fill="#CD1010" stroke="#000" stroke-opacity="0.55" stroke-width="0.8"/>
<rect x="1627.5" y="1112.30" width="35" height="20.20" fill="#FA0505" stroke="#000" stroke-opacity="0.55" stroke-width="0.8"/>
<rect x="1627.5" y="1132.50" width="35" height="20.20" fill="#FF5500" stroke="#000" stroke-opacity="0.55" stroke-width="0.8"/>
<rect x="1627.5" y="1152.70" width="35" height="20.20" fill="#FFA00A" stroke="#000" stroke-opacity="0.55" stroke-width="0.8"/>
<rect x="1627.5" y="1172.90" width="35" height="20.20" fill="#FFD030" stroke="#000" stroke-opacity="0.55" stroke-width="0.8"/>
<rect x="1627.5" y="1193.10" width="35" height="20.20" fill="#FFF59B" stroke="#000" stroke-opacity="0.55" stroke-width="0.8"/>
<rect x="1627.5" y="1213.30" width="35" height="20.20" fill="#B4DCF5" stroke="#000" stroke-opacity="0.55" stroke-width="0.8"/>
<rect x="1627.5" y="1233.50" width="35" height="20.20" fill="#5AC0F5" stroke="#000" stroke-opacity="0.55" stroke-width="0.8"/>
<rect x="1627.5" y="1253.70" width="35" height="20.20" fill="#0AAFFA" stroke="#000" stroke-opacity="0.55" stroke-width="0.8"/>
<rect x="1627.5" y="1273.90" width="35" height="20.20" fill="#2882F5" stroke="#000" stroke-opacity="0.55" stroke-width="0.8"/>
<rect x="1627.5" y="1294.10" width="35" height="20.20" fill="#3C5AD7" stroke="#000" stroke-opacity="0.55" stroke-width="0.8"/>
<rect x="1627.5" y="1314.30" width="35" height="20.20" fill="#0A05F5" stroke="#000" stroke-opacity="0.55" stroke-width="0.8"/>
<rect x="1627.5" y="1334.50" width="35" height="20.20" fill="#8A2BE2" stroke="#000" stroke-opacity="0.55" stroke-width="0.8"/>
<text x="1676.0" y="1098.9" font-size="19" font-family="Liberation Sans, sans-serif">1.2</text>
<text x="1676.0" y="1139.3" font-size="19" font-family="Liberation Sans, sans-serif">0.8</text>
<text x="1676.0" y="1179.7" font-size="19" font-family="Liberation Sans, sans-serif">0.4</text>
<text x="1676.0" y="1220.1" font-size="19" font-family="Liberation Sans, sans-serif">0</text>
<text x="1672.5" y="1260.5" font-size="19" font-family="Liberation Sans, sans-serif">-0.4</text>
<text x="1672.5" y="1300.9" font-size="19" font-family="Liberation Sans, sans-serif">-0.8</text>
<text x="1672.5" y="1341.3" font-size="19" font-family="Liberation Sans, sans-serif">-1.2</text>
<rect x="1047.4" y="1246.7" width="296.0" height="41.1" fill="none" stroke="#000" stroke-width="4"/>
<g transform="translate(165.0,1468.8)" clip-path="url(#mc)"><g filter="url(#fg)"><rect x="-60" y="-60" width="712.0" height="416.0" fill="#767676"/><path d="M-65.8 11.5L0.0 11.5L51.0 13.2L54.3 20.2L47.7 27.0L51.0 32.1L71.0 33.7L103.3 27.0L113.5 18.6L135.3 16.9L180.9 20.2L290.1 18.6L335.5 20.2L357.7 27.0L394.7 32.1L428.7 37.2L435.4 43.9L428.7 49.0L384.8 49.0L357.7 43.9L323.9 35.5L290.1 32.1L274.1 28.8L269.0 49.0L231.9 60.8L180.9 62.5L155.7 64.1L135.3 69.2L126.9 65.9L130.2 59.2L142.1 52.5L123.5 42.3L89.8 43.9L67.7 50.6L57.6 60.8L28.8 65.9L0.0 64.1L-65.8 64.1Z" fill="#898989"/><path d="M435.4 15.1L458.8 10.0L657.8 10.0L657.8 64.1L592.8 64.1L592.8 49.0L560.7 43.9L509.8 42.3L462.6 42.3L442.3 32.1L435.4 23.7Z" fill="#898989"/><ellipse cx="305.9" cy="66.8" rx="16.4" ry="7.4" fill="#898989"/><path d="M354.2 94.7L357.7 77.8L377.9 60.8L408.5 50.6L442.3 49.0L462.6 42.3L476.1 64.1L493.0 91.3L498.1 108.2L493.0 121.7L481.2 133.5L489.5 142.1L503.2 148.8L501.4 160.7L526.9 165.8L577.5 169.0L592.8 180.9L592.8 196.2L435.4 196.2L435.4 180.9L442.3 162.3L447.3 145.4L445.6 135.3L425.2 121.7L430.3 101.5L425.2 91.3L391.4 89.6L377.9 98.0L357.7 101.5Z" fill="#898989"/><path d="M-65.8 184.2L0.0 184.2L11.8 176.0L28.8 179.2L47.7 184.2L96.5 184.2L113.5 189.1L130.2 201.3L147.2 211.3L180.9 209.7L198.0 202.9L214.9 182.5L231.9 172.5L279.5 172.7L314.1 176.0L357.7 177.6L384.8 179.2L408.5 176.0L435.4 180.9L592.8 180.9L657.8 180.9L657.8 214.8L592.8 214.8L543.6 218.2L493.0 219.9L442.3 223.1L391.4 221.5L345.8 223.1L290.1 225.0L231.9 228.2L164.1 230.1L96.5 236.8L45.7 243.4L11.8 236.8L0.0 226.6L-65.8 226.6Z" fill="#898989"/><path d="M511.4 77.8L523.4 72.7L543.6 77.8L553.8 88.0L577.5 94.7L592.8 88.0L592.8 111.7L577.5 118.4L560.7 115.1L547.1 101.5L526.9 94.7L515.0 88.0Z" fill="#898989"/><path d="M560.7 140.3L573.9 133.5L580.5 145.4L577.2 162.3L585.4 172.5L569.0 169.0L562.4 153.9Z" fill="#898989"/><ellipse cx="364.4" cy="267.2" rx="13.2" ry="4.1" fill="#898989"/><ellipse cx="179.2" cy="38.8" rx="34.5" ry="11.5" fill="#9b9b9b" transform="rotate(8 179.2 38.8)"/><ellipse cx="416.9" cy="65.8" rx="36.2" ry="12.3" fill="#9b9b9b"/><ellipse cx="113.5" cy="213.8" rx="22.2" ry="10.7" fill="#9b9b9b"/><ellipse cx="21.4" cy="208.0" rx="6.6" ry="4.9" fill="#9b9b9b"/><ellipse cx="328.9" cy="211.3" rx="15.6" ry="5.8" fill="#9b9b9b"/><ellipse cx="379.9" cy="204.6" rx="18.1" ry="11.5" fill="#9b9b9b"/><ellipse cx="460.4" cy="207.2" rx="28.0" ry="4.9" fill="#9b9b9b" transform="rotate(-8 460.4 207.2)"/><ellipse cx="531.1" cy="197.0" rx="14.8" ry="6.6" fill="#9b9b9b"/><path d="M11.8 106.6L42.4 99.8L62.7 96.4L89.8 82.9L103.3 81.1L113.5 91.3L123.5 98.0L152.3 103.1L150.6 114.9L130.2 118.4L103.3 111.7L84.7 116.8L82.9 128.4L62.7 126.8L50.8 111.7L25.5 118.4L13.6 114.9Z" fill="#646464"/><path d="M177.6 103.1L198.0 101.5L203.1 111.7L206.4 125.1L198.0 131.9L180.9 128.4L174.3 142.1L164.1 143.7L147.2 131.9L164.1 118.4L174.3 111.7Z" fill="#646464"/><ellipse cx="211.3" cy="93.7" rx="8.2" ry="4.1" fill="#646464"/><path d="M111.8 155.6L126.9 150.5L135.3 162.3L138.8 169.0L153.9 165.8L159.0 175.8L157.4 192.7L172.7 186.0L167.6 196.2L147.2 202.9L140.4 187.6L130.2 177.6L113.5 169.0Z" fill="#646464"/><path d="M-65.8 243.4L0.0 243.4L49.3 248.3L98.7 241.7L164.4 234.3L230.2 231.9L296.0 230.2L361.8 228.6L427.5 227.7L493.3 224.5L559.1 220.3L592.0 220.3L657.8 220.3L657.8 279.5L592.0 279.5L559.1 282.8L493.3 279.5L427.5 266.4L361.8 263.1L296.0 263.1L230.2 261.5L164.4 261.5L98.7 266.4L49.3 277.9L0.0 277.9L-65.8 277.9Z" fill="#646464"/><path d="M106.9 247.5L164.4 242.5L230.2 238.4L296.0 236.0L361.8 233.5L427.5 231.9L493.3 229.4L559.1 228.6L595.3 233.5L595.3 266.4L559.1 276.3L493.3 276.3L444.0 266.4L394.7 256.5L296.0 254.9L230.2 256.5L164.4 257.3L106.9 253.2Z" fill="#525252"/><path d="M320.7 243.4L361.8 240.9L427.5 237.6L493.3 233.5L550.9 234.3L580.5 243.4L580.5 256.5L550.9 264.7L493.3 267.2L444.0 260.6L394.7 252.4L361.8 251.6L320.7 249.1Z" fill="#404040"/><ellipse cx="486.2" cy="248.6" rx="77.3" ry="14.0" fill="#2e2e2e"/><ellipse cx="496.3" cy="246.8" rx="43.9" ry="8.7" fill="#1b1b1b"/><path d="M115.1 276.3L246.7 276.3L246.7 282.8L115.1 282.8Z" fill="#767676"/><path d="M0.0 289.4L246.7 289.4L246.7 294.3L0.0 294.3Z" fill="#646464"/></g><g clip-path="url(#stg)"><rect x="0" y="0" width="592.0" height="296.0" fill="url(#dots)"/></g></g>
<g transform="translate(165.0,1468.8)" clip-path="url(#mc)"><use href="#land" fill="none" stroke="#000" stroke-width="1.3" stroke-linejoin="round"/></g>
<rect x="165.0" y="1468.8" width="592.0" height="296.0" fill="none" stroke="#444" stroke-width="1.5"/>
<path d="M181.4 1459.3V1468.8M181.4 1764.8V1774.3M230.8 1459.3V1468.8M230.8 1764.8V1774.3M280.1 1459.3V1468.8M280.1 1764.8V1774.3M329.4 1459.3V1468.8M329.4 1764.8V1774.3M378.8 1459.3V1468.8M378.8 1764.8V1774.3M428.1 1459.3V1468.8M428.1 1764.8V1774.3M477.4 1459.3V1468.8M477.4 1764.8V1774.3M526.8 1459.3V1468.8M526.8 1764.8V1774.3M576.1 1459.3V1468.8M576.1 1764.8V1774.3M625.4 1459.3V1468.8M625.4 1764.8V1774.3M674.8 1459.3V1468.8M674.8 1764.8V1774.3M724.1 1459.3V1468.8M724.1 1764.8V1774.3M155.5 1764.8H165.0M757.0 1764.8H766.5M155.5 1715.5H165.0M757.0 1715.5H766.5M155.5 1666.1H165.0M757.0 1666.1H766.5M155.5 1616.8H165.0M757.0 1616.8H766.5M155.5 1567.5H165.0M757.0 1567.5H766.5M155.5 1518.1H165.0M757.0 1518.1H766.5M155.5 1468.8H165.0M757.0 1468.8H766.5" stroke="#444" stroke-width="1.1" fill="none"/>
<path d="M165.0 1463.8V1468.8M165.0 1764.8V1769.8M197.9 1463.8V1468.8M197.9 1764.8V1769.8M214.3 1463.8V1468.8M214.3 1764.8V1769.8M247.2 1463.8V1468.8M247.2 1764.8V1769.8M263.7 1463.8V1468.8M263.7 1764.8V1769.8M296.6 1463.8V1468.8M296.6 1764.8V1769.8M313.0 1463.8V1468.8M313.0 1764.8V1769.8M345.9 1463.8V1468.8M345.9 1764.8V1769.8M362.3 1463.8V1468.8M362.3 1764.8V1769.8M395.2 1463.8V1468.8M395.2 1764.8V1769.8M411.7 1463.8V1468.8M411.7 1764.8V1769.8M444.5 1463.8V1468.8M444.5 1764.8V1769.8M461.0 1463.8V1468.8M461.0 1764.8V1769.8M493.9 1463.8V1468.8M493.9 1764.8V1769.8M510.3 1463.8V1468.8M510.3 1764.8V1769.8M543.2 1463.8V1468.8M543.2 1764.8V1769.8M559.7 1463.8V1468.8M559.7 1764.8V1769.8M592.5 1463.8V1468.8M592.5 1764.8V1769.8M609.0 1463.8V1468.8M609.0 1764.8V1769.8M641.9 1463.8V1468.8M641.9 1764.8V1769.8M658.3 1463.8V1468.8M658.3 1764.8V1769.8M691.2 1463.8V1468.8M691.2 1764.8V1769.8M707.7 1463.8V1468.8M707.7 1764.8V1769.8M740.5 1463.8V1468.8M740.5 1764.8V1769.8M757.0 1463.8V1468.8M757.0 1764.8V1769.8M160.0 1748.3H165.0M757.0 1748.3H762.0M160.0 1731.9H165.0M757.0 1731.9H762.0M160.0 1699.0H165.0M757.0 1699.0H762.0M160.0 1682.6H165.0M757.0 1682.6H762.0M160.0 1649.7H165.0M757.0 1649.7H762.0M160.0 1633.2H165.0M757.0 1633.2H762.0M160.0 1600.4H165.0M757.0 1600.4H762.0M160.0 1583.9H165.0M757.0 1583.9H762.0M160.0 1551.0H165.0M757.0 1551.0H762.0M160.0 1534.6H165.0M757.0 1534.6H762.0M160.0 1501.7H165.0M757.0 1501.7H762.0M160.0 1485.2H165.0M757.0 1485.2H762.0" stroke="#777" stroke-width="1" fill="none"/>
<text x="181.4" y="1802.6" font-size="19" text-anchor="middle" font-family="Liberation Sans, sans-serif">60W</text>
<text x="230.8" y="1802.6" font-size="19" text-anchor="middle" font-family="Liberation Sans, sans-serif">30W</text>
<text x="280.1" y="1802.6" font-size="19" text-anchor="middle" font-family="Liberation Sans, sans-serif">0</text>
<text x="329.4" y="1802.6" font-size="19" text-anchor="middle" font-family="Liberation Sans, sans-serif">30E</text>
<text x="378.8" y="1802.6" font-size="19" text-anchor="middle" font-family="Liberation Sans, sans-serif">60E</text>
<text x="428.1" y="1802.6" font-size="19" text-anchor="middle" font-family="Liberation Sans, sans-serif">90E</text>
<text x="477.4" y="1802.6" font-size="19" text-anchor="middle" font-family="Liberation Sans, sans-serif">120E</text>
<text x="526.8" y="1802.6" font-size="19" text-anchor="middle" font-family="Liberation Sans, sans-serif">150E</text>
<text x="576.1" y="1802.6" font-size="19" text-anchor="middle" font-family="Liberation Sans, sans-serif">180</text>
<text x="625.4" y="1802.6" font-size="19" text-anchor="middle" font-family="Liberation Sans, sans-serif">150W</text>
<text x="674.8" y="1802.6" font-size="19" text-anchor="middle" font-family="Liberation Sans, sans-serif">120W</text>
<text x="724.1" y="1802.6" font-size="19" text-anchor="middle" font-family="Liberation Sans, sans-serif">90W</text>
<text x="141.4" y="1475.6" font-size="19" text-anchor="end" font-family="Liberation Sans, sans-serif">90N</text>
<text x="141.4" y="1524.9" font-size="19" text-anchor="end" font-family="Liberation Sans, sans-serif">60N</text>
<text x="141.4" y="1574.3" font-size="19" text-anchor="end" font-family="Liberation Sans, sans-serif">30N</text>
<text x="141.4" y="1623.6" font-size="19" text-anchor="end" font-family="Liberation Sans, sans-serif">0</text>
<text x="141.4" y="1672.9" font-size="19" text-anchor="end" font-family="Liberation Sans, sans-serif">30S</text>
<text x="141.4" y="1722.3" font-size="19" text-anchor="end" font-family="Liberation Sans, sans-serif">60S</text>
<text x="141.4" y="1771.6" font-size="19" text-anchor="end" font-family="Liberation Sans, sans-serif">90S</text>
<text x="165.0" y="1447.6" font-size="27.1" font-family="Liberation Sans, sans-serif">g) NOAA 20CR SLP trend (Pa/dec) : 1973-2012</text>
<rect x="792.7" y="1474.90" width="35" height="20.20" fill="#FFB3B3" stroke="#000" stroke-opacity="0.55" stroke-width="0.8"/>
<rect x="792.7" y="1495.10" width="35" height="20.20" fill="#CD1010" stroke="#000" stroke-opacity="0.55" stroke-width="0.8"/>
<rect x="792.7" y="1515.30" width="35" height="20.20" fill="#FA0505" stroke="#000" stroke-opacity="0.55" stroke-width="0.8"/>
<rect x="792.7" y="1535.50" width="35" height="20.20" fill="#FF5500" stroke="#000" stroke-opacity="0.55" stroke-width="0.8"/>
<rect x="792.7" y="1555.70" width="35" height="20.20" fill="#FFA00A" stroke="#000" stroke-opacity="0.55" stroke-width="0.8"/>
<rect x="792.7" y="1575.90" width="35" height="20.20" fill="#FFD030" stroke="#000" stroke-opacity="0.55" stroke-width="0.8"/>
<rect x="792.7" y="1596.10" width="35" height="20.20" fill="#FFF59B" stroke="#000" stroke-opacity="0.55" stroke-width="0.8"/>
<rect x="792.7" y="1616.30" width="35" height="20.20" fill="#B4DCF5" stroke="#000" stroke-opacity="0.55" stroke-width="0.8"/>
<rect x="792.7" y="1636.50" width="35" height="20.20" fill="#5AC0F5" stroke="#000" stroke-opacity="0.55" stroke-width="0.8"/>
<rect x="792.7" y="1656.70" width="35" height="20.20" fill="#0AAFFA" stroke="#000" stroke-opacity="0.55" stroke-width="0.8"/>
<rect x="792.7" y="1676.90" width="35" height="20.20" fill="#2882F5" stroke="#000" stroke-opacity="0.55" stroke-width="0.8"/>
<rect x="792.7" y="1697.10" width="35" height="20.20" fill="#3C5AD7" stroke="#000" stroke-opacity="0.55" stroke-width="0.8"/>
<rect x="792.7" y="1717.30" width="35" height="20.20" fill="#0A05F5" stroke="#000" stroke-opacity="0.55" stroke-width="0.8"/>
<rect x="792.7" y="1737.50" width="35" height="20.20" fill="#8A2BE2" stroke="#000" stroke-opacity="0.55" stroke-width="0.8"/>
<text x="841.2" y="1501.9" font-size="19" font-family="Liberation Sans, sans-serif">180</text>
<text x="841.2" y="1542.3" font-size="19" font-family="Liberation Sans, sans-serif">120</text>
<text x="841.2" y="1582.7" font-size="19" font-family="Liberation Sans, sans-serif">60</text>
<text x="841.2" y="1623.1" font-size="19" font-family="Liberation Sans, sans-serif">0</text>
<text x="837.7" y="1663.5" font-size="19" font-family="Liberation Sans, sans-serif">-60</text>
<text x="837.7" y="1703.9" font-size="19" font-family="Liberation Sans, sans-serif">-120</text>
<text x="837.7" y="1744.3" font-size="19" font-family="Liberation Sans, sans-serif">-180</text>
<rect x="214.3" y="1649.7" width="296.0" height="41.1" fill="none" stroke="#000" stroke-width="4"/>
<g transform="translate(998.1,1468.8)" clip-path="url(#mc)"><g filter="url(#fh)"><rect x="-60" y="-60" width="712.0" height="416.0" fill="#818181"/><rect x="-65.8" y="-65.8" width="723.5" height="85.5" fill="#898989"/><ellipse cx="115.1" cy="32.9" rx="98.7" ry="19.7" fill="#757575"/><ellipse cx="707.1" cy="32.9" rx="98.7" ry="19.7" fill="#757575"/><ellipse cx="345.3" cy="46.0" rx="82.2" ry="23.0" fill="#737373"/><ellipse cx="49.3" cy="69.1" rx="49.3" ry="13.2" fill="#757575"/><ellipse cx="641.3" cy="69.1" rx="49.3" ry="13.2" fill="#757575"/><ellipse cx="41.1" cy="54.3" rx="19.7" ry="4.9" fill="#646464"/><ellipse cx="78.9" cy="49.3" rx="19.7" ry="3.3" fill="#646464"/><ellipse cx="103.6" cy="19.7" rx="11.5" ry="4.1" fill="#5b5b5b"/><ellipse cx="172.7" cy="90.4" rx="62.5" ry="19.7" fill="#8a8a8a"/><ellipse cx="77.3" cy="95.4" rx="21.4" ry="9.9" fill="#999999"/><ellipse cx="75.6" cy="97.0" rx="13.2" ry="5.8" fill="#adadad"/><ellipse cx="8.2" cy="88.8" rx="8.2" ry="6.6" fill="#a0a0a0"/><ellipse cx="600.2" cy="88.8" rx="8.2" ry="6.6" fill="#a0a0a0"/><ellipse cx="46.0" cy="125.0" rx="46.0" ry="9.0" fill="#626262"/><ellipse cx="638.0" cy="125.0" rx="46.0" ry="9.0" fill="#626262"/><ellipse cx="83.9" cy="115.1" rx="4.9" ry="4.9" fill="#373737"/><ellipse cx="41.1" cy="128.3" rx="24.7" ry="4.1" fill="#545454"/><ellipse cx="32.9" cy="156.2" rx="36.2" ry="19.7" fill="#898989"/><ellipse cx="624.9" cy="156.2" rx="36.2" ry="19.7" fill="#898989"/><ellipse cx="65.8" cy="194.0" rx="49.3" ry="13.2" fill="#878787"/><ellipse cx="123.3" cy="158.7" rx="13.2" ry="14.8" fill="#5b5b5b" transform="rotate(45 123.3 158.7)"/><ellipse cx="123.3" cy="207.2" rx="24.7" ry="4.9" fill="#575757"/><ellipse cx="180.9" cy="209.7" rx="32.9" ry="3.6" fill="#626262"/><ellipse cx="100.3" cy="185.8" rx="42.8" ry="11.5" fill="#a4a4a4" transform="rotate(12 100.3 185.8)"/><ellipse cx="110.2" cy="187.5" rx="23.0" ry="11.5" fill="#b6b6b6"/><ellipse cx="126.6" cy="189.9" rx="11.5" ry="8.2" fill="#d0d0d0"/><ellipse cx="128.3" cy="189.9" rx="7.4" ry="5.8" fill="#e6e6e6"/><ellipse cx="246.7" cy="162.8" rx="59.2" ry="18.1" fill="#9d9d9d"/><ellipse cx="246.7" cy="162.8" rx="54.3" ry="15.6" fill="#adadad"/><ellipse cx="273.0" cy="159.5" rx="26.3" ry="10.7" fill="#bfbfbf"/><ellipse cx="238.4" cy="128.3" rx="36.2" ry="16.4" fill="#757575"/><ellipse cx="213.8" cy="194.0" rx="82.2" ry="11.5" fill="#898989"/><path d="M41.1 253.2L49.3 246.7L82.2 233.5L115.1 225.3L164.4 223.6L230.2 222.0L304.2 221.2L361.8 218.7L427.5 217.1L493.3 212.9L559.1 210.5L608.4 213.8L608.4 243.4L559.1 242.5L493.3 244.2L427.5 245.0L361.8 244.2L304.2 241.7L230.2 243.4L164.4 246.7L115.1 248.3L82.2 249.9Z" fill="#9d9d9d"/><path d="M65.8 246.7L98.7 233.5L131.6 227.7L180.9 226.1L230.2 224.5L304.2 223.6L361.8 221.2L427.5 220.3L493.3 215.4L559.1 212.9L608.4 217.1L608.4 241.7L559.1 240.9L493.3 242.5L427.5 243.4L361.8 242.5L304.2 239.3L230.2 240.9L164.4 244.2L115.1 245.8Z" fill="#afafaf"/><path d="M123.3 231.9L180.9 228.6L230.2 226.9L304.2 225.3L361.8 223.6L427.5 223.6L493.3 218.7L559.1 215.4L600.2 218.7L600.2 239.3L559.1 239.3L493.3 240.1L427.5 240.9L361.8 240.1L304.2 236.8L230.2 237.6L164.4 240.1L123.3 238.4Z" fill="#c1c1c1"/><ellipse cx="361.8" cy="231.9" rx="74.0" ry="5.8" fill="#d1d1d1"/><ellipse cx="496.6" cy="230.2" rx="92.1" ry="9.0" fill="#d1d1d1"/><ellipse cx="-95.4" cy="230.2" rx="92.1" ry="9.0" fill="#d1d1d1"/><ellipse cx="545.9" cy="226.1" rx="47.7" ry="9.0" fill="#e4e4e4"/><ellipse cx="-46.0" cy="226.1" rx="47.7" ry="9.0" fill="#e4e4e4"/><ellipse cx="498.3" cy="228.6" rx="32.9" ry="6.6" fill="#e4e4e4"/><ellipse cx="497.4" cy="228.6" rx="17.3" ry="4.3" fill="#f8f8f8"/><path d="M-65.8 247.5L657.8 247.5L657.8 249.9L-65.8 249.9Z" fill="#898989"/><path d="M-65.8 249.9L657.8 249.9L657.8 259.0L-65.8 259.0Z" fill="#717171"/><ellipse cx="427.5" cy="254.9" rx="98.7" ry="4.1" fill="#575757"/><ellipse cx="567.3" cy="253.2" rx="36.2" ry="4.9" fill="#545454"/><ellipse cx="-24.7" cy="253.2" rx="36.2" ry="4.9" fill="#545454"/><path d="M-65.8 259.0L657.8 259.0L657.8 266.4L-65.8 266.4Z" fill="#8e8e8e"/><ellipse cx="421.0" cy="267.2" rx="31.2" ry="5.8" fill="#b6b6b6"/><ellipse cx="421.0" cy="267.2" rx="19.7" ry="3.3" fill="#d1d1d1"/><ellipse cx="41.1" cy="271.3" rx="28.0" ry="4.9" fill="#adadad"/><ellipse cx="213.8" cy="262.3" rx="65.8" ry="3.0" fill="#a0a0a0"/><ellipse cx="493.3" cy="263.1" rx="65.8" ry="3.3" fill="#a0a0a0"/><path d="M-65.8 274.6L657.8 274.6L657.8 284.5L-65.8 284.5Z" fill="#8c8c8c"/><path d="M-65.8 284.5L657.8 284.5L657.8 361.8L-65.8 361.8Z" fill="#757575"/><ellipse cx="180.9" cy="279.5" rx="98.7" ry="4.1" fill="#9b9b9b"/><ellipse cx="575.5" cy="277.9" rx="19.7" ry="11.5" fill="#5b5b5b"/><ellipse cx="-16.4" cy="277.9" rx="19.7" ry="11.5" fill="#5b5b5b"/><ellipse cx="386.4" cy="85.5" rx="52.6" ry="24.7" fill="#737373"/><ellipse cx="381.5" cy="83.9" rx="26.3" ry="13.2" fill="#626262"/><ellipse cx="435.8" cy="78.9" rx="13.2" ry="5.8" fill="#616161"/><ellipse cx="468.7" cy="78.9" rx="23.0" ry="26.3" fill="#8a8a8a"/><ellipse cx="437.4" cy="57.6" rx="29.6" ry="4.9" fill="#9b9b9b"/><ellipse cx="452.2" cy="59.2" rx="14.8" ry="2.5" fill="#a8a8a8"/><ellipse cx="407.8" cy="144.7" rx="74.0" ry="23.0" fill="#9b9b9b"/><ellipse cx="407.8" cy="146.4" rx="47.7" ry="18.1" fill="#adadad"/><ellipse cx="404.5" cy="148.0" rx="21.4" ry="12.3" fill="#bfbfbf"/><ellipse cx="405.3" cy="148.8" rx="9.9" ry="6.6" fill="#d3d3d3"/><ellipse cx="518.0" cy="148.0" rx="54.3" ry="14.8" fill="#757575"/><ellipse cx="444.0" cy="174.3" rx="31.2" ry="7.4" fill="#737373"/><ellipse cx="416.0" cy="203.9" rx="26.3" ry="7.4" fill="#737373"/><ellipse cx="539.4" cy="187.5" rx="55.9" ry="19.7" fill="#9d9d9d"/><ellipse cx="-52.6" cy="187.5" rx="55.9" ry="19.7" fill="#9d9d9d"/><ellipse cx="539.4" cy="187.5" rx="51.0" ry="16.4" fill="#adadad"/><ellipse cx="-52.6" cy="187.5" rx="51.0" ry="16.4" fill="#adadad"/><ellipse cx="370.0" cy="176.0" rx="21.4" ry="11.5" fill="#adadad"/><ellipse cx="368.3" cy="174.3" rx="11.5" ry="8.2" fill="#c5c5c5"/><ellipse cx="444.0" cy="194.0" rx="46.0" ry="14.8" fill="#9b9b9b" transform="rotate(25 444.0 194.0)"/><ellipse cx="468.7" cy="115.1" rx="32.9" ry="13.2" fill="#9b9b9b"/><ellipse cx="580.5" cy="115.1" rx="9.9" ry="6.6" fill="#5f5f5f"/><ellipse cx="-11.5" cy="115.1" rx="9.9" ry="6.6" fill="#5f5f5f"/></g><g clip-path="url(#sth)"><rect x="0" y="0" width="592.0" height="296.0" fill="url(#dots)"/></g></g>
<g transform="translate(998.1,1468.8)" clip-path="url(#mc)"><use href="#land" fill="none" stroke="#000" stroke-width="1.3" stroke-linejoin="round"/></g>
<g transform="translate(998.1,1468.8)" clip-path="url(#mc)"><path fill="#000" d="M27.0 10.1L16.8 15.7L21.1 11.5L13.5 11.5L13.5 8.8L21.1 8.8L16.8 4.6ZM45.6 10.1L35.4 15.7L39.7 11.5L32.1 11.5L32.1 8.8L39.7 8.8L35.4 4.6ZM89.1 18.1L95.9 10.4L93.6 15.1L99.8 12.8L100.7 15.2L94.5 17.4L99.2 19.5ZM217.3 14.3L205.7 20.6L210.6 15.9L202.1 15.9L202.1 12.8L210.6 12.8L205.7 8.1ZM235.9 14.3L224.3 20.6L229.2 15.9L220.7 15.9L220.7 12.8L229.2 12.8L224.3 8.1ZM290.9 16.9L280.6 22.4L284.9 18.2L277.3 18.2L277.3 15.5L284.9 15.5L280.6 11.3ZM306.9 18.6L297.9 23.4L301.7 19.8L295.1 19.8L295.1 17.3L301.7 17.3L297.9 13.7ZM14.3 101.0L4.1 99.8L9.3 99.0L5.2 96.2L6.7 94.1L10.7 96.9L9.7 91.8ZM0.8 113.4L7.1 121.4L2.9 118.3L3.8 123.1L1.3 123.6L0.5 118.7L-2.4 123.1ZM16.2 120.7L21.5 112.0L20.1 117.0L23.7 114.9L25.0 117.1L21.3 119.2L26.4 120.4ZM52.4 117.5L61.4 112.6L57.6 116.3L62.5 116.3L62.5 118.8L57.6 118.8L61.4 122.4ZM70.5 107.9L80.6 106.4L75.8 108.5L82.1 110.7L81.2 113.1L75.0 110.8L77.3 115.5ZM93.9 105.7L103.7 108.6L98.5 108.5L103.1 113.2L101.4 115.0L96.7 110.3L96.8 115.5ZM90.0 125.1L99.0 120.3L95.2 123.9L99.4 123.9L99.4 126.4L95.2 126.4L99.0 130.0ZM68.5 122.6L78.3 125.5L73.1 125.4L77.8 130.1L76.0 131.9L71.3 127.2L71.4 132.4ZM115.7 110.7L125.9 111.0L120.8 112.3L125.1 114.7L123.8 116.9L119.5 114.4L121.0 119.4ZM130.5 118.3L140.6 116.8L135.8 118.9L140.5 120.6L139.6 122.9L135.0 121.3L137.3 125.9ZM10.1 128.8L17.7 135.6L13.0 133.3L14.7 137.9L12.4 138.8L10.7 134.1L8.6 138.9ZM35.9 136.1L45.6 132.9L41.3 135.8L45.4 136.5L45.0 139.0L40.8 138.3L43.9 142.5ZM52.7 138.6L62.8 137.1L58.0 139.2L62.7 140.9L61.8 143.2L57.2 141.6L59.5 146.2ZM67.6 139.9L77.8 140.2L72.7 141.4L78.4 144.7L77.2 146.9L71.5 143.6L72.9 148.6ZM86.9 141.3L97.0 139.8L92.2 141.9L96.2 143.3L95.3 145.7L91.3 144.2L93.7 148.9ZM12.4 152.1L19.2 144.5L16.9 149.1L20.9 147.7L21.8 150.0L17.8 151.5L22.6 153.6ZM29.1 158.1L37.2 151.7L34.1 155.9L38.2 155.2L38.7 157.7L34.5 158.4L38.9 161.3ZM52.8 154.7L62.5 151.5L58.2 154.4L62.3 155.1L61.9 157.6L57.7 156.9L60.8 161.1ZM83.7 154.5L92.4 159.9L87.4 158.4L89.8 162.7L87.7 164.0L85.2 159.7L84.0 164.8ZM67.9 164.0L78.0 162.5L73.3 164.6L77.9 166.3L77.0 168.6L72.4 166.9L74.7 171.6ZM122.0 155.4L106.1 157.7L113.7 154.3L103.9 150.7L105.2 147.2L115.0 150.8L111.3 143.3ZM134.0 160.0L117.8 150.0L127.3 152.7L121.1 142.1L124.9 139.9L131.1 150.5L133.5 141.0ZM133.6 153.9L126.6 141.0L131.9 146.4L131.9 137.0L135.3 137.0L135.3 146.4L140.5 141.0ZM137.6 168.7L128.8 160.9L134.3 163.5L131.7 156.4L134.2 155.5L136.8 162.6L139.3 157.1ZM109.1 163.5L121.5 171.1L114.2 169.1L119.0 177.3L116.0 178.9L111.3 170.8L109.5 178.1ZM115.8 170.4L125.6 179.1L119.5 176.2L122.4 184.2L119.5 185.2L116.6 177.2L113.8 183.4ZM76.3 173.7L89.4 174.1L82.8 175.8L90.2 180.0L88.7 182.7L81.3 178.4L83.1 184.9ZM89.8 185.6L102.9 185.9L96.4 187.6L103.7 191.9L102.2 194.5L94.8 190.2L96.7 196.8ZM108.6 179.6L122.3 188.1L114.3 185.8L119.5 194.8L116.3 196.7L111.1 187.7L109.1 195.7ZM128.3 173.5L140.1 188.4L132.1 182.6L134.3 194.7L129.9 195.5L127.8 183.4L122.3 191.5ZM136.7 181.1L141.3 194.9L137.1 188.7L135.5 198.0L132.1 197.4L133.8 188.1L127.7 192.5ZM111.8 198.8L124.0 203.6L117.3 202.9L122.7 209.5L120.4 211.4L114.9 204.9L114.4 211.6ZM127.0 194.2L139.0 204.8L131.6 201.2L135.1 211.0L131.6 212.3L128.1 202.5L124.7 210.1ZM131.7 198.6L143.4 207.3L136.4 204.7L140.4 213.2L137.3 214.7L133.3 206.1L130.8 213.2ZM143.9 206.1L157.0 212.7L149.6 211.3L155.0 219.0L152.3 221.0L146.8 213.2L145.6 220.6ZM156.8 187.6L156.5 197.9L155.3 192.8L152.0 198.5L149.8 197.3L153.1 191.5L148.1 193.0ZM180.9 189.4L185.8 198.4L182.2 194.6L182.2 199.5L179.7 199.5L179.7 194.6L176.1 198.4ZM202.9 188.5L207.8 197.5L204.2 193.8L204.2 200.4L201.7 200.4L201.7 193.8L198.1 197.5ZM213.0 176.2L220.7 182.9L216.0 180.6L217.7 185.3L215.3 186.1L213.6 181.5L211.5 186.3ZM198.9 157.7L207.6 165.4L202.2 162.8L204.8 169.9L202.3 170.8L199.7 163.7L197.2 169.2ZM188.4 146.3L194.7 154.4L190.5 151.3L191.6 157.8L189.2 158.2L188.0 151.7L185.1 156.0ZM175.0 157.9L183.7 163.3L178.7 161.8L181.2 166.1L179.0 167.3L176.5 163.1L175.3 168.1ZM203.9 149.0L214.1 149.3L209.0 150.5L212.7 152.6L211.5 154.8L207.8 152.7L209.3 157.7ZM221.5 145.7L229.1 152.5L224.4 150.2L226.1 154.8L223.8 155.7L222.1 151.0L220.0 155.8ZM191.1 126.0L190.7 137.7L189.3 131.9L185.5 138.4L183.1 137.1L186.9 130.5L181.1 132.1ZM207.1 122.4L206.9 132.6L205.6 127.6L203.2 131.8L201.0 130.6L203.5 126.3L198.4 127.8ZM187.2 110.9L197.2 112.9L192.0 113.3L195.8 116.4L194.2 118.3L190.4 115.2L191.0 120.4ZM175.4 115.0L166.7 109.7L171.7 111.1L168.4 105.4L170.6 104.1L173.9 109.9L175.1 104.8ZM223.1 104.3L221.0 114.3L220.7 109.1L217.5 112.9L215.6 111.3L218.8 107.5L213.6 108.1ZM234.9 97.5L232.9 107.6L232.5 102.4L229.4 106.1L227.4 104.5L230.6 100.7L225.4 101.3ZM217.4 126.1L227.7 126.4L222.6 127.7L226.2 129.8L225.0 131.9L221.3 129.8L222.8 134.8ZM252.0 117.0L253.5 127.1L251.4 122.3L249.7 126.9L247.4 126.1L249.0 121.4L244.4 123.8ZM271.3 122.8L265.9 131.5L267.4 126.4L263.7 128.6L262.5 126.4L266.1 124.3L261.0 123.0ZM244.4 145.0L241.2 135.3L244.1 139.6L244.8 135.5L247.2 135.9L246.5 140.1L250.7 137.0ZM121.7 77.8L118.8 87.6L118.9 82.4L115.9 85.4L114.1 83.6L117.1 80.6L111.9 80.7ZM132.2 92.7L141.7 96.5L136.5 95.9L139.3 99.2L137.3 100.8L134.6 97.5L134.3 102.8ZM213.9 64.3L220.2 72.3L216.0 69.2L216.9 74.1L214.4 74.5L213.5 69.7L210.7 74.0ZM181.3 42.0L190.8 45.8L185.6 45.2L188.3 48.4L186.4 50.0L183.7 46.8L183.3 52.0ZM196.5 48.8L206.0 52.5L200.8 52.0L203.5 55.2L201.6 56.8L198.9 53.6L198.6 58.8ZM162.7 40.6L171.7 35.7L167.9 39.3L172.1 39.3L172.1 41.8L167.9 41.8L171.7 45.4ZM234.1 162.2L244.9 166.5L239.0 165.9L243.8 171.7L241.7 173.4L236.9 167.6L236.4 173.7ZM250.2 151.2L261.6 153.6L255.6 154.0L261.4 158.9L259.7 160.9L253.9 156.1L254.5 162.1ZM248.5 166.4L259.9 168.8L253.9 169.2L259.7 174.1L258.0 176.2L252.2 171.3L252.8 177.3ZM267.1 163.0L278.5 165.4L272.5 165.8L278.3 170.7L276.6 172.8L270.8 167.9L271.4 173.9ZM256.5 150.6L266.5 152.7L261.3 153.0L265.1 156.2L263.5 158.1L259.7 154.9L260.3 160.1ZM183.5 230.0L169.3 237.6L175.3 231.8L164.9 231.8L164.9 228.1L175.3 228.1L169.3 222.3ZM202.1 230.0L187.9 237.6L193.9 231.8L183.5 231.8L183.5 228.1L193.9 228.1L187.9 222.3ZM282.2 220.2L269.1 219.9L275.7 218.2L268.3 213.9L269.8 211.3L277.2 215.6L275.3 209.0ZM301.8 219.8L290.1 219.5L295.9 218.0L289.4 214.2L290.7 211.9L297.3 215.7L295.7 209.9ZM295.1 233.3L283.5 239.6L288.4 234.9L279.9 234.9L279.9 231.8L288.4 231.8L283.5 227.1ZM0.3 172.5L9.3 167.6L5.5 171.2L9.8 171.2L9.8 173.7L5.5 173.7L9.3 177.3ZM15.6 171.6L25.3 168.4L21.0 171.3L25.1 172.1L24.7 174.5L20.5 173.8L23.6 178.0ZM31.0 179.3L41.2 177.8L36.4 179.9L40.4 181.4L39.5 183.7L35.5 182.3L37.8 187.0ZM4.0 189.3L10.8 181.7L8.5 186.3L12.4 184.9L13.3 187.2L9.3 188.7L14.1 190.8ZM17.2 196.1L26.2 191.3L22.5 194.9L26.7 194.9L26.7 197.4L22.5 197.4L26.2 201.0ZM34.5 193.6L44.7 193.9L39.6 195.1L43.9 197.6L42.6 199.8L38.4 197.3L39.8 202.3ZM2.1 198.7L10.1 192.3L7.0 196.5L11.2 195.8L11.6 198.2L7.4 199.0L11.8 201.9ZM31.2 218.9L21.4 216.0L26.6 216.1L22.0 211.4L23.7 209.7L28.4 214.4L28.3 209.1ZM43.5 252.6L32.0 254.3L37.5 251.8L30.4 249.2L31.3 246.7L38.4 249.3L35.8 243.8ZM10.9 249.6L1.2 252.8L5.5 249.9L-1.0 248.8L-0.6 246.3L6.0 247.5L2.9 243.2ZM8.5 264.3L19.6 260.6L14.6 264.0L22.1 265.3L21.6 268.0L14.2 266.7L17.7 271.6ZM35.9 266.6L47.5 264.8L42.0 267.3L49.1 269.9L48.1 272.4L41.0 269.9L43.7 275.3ZM50.8 269.4L61.9 265.7L56.9 269.1L64.4 270.4L63.9 273.1L56.5 271.7L60.0 276.6ZM82.0 273.9L93.6 267.7L88.7 272.4L97.2 272.4L97.2 275.5L88.7 275.5L93.6 280.2ZM97.2 273.9L108.8 267.7L103.9 272.4L112.4 272.4L112.4 275.5L103.9 275.5L108.8 280.2ZM109.1 273.9L120.6 267.7L115.8 272.4L124.3 272.4L124.3 275.5L115.8 275.5L120.6 280.2ZM127.7 273.9L139.2 267.7L134.4 272.4L142.9 272.4L142.9 275.5L134.4 275.5L139.2 280.2ZM146.3 273.9L157.8 267.7L153.0 272.4L161.5 272.4L161.5 275.5L153.0 275.5L157.8 280.2ZM163.2 273.9L174.7 267.7L169.9 272.4L178.4 272.4L178.4 275.5L169.9 275.5L174.7 280.2ZM182.6 262.5L192.8 262.8L187.7 264.0L193.4 267.4L192.2 269.5L186.5 266.2L187.9 271.2ZM200.1 261.7L210.1 263.7L204.9 264.1L209.9 268.3L208.3 270.2L203.3 266.0L203.8 271.2ZM217.6 260.5L227.7 262.6L222.4 262.9L226.2 266.1L224.6 268.0L220.8 264.8L221.4 270.0ZM238.8 260.2L248.3 263.9L243.1 263.4L245.8 266.6L243.9 268.2L241.2 265.0L240.8 270.2ZM222.7 248.2L232.8 246.7L228.1 248.8L234.3 251.1L233.4 253.5L227.2 251.2L229.5 255.9ZM165.7 257.0L176.0 251.5L171.7 255.7L179.2 255.7L179.2 258.4L171.7 258.4L176.0 262.6ZM255.3 272.2L265.6 266.7L261.3 270.9L268.9 270.9L268.9 273.6L261.3 273.6L265.6 277.8ZM273.9 272.2L284.2 266.7L279.9 270.9L287.5 270.9L287.5 273.6L279.9 273.6L284.2 277.8ZM292.7 269.4L303.7 265.7L298.8 269.1L306.2 270.4L305.7 273.1L298.3 271.7L301.8 276.6ZM18.2 289.2L9.2 294.0L13.0 290.4L8.8 290.4L8.8 287.9L13.0 287.9L9.2 284.3ZM38.0 289.2L26.5 295.4L31.3 290.7L22.8 290.7L22.8 287.6L31.3 287.6L26.5 282.9ZM56.6 289.2L45.1 295.4L49.9 290.7L41.4 290.7L41.4 287.6L49.9 287.6L45.1 282.9ZM75.2 289.2L63.7 295.4L68.5 290.7L60.0 290.7L60.0 287.6L68.5 287.6L63.7 282.9ZM93.8 289.2L82.3 295.4L87.1 290.7L78.6 290.7L78.6 287.6L87.1 287.6L82.3 282.9ZM110.7 289.2L99.2 295.4L104.0 290.7L95.5 290.7L95.5 287.6L104.0 287.6L99.2 282.9ZM120.9 289.2L109.3 295.4L114.2 290.7L105.7 290.7L105.7 287.6L114.2 287.6L109.3 282.9ZM139.5 289.2L127.9 295.4L132.8 290.7L124.3 290.7L124.3 287.6L132.8 287.6L127.9 282.9ZM158.1 289.2L146.5 295.4L151.4 290.7L142.9 290.7L142.9 287.6L151.4 287.6L146.5 282.9ZM228.3 280.7L218.0 286.3L222.3 282.1L214.8 282.1L214.8 279.3L222.3 279.3L218.0 275.1ZM246.9 280.7L236.6 286.3L240.9 282.1L233.4 282.1L233.4 279.3L240.9 279.3L236.6 275.1ZM310.2 16.9L299.9 22.4L304.2 18.2L296.7 18.2L296.7 15.5L304.2 15.5L299.9 11.3ZM324.6 20.3L315.6 25.1L319.3 21.5L312.7 21.5L312.7 19.0L319.3 19.0L315.6 15.4ZM359.1 22.6L345.2 27.2L351.5 22.9L342.2 21.3L342.7 18.0L352.1 19.6L347.7 13.5ZM387.0 28.3L374.6 32.5L380.2 28.7L371.8 27.2L372.3 24.2L380.7 25.7L376.7 20.2ZM485.2 5.0L476.2 9.9L480.0 6.3L475.1 6.3L475.1 3.8L480.0 3.8L476.2 0.2ZM503.8 5.0L494.8 9.9L498.6 6.3L493.7 6.3L493.7 3.8L498.6 3.8L494.8 0.2ZM382.1 64.2L375.8 56.1L380.0 59.2L379.1 54.4L381.6 53.9L382.4 58.8L385.3 54.4ZM471.0 65.2L459.5 62.8L465.5 62.4L459.7 57.5L461.5 55.5L467.3 60.3L466.7 54.3ZM454.6 53.1L445.9 47.7L450.9 49.2L448.8 45.5L451.0 44.3L453.1 48.0L454.3 42.9ZM474.9 38.8L481.7 31.1L479.4 35.8L483.3 34.4L484.2 36.7L480.2 38.2L485.0 40.3ZM488.4 40.5L495.2 32.8L492.9 37.5L496.9 36.1L497.7 38.4L493.7 39.9L498.5 42.0ZM359.2 94.2L364.6 85.5L363.1 90.6L368.8 87.2L370.1 89.4L364.3 92.7L369.4 94.0ZM372.3 101.9L377.5 91.5L376.4 97.4L382.6 93.1L384.2 95.3L378.0 99.6L383.9 100.6ZM386.2 87.5L391.6 78.8L390.1 83.8L395.9 80.5L397.1 82.6L391.4 86.0L396.5 87.2ZM401.4 87.7L409.2 77.2L406.8 83.5L414.5 79.9L415.8 82.7L408.1 86.3L414.5 88.5ZM505.5 97.4L505.8 87.1L507.1 92.2L509.5 88.0L511.7 89.2L509.2 93.5L514.2 92.0ZM508.2 108.7L510.2 98.7L510.6 103.9L513.7 100.1L515.7 101.7L512.5 105.5L517.7 104.9ZM526.3 72.9L516.8 69.2L522.0 69.7L519.3 66.5L521.2 64.9L523.9 68.1L524.3 62.9ZM523.0 82.5L526.8 73.0L526.2 78.2L529.5 75.5L531.1 77.4L527.8 80.1L533.1 80.4ZM532.2 98.9L540.2 92.5L537.1 96.7L541.2 96.0L541.7 98.5L537.5 99.2L541.9 102.1ZM442.4 116.7L449.2 109.1L446.9 113.7L451.5 112.1L452.4 114.4L447.7 116.1L452.5 118.2ZM456.6 122.9L461.1 113.8L460.1 118.9L464.1 116.1L465.6 118.2L461.5 121.0L466.7 121.8ZM469.0 113.5L471.9 103.7L471.8 108.9L475.3 105.4L477.0 107.2L473.5 110.7L478.8 110.6ZM483.6 116.2L488.2 107.0L487.2 112.2L491.2 109.3L492.6 111.4L488.6 114.2L493.8 115.0ZM440.6 131.9L445.2 122.7L444.2 127.9L449.6 124.1L451.1 126.1L445.6 129.9L450.8 130.7ZM336.8 129.9L346.9 128.4L342.1 130.5L348.3 132.7L347.5 135.1L341.2 132.8L343.6 137.5ZM374.4 128.9L384.6 129.2L379.6 130.4L385.3 133.8L384.0 135.9L378.3 132.6L379.8 137.6ZM396.5 138.1L412.5 137.1L404.7 139.9L414.1 144.3L412.5 147.6L403.1 143.2L406.1 151.0ZM428.5 157.7L438.7 158.0L433.7 159.2L439.4 162.5L438.2 164.7L432.4 161.4L433.9 166.4ZM497.5 135.8L507.0 139.6L501.8 139.0L506.1 144.1L504.1 145.7L499.9 140.6L499.6 145.8ZM522.0 128.4L530.7 133.8L525.7 132.3L529.0 138.1L526.9 139.3L523.5 133.6L522.3 138.7ZM348.1 163.9L359.0 168.2L353.0 167.6L357.9 173.4L355.8 175.1L350.9 169.3L350.5 175.3ZM359.4 166.6L371.6 171.5L364.9 170.8L370.4 177.3L368.0 179.3L362.6 172.8L362.1 179.5ZM364.0 177.8L377.5 183.2L370.0 182.5L376.1 189.7L373.5 191.9L367.4 184.6L366.9 192.1ZM380.7 173.7L391.2 178.9L385.3 177.8L389.6 184.0L387.4 185.5L383.0 179.4L382.1 185.3ZM381.9 186.5L393.7 192.4L387.0 191.1L391.9 198.1L389.4 199.9L384.5 192.9L383.5 199.6ZM405.8 178.4L415.6 181.4L410.4 181.2L415.0 185.9L413.3 187.7L408.6 183.0L408.7 188.2ZM301.1 168.4L309.8 173.7L304.8 172.3L306.9 175.9L304.7 177.2L302.6 173.5L301.4 178.6ZM487.7 164.3L495.4 171.1L490.7 168.8L492.4 173.4L490.0 174.3L488.3 169.6L486.2 174.4ZM502.9 162.6L510.6 169.4L505.9 167.1L507.6 171.7L505.2 172.6L503.6 168.0L501.5 172.7ZM521.5 162.6L529.2 169.4L524.5 167.1L526.2 171.7L523.8 172.6L522.2 168.0L520.1 172.7ZM535.1 164.3L542.7 171.1L538.0 168.8L539.7 173.4L537.4 174.3L535.7 169.6L533.6 174.4ZM552.2 171.8L559.2 179.3L554.8 176.5L556.5 182.9L554.1 183.6L552.3 177.2L549.8 181.8ZM568.1 174.2L574.4 182.3L570.2 179.2L571.1 184.0L568.6 184.4L567.7 179.6L564.8 183.9ZM531.7 178.4L541.7 184.6L535.9 182.9L539.7 189.5L537.3 190.8L533.6 184.3L532.1 190.1ZM582.4 182.9L590.1 189.7L585.4 187.4L587.1 192.0L584.7 192.9L583.0 188.3L580.9 193.0ZM480.4 193.2L489.1 200.9L483.7 198.3L486.3 205.4L483.7 206.3L481.2 199.2L478.7 204.7ZM328.8 189.7L333.7 198.7L330.0 194.9L330.0 199.2L327.5 199.2L327.5 194.9L323.9 198.7ZM310.2 196.5L315.1 205.5L311.4 201.7L311.4 205.9L308.9 205.9L308.9 201.7L305.3 205.5ZM300.5 220.2L290.4 221.6L295.2 219.5L289.0 217.3L289.8 214.9L296.1 217.2L293.7 212.5ZM320.8 220.2L310.7 221.6L315.5 219.5L309.3 217.3L310.1 214.9L316.4 217.2L314.0 212.5ZM336.1 221.8L325.9 223.3L330.7 221.2L324.5 219.0L325.4 216.6L331.6 218.9L329.3 214.2ZM323.7 233.3L310.9 240.3L316.3 235.0L306.8 235.0L306.8 231.7L316.3 231.7L310.9 226.4ZM350.8 233.3L335.4 241.7L341.8 235.4L330.5 235.4L330.5 231.3L341.8 231.3L335.4 225.0ZM385.5 223.4L370.9 224.3L378.0 221.8L369.5 217.8L370.9 214.7L379.5 218.7L376.8 211.7ZM426.4 221.0L411.9 223.1L418.8 220.1L409.9 216.8L411.1 213.6L419.9 216.9L416.7 210.1ZM440.8 222.4L427.8 224.3L434.0 221.6L426.0 218.6L427.0 215.8L435.0 218.7L432.1 212.6ZM420.9 232.5L406.2 238.8L412.6 233.6L402.2 232.7L402.6 229.0L412.9 229.9L407.5 223.6ZM438.7 236.7L423.3 245.1L429.8 238.8L418.4 238.8L418.4 234.7L429.8 234.7L423.3 228.4ZM394.6 212.7L384.6 215.0L389.2 212.5L384.5 211.3L385.1 208.8L389.9 210.1L387.1 205.7ZM537.5 228.5L519.5 234.5L527.6 229.0L515.5 226.8L516.2 222.5L528.3 224.6L522.6 216.7ZM542.7 218.4L526.8 216.5L535.0 215.2L526.4 209.2L528.6 206.2L537.1 212.2L535.5 204.0ZM553.5 234.6L534.6 235.7L543.8 232.5L532.7 227.3L534.5 223.3L545.7 228.5L542.2 219.4ZM561.3 223.5L545.4 221.6L553.6 220.3L545.0 214.3L547.2 211.3L555.7 217.2L554.1 209.1ZM570.5 238.0L551.5 239.1L560.7 235.9L549.6 230.7L551.5 226.7L562.6 231.9L559.1 222.8ZM580.9 223.0L566.4 221.3L573.9 220.1L566.1 214.7L568.1 211.9L575.8 217.3L574.4 209.9ZM586.9 238.8L567.9 238.3L577.4 235.9L566.8 229.8L569.0 225.9L579.6 232.1L577.0 222.7ZM595.6 239.7L579.5 239.2L587.6 237.2L578.6 232.0L580.4 228.8L589.4 234.0L587.2 226.0ZM329.7 252.8L344.4 246.5L338.0 251.7L348.4 252.6L348.0 256.3L337.7 255.4L343.1 261.7ZM348.3 252.8L363.0 246.5L356.6 251.7L367.0 252.6L366.7 256.3L356.3 255.4L361.7 261.7ZM367.3 252.9L381.4 246.8L375.3 251.8L385.2 252.6L384.8 256.2L374.9 255.3L380.1 261.3ZM386.3 253.8L399.7 248.0L393.9 252.7L403.3 253.5L403.0 256.9L393.6 256.1L398.5 261.8ZM403.2 253.8L416.7 248.0L410.8 252.7L420.2 253.5L419.9 256.9L410.5 256.1L415.4 261.8ZM420.6 254.6L433.3 249.1L427.8 253.7L436.7 254.4L436.4 257.6L427.5 256.9L432.2 262.3ZM439.6 254.7L451.7 249.5L446.4 253.7L454.9 254.5L454.6 257.5L446.2 256.8L450.6 261.9ZM456.9 255.6L468.3 250.6L463.4 254.7L471.4 255.4L471.1 258.2L463.1 257.5L467.3 262.4ZM476.0 256.4L486.7 251.8L482.0 255.6L489.6 256.3L489.3 259.0L481.8 258.3L485.7 262.9ZM521.6 249.5L535.0 243.7L529.2 248.5L538.6 249.3L538.3 252.7L528.9 251.9L533.8 257.6ZM538.5 251.2L551.9 245.4L546.1 250.2L555.5 251.0L555.2 254.4L545.8 253.5L550.7 259.2ZM556.3 251.1L571.0 244.8L564.6 250.0L575.0 250.9L574.7 254.6L564.3 253.7L569.7 260.0ZM575.0 248.6L590.3 243.6L583.4 248.2L593.7 250.0L593.0 253.7L582.8 251.9L587.6 258.6ZM518.2 263.8L531.1 256.8L525.7 262.1L535.1 262.1L535.1 265.5L525.7 265.5L531.1 270.7ZM538.5 263.8L551.4 256.8L546.0 262.1L555.4 262.1L555.4 265.5L546.0 265.5L551.4 270.7ZM559.6 265.5L571.2 259.2L566.4 264.0L574.9 264.0L574.9 267.0L566.4 267.0L571.2 271.7ZM574.0 270.0L584.8 265.3L580.1 269.1L587.6 269.8L587.4 272.5L579.9 271.8L583.8 276.4ZM495.2 268.0L505.4 268.3L500.4 269.5L504.6 272.0L503.4 274.2L499.1 271.7L500.6 276.7ZM508.7 269.7L519.0 270.0L513.9 271.2L518.2 273.7L516.9 275.9L512.6 273.4L514.1 278.4ZM293.4 273.1L303.1 269.8L298.7 272.7L303.6 273.6L303.1 276.0L298.3 275.2L301.4 279.4ZM306.8 275.6L317.1 270.1L312.8 274.3L320.3 274.3L320.3 277.0L312.8 277.0L317.1 281.2ZM325.4 275.6L335.7 270.1L331.4 274.3L338.9 274.3L338.9 277.0L331.4 277.0L335.7 281.2ZM349.8 264.6L360.0 264.9L354.9 266.2L359.2 268.6L357.9 270.8L353.7 268.3L355.1 273.3ZM375.7 268.0L366.0 271.2L370.4 268.3L366.2 267.6L366.6 265.1L370.8 265.9L367.7 261.6ZM418.0 269.0L429.2 275.9L422.7 274.1L426.9 281.5L424.3 283.0L420.0 275.6L418.4 282.2ZM435.2 266.3L446.9 275.0L439.8 272.3L443.8 280.9L440.8 282.3L436.8 273.7L434.3 280.9ZM457.3 275.6L470.2 268.7L464.8 273.9L474.2 273.9L474.2 277.3L464.8 277.3L470.2 282.6ZM400.5 274.8L410.7 275.1L405.7 276.3L409.9 278.8L408.7 280.9L404.4 278.5L405.9 283.5ZM380.2 277.4L390.3 275.9L385.5 278.0L389.5 279.5L388.6 281.8L384.6 280.4L387.0 285.0Z"/></g><rect x="1536.5" y="1468.8" width="53.6" height="72.5" fill="#fff"/><text x="1554.1" y="1489.8" font-size="17" font-family="Liberation Sans, sans-serif">.9</text><path d="M0.5 0L-0.19 0.44L0.08 0.075L-0.5 0.075L-0.5 -0.075L0.08 -0.075L-0.19 -0.44Z" fill="#000" transform="translate(1562.1 1513.8) scale(38)"/>
<rect x="998.1" y="1468.8" width="592.0" height="296.0" fill="none" stroke="#444" stroke-width="1.5"/>
<path d="M1014.5 1459.3V1468.8M1014.5 1764.8V1774.3M1063.9 1459.3V1468.8M1063.9 1764.8V1774.3M1113.2 1459.3V1468.8M1113.2 1764.8V1774.3M1162.5 1459.3V1468.8M1162.5 1764.8V1774.3M1211.9 1459.3V1468.8M1211.9 1764.8V1774.3M1261.2 1459.3V1468.8M1261.2 1764.8V1774.3M1310.5 1459.3V1468.8M1310.5 1764.8V1774.3M1359.9 1459.3V1468.8M1359.9 1764.8V1774.3M1409.2 1459.3V1468.8M1409.2 1764.8V1774.3M1458.5 1459.3V1468.8M1458.5 1764.8V1774.3M1507.9 1459.3V1468.8M1507.9 1764.8V1774.3M1557.2 1459.3V1468.8M1557.2 1764.8V1774.3M988.6 1764.8H998.1M1590.1 1764.8H1599.6M988.6 1715.5H998.1M1590.1 1715.5H1599.6M988.6 1666.1H998.1M1590.1 1666.1H1599.6M988.6 1616.8H998.1M1590.1 1616.8H1599.6M988.6 1567.5H998.1M1590.1 1567.5H1599.6M988.6 1518.1H998.1M1590.1 1518.1H1599.6M988.6 1468.8H998.1M1590.1 1468.8H1599.6" stroke="#444" stroke-width="1.1" fill="none"/>
<path d="M998.1 1463.8V1468.8M998.1 1764.8V1769.8M1031.0 1463.8V1468.8M1031.0 1764.8V1769.8M1047.4 1463.8V1468.8M1047.4 1764.8V1769.8M1080.3 1463.8V1468.8M1080.3 1764.8V1769.8M1096.8 1463.8V1468.8M1096.8 1764.8V1769.8M1129.7 1463.8V1468.8M1129.7 1764.8V1769.8M1146.1 1463.8V1468.8M1146.1 1764.8V1769.8M1179.0 1463.8V1468.8M1179.0 1764.8V1769.8M1195.4 1463.8V1468.8M1195.4 1764.8V1769.8M1228.3 1463.8V1468.8M1228.3 1764.8V1769.8M1244.8 1463.8V1468.8M1244.8 1764.8V1769.8M1277.6 1463.8V1468.8M1277.6 1764.8V1769.8M1294.1 1463.8V1468.8M1294.1 1764.8V1769.8M1327.0 1463.8V1468.8M1327.0 1764.8V1769.8M1343.4 1463.8V1468.8M1343.4 1764.8V1769.8M1376.3 1463.8V1468.8M1376.3 1764.8V1769.8M1392.8 1463.8V1468.8M1392.8 1764.8V1769.8M1425.6 1463.8V1468.8M1425.6 1764.8V1769.8M1442.1 1463.8V1468.8M1442.1 1764.8V1769.8M1475.0 1463.8V1468.8M1475.0 1764.8V1769.8M1491.4 1463.8V1468.8M1491.4 1764.8V1769.8M1524.3 1463.8V1468.8M1524.3 1764.8V1769.8M1540.8 1463.8V1468.8M1540.8 1764.8V1769.8M1573.6 1463.8V1468.8M1573.6 1764.8V1769.8M1590.1 1463.8V1468.8M1590.1 1764.8V1769.8M993.1 1748.3H998.1M1590.1 1748.3H1595.1M993.1 1731.9H998.1M1590.1 1731.9H1595.1M993.1 1699.0H998.1M1590.1 1699.0H1595.1M993.1 1682.6H998.1M1590.1 1682.6H1595.1M993.1 1649.7H998.1M1590.1 1649.7H1595.1M993.1 1633.2H998.1M1590.1 1633.2H1595.1M993.1 1600.4H998.1M1590.1 1600.4H1595.1M993.1 1583.9H998.1M1590.1 1583.9H1595.1M993.1 1551.0H998.1M1590.1 1551.0H1595.1M993.1 1534.6H998.1M1590.1 1534.6H1595.1M993.1 1501.7H998.1M1590.1 1501.7H1595.1M993.1 1485.2H998.1M1590.1 1485.2H1595.1" stroke="#777" stroke-width="1" fill="none"/>
<text x="1014.5" y="1802.6" font-size="19" text-anchor="middle" font-family="Liberation Sans, sans-serif">60W</text>
<text x="1063.9" y="1802.6" font-size="19" text-anchor="middle" font-family="Liberation Sans, sans-serif">30W</text>
<text x="1113.2" y="1802.6" font-size="19" text-anchor="middle" font-family="Liberation Sans, sans-serif">0</text>
<text x="1162.5" y="1802.6" font-size="19" text-anchor="middle" font-family="Liberation Sans, sans-serif">30E</text>
<text x="1211.9" y="1802.6" font-size="19" text-anchor="middle" font-family="Liberation Sans, sans-serif">60E</text>
<text x="1261.2" y="1802.6" font-size="19" text-anchor="middle" font-family="Liberation Sans, sans-serif">90E</text>
<text x="1310.5" y="1802.6" font-size="19" text-anchor="middle" font-family="Liberation Sans, sans-serif">120E</text>
<text x="1359.9" y="1802.6" font-size="19" text-anchor="middle" font-family="Liberation Sans, sans-serif">150E</text>
<text x="1409.2" y="1802.6" font-size="19" text-anchor="middle" font-family="Liberation Sans, sans-serif">180</text>
<text x="1458.5" y="1802.6" font-size="19" text-anchor="middle" font-family="Liberation Sans, sans-serif">150W</text>
<text x="1507.9" y="1802.6" font-size="19" text-anchor="middle" font-family="Liberation Sans, sans-serif">120W</text>
<text x="1557.2" y="1802.6" font-size="19" text-anchor="middle" font-family="Liberation Sans, sans-serif">90W</text>
<text x="974.5" y="1475.6" font-size="19" text-anchor="end" font-family="Liberation Sans, sans-serif">90N</text>
<text x="974.5" y="1524.9" font-size="19" text-anchor="end" font-family="Liberation Sans, sans-serif">60N</text>
<text x="974.5" y="1574.3" font-size="19" text-anchor="end" font-family="Liberation Sans, sans-serif">30N</text>
<text x="974.5" y="1623.6" font-size="19" text-anchor="end" font-family="Liberation Sans, sans-serif">0</text>
<text x="974.5" y="1672.9" font-size="19" text-anchor="end" font-family="Liberation Sans, sans-serif">30S</text>
<text x="974.5" y="1722.3" font-size="19" text-anchor="end" font-family="Liberation Sans, sans-serif">60S</text>
<text x="974.5" y="1771.6" font-size="19" text-anchor="end" font-family="Liberation Sans, sans-serif">90S</text>
<text x="998.1" y="1447.6" font-size="27.1" font-family="Liberation Sans, sans-serif">h) NOAA 20CR wind trend (m<tspan font-size="11" dy="-6" dx="2">·</tspan><tspan dy="6" dx="2">s</tspan><tspan font-size="16" dy="-12">-1</tspan><tspan dy="12">/dec) : 1973-2012</tspan></text>
<rect x="1627.5" y="1474.90" width="35" height="20.20" fill="#FFB3B3" stroke="#000" stroke-opacity="0.55" stroke-width="0.8"/>
<rect x="1627.5" y="1495.10" width="35" height="20.20" fill="#CD1010" stroke="#000" stroke-opacity="0.55" stroke-width="0.8"/>
<rect x="1627.5" y="1515.30" width="35" height="20.20" fill="#FA0505" stroke="#000" stroke-opacity="0.55" stroke-width="0.8"/>
<rect x="1627.5" y="1535.50" width="35" height="20.20" fill="#FF5500" stroke="#000" stroke-opacity="0.55" stroke-width="0.8"/>
<rect x="1627.5" y="1555.70" width="35" height="20.20" fill="#FFA00A" stroke="#000" stroke-opacity="0.55" stroke-width="0.8"/>
<rect x="1627.5" y="1575.90" width="35" height="20.20" fill="#FFD030" stroke="#000" stroke-opacity="0.55" stroke-width="0.8"/>
<rect x="1627.5" y="1596.10" width="35" height="20.20" fill="#FFF59B" stroke="#000" stroke-opacity="0.55" stroke-width="0.8"/>
<rect x="1627.5" y="1616.30" width="35" height="20.20" fill="#B4DCF5" stroke="#000" stroke-opacity="0.55" stroke-width="0.8"/>
<rect x="1627.5" y="1636.50" width="35" height="20.20" fill="#5AC0F5" stroke="#000" stroke-opacity="0.55" stroke-width="0.8"/>
<rect x="1627.5" y="1656.70" width="35" height="20.20" fill="#0AAFFA" stroke="#000" stroke-opacity="0.55" stroke-width="0.8"/>
<rect x="1627.5" y="1676.90" width="35" height="20.20" fill="#2882F5" stroke="#000" stroke-opacity="0.55" stroke-width="0.8"/>
<rect x="1627.5" y="1697.10" width="35" height="20.20" fill="#3C5AD7" stroke="#000" stroke-opacity="0.55" stroke-width="0.8"/>
<rect x="1627.5" y="1717.30" width="35" height="20.20" fill="#0A05F5" stroke="#000" stroke-opacity="0.55" stroke-width="0.8"/>
<rect x="1627.5" y="1737.50" width="35" height="20.20" fill="#8A2BE2" stroke="#000" stroke-opacity="0.55" stroke-width="0.8"/>
<text x="1676.0" y="1501.9" font-size="19" font-family="Liberation Sans, sans-serif">0.6</text>
<text x="1676.0" y="1542.3" font-size="19" font-family="Liberation Sans, sans-serif">0.4</text>
<text x="1676.0" y="1582.7" font-size="19" font-family="Liberation Sans, sans-serif">0.2</text>
<text x="1676.0" y="1623.1" font-size="19" font-family="Liberation Sans, sans-serif">0</text>
<text x="1672.5" y="1663.5" font-size="19" font-family="Liberation Sans, sans-serif">-0.2</text>
<text x="1672.5" y="1703.9" font-size="19" font-family="Liberation Sans, sans-serif">-0.4</text>
<text x="1672.5" y="1744.3" font-size="19" font-family="Liberation Sans, sans-serif">-0.6</text>
<rect x="1047.4" y="1649.7" width="296.0" height="41.1" fill="none" stroke="#000" stroke-width="4"/>
</svg></body></html>
